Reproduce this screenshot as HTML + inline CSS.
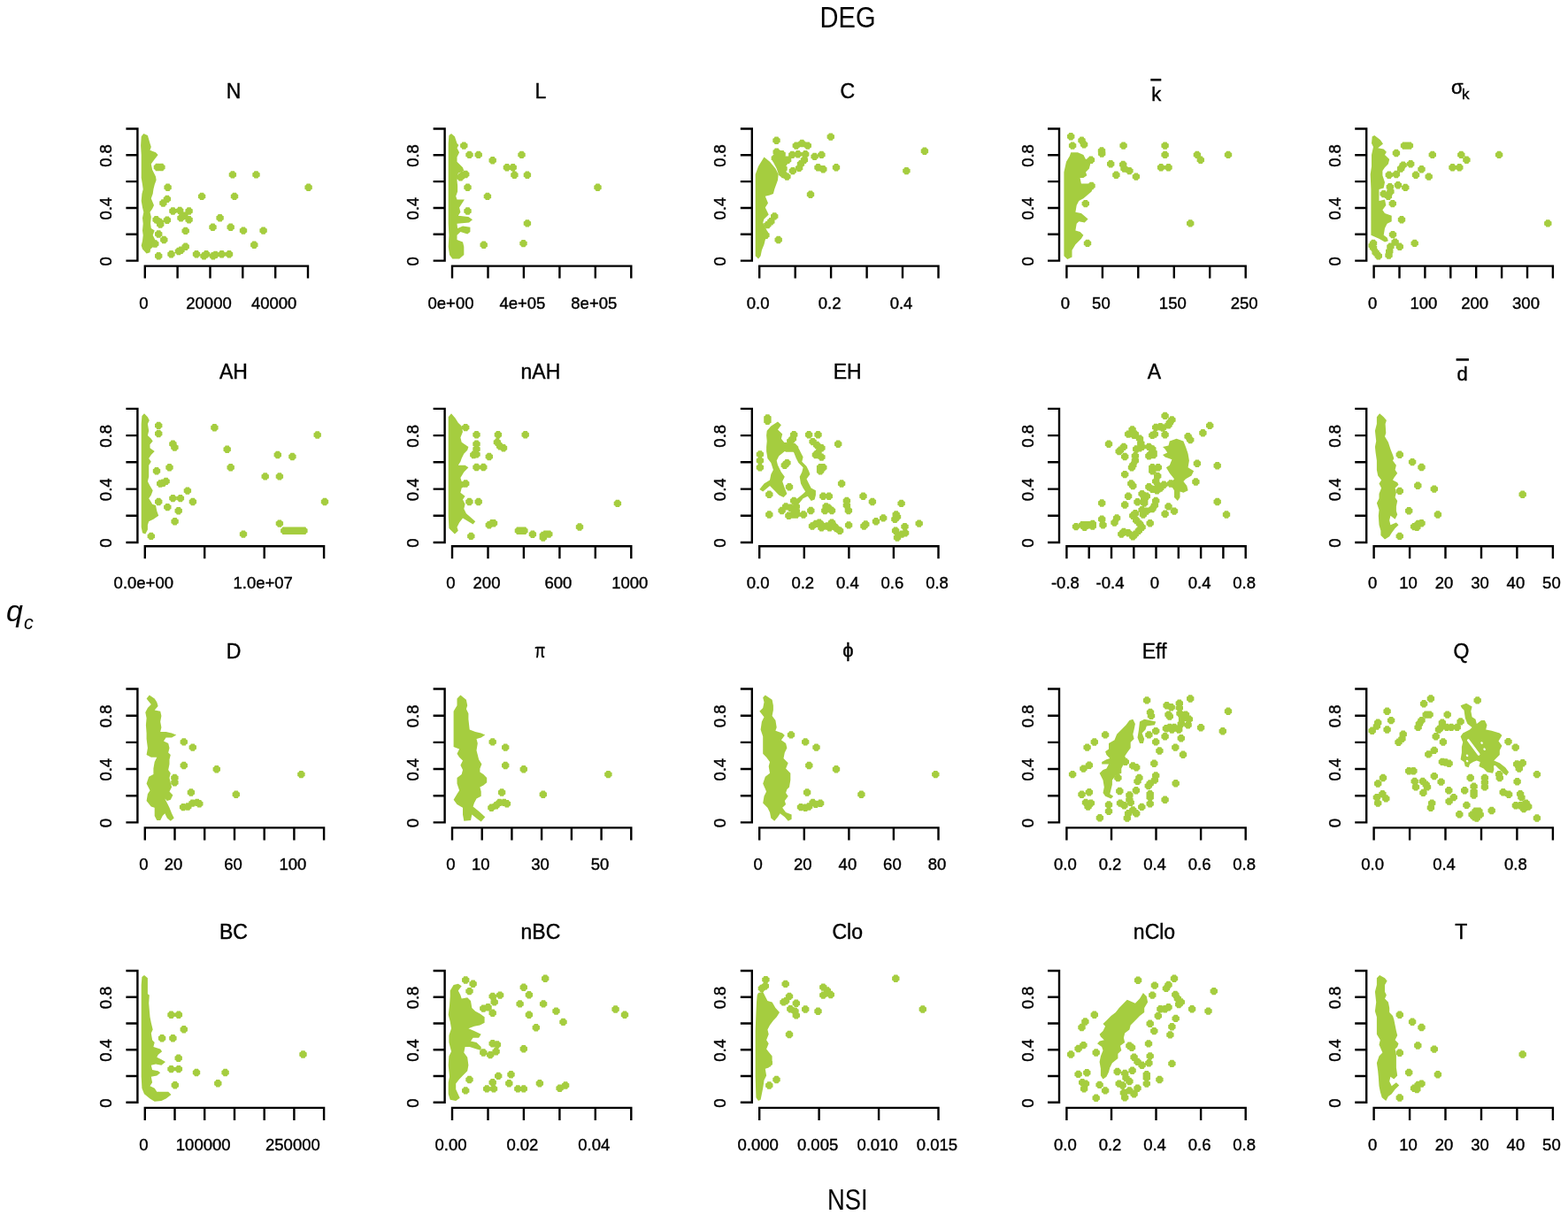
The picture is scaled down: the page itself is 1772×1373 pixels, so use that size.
<!DOCTYPE html><html><head><meta charset="utf-8"><style>html,body{margin:0;padding:0;background:#fff;}svg{display:block}text{font-family:"Liberation Sans",Arial,sans-serif;fill:#000}.t{stroke:#000;stroke-width:0.4px}</style></head><body>
<svg width="1772" height="1373" viewBox="0 0 1772 1373">
<rect width="1772" height="1373" fill="#fff"/>
<text x="958" y="30.7" font-size="33" text-anchor="middle" textLength="63" lengthAdjust="spacingAndGlyphs">DEG</text>
<text x="957.8" y="1367" font-size="33" text-anchor="middle" textLength="45.7" lengthAdjust="spacingAndGlyphs">NSI</text>
<text x="7" y="701.5" font-size="34" font-style="italic">q</text>
<text x="27" y="710.5" font-size="21.5" font-style="italic">c</text>
<g><path d="M142.4 145.5 H155.4 V294.6 H142.4 M142.4 264.8 H155.4 M142.4 235 H155.4 M142.4 205.1 H155.4 M142.4 175.3 H155.4 M163.8 314.6 V300.6 H348 V314.6 M200.6 300.6 V314.6 M237.5 300.6 V314.6 M274.3 300.6 V314.6 M311.2 300.6 V314.6" fill="none" stroke="#000" stroke-width="2.4"/><text class="t" transform="translate(125.9 295.3) rotate(-90)" font-size="18.5" text-anchor="middle">0</text><text class="t" transform="translate(125.9 235.7) rotate(-90)" font-size="18.5" text-anchor="middle">0.4</text><text class="t" transform="translate(125.9 176) rotate(-90)" font-size="18.5" text-anchor="middle">0.8</text><text class="t" x="162.3" y="348.6" font-size="18.5" text-anchor="middle">0</text><text class="t" x="236" y="348.6" font-size="18.5" text-anchor="middle">20000</text><text class="t" x="309.7" y="348.6" font-size="18.5" text-anchor="middle">40000</text><text class="t" x="264" y="111.2" font-size="23" text-anchor="middle">N</text><path d="M162.3 150.9 L166.9 152.9 L169.5 162 L170.8 165.9 L169.5 169.7 L176 172.3 L178.6 174.9 L174.7 180.1 L170.8 185.3 L172.1 191.8 L176 199.6 L176.6 203.5 L174.7 208.7 L173.4 213.9 L172.7 219.1 L170.8 224.3 L174 232 L172.1 235.9 L169.5 239.8 L170.8 245 L170.1 252.8 L170.8 258 L174.7 260.6 L172.7 265.8 L176 272.3 L177.9 275.5 L173.4 278.8 L170.1 281.4 L169.5 285.3 L165.6 286.6 L161 281.4 L159.7 277.5 L161 272.3 L161.7 265.8 L161 260.6 L161.7 252.8 L161 246.3 L162.3 239.8 L161 234.6 L159.7 226.9 L160.4 219.1 L161.7 213.9 L161 208.7 L159.7 200.9 L159.7 174.9 L159.1 164.6 L159.7 154.2Z" fill="#a5cd3f"/><path d="M175.9 184.8 L179.9 184.8 L180.6 186.3 L182.1 187 L182.1 191 L180.6 191.7 L179.9 193.2 L175.9 193.2 L175.2 191.7 L173.7 191 L173.7 187 L175.2 186.3ZM180.4 184.8 L184.4 184.8 L185.1 186.3 L186.6 187 L186.6 191 L185.1 191.7 L184.4 193.2 L180.4 193.2 L179.7 191.7 L178.2 191 L178.2 187 L179.7 186.3ZM260.9 193.2 L264.9 193.2 L265.6 194.7 L267.1 195.4 L267.1 199.4 L265.6 200.1 L264.9 201.6 L260.9 201.6 L260.2 200.1 L258.7 199.4 L258.7 195.4 L260.2 194.7ZM287.5 193.2 L291.5 193.2 L292.2 194.7 L293.7 195.4 L293.7 199.4 L292.2 200.1 L291.5 201.6 L287.5 201.6 L286.8 200.1 L285.3 199.4 L285.3 195.4 L286.8 194.7ZM346.6 207.5 L350.6 207.5 L351.3 209 L352.8 209.7 L352.8 213.7 L351.3 214.4 L350.6 215.9 L346.6 215.9 L345.9 214.4 L344.4 213.7 L344.4 209.7 L345.9 209ZM187.6 207.5 L191.6 207.5 L192.3 209 L193.8 209.7 L193.8 213.7 L192.3 214.4 L191.6 215.9 L187.6 215.9 L186.9 214.4 L185.4 213.7 L185.4 209.7 L186.9 209ZM226.1 217.7 L230.1 217.7 L230.8 219.2 L232.3 219.9 L232.3 223.9 L230.8 224.6 L230.1 226.1 L226.1 226.1 L225.4 224.6 L223.9 223.9 L223.9 219.9 L225.4 219.2ZM263 217.7 L267 217.7 L267.7 219.2 L269.2 219.9 L269.2 223.9 L267.7 224.6 L267 226.1 L263 226.1 L262.3 224.6 L260.8 223.9 L260.8 219.9 L262.3 219.2ZM186.9 220.7 L190.9 220.7 L191.6 222.2 L193.1 222.9 L193.1 226.9 L191.6 227.6 L190.9 229.1 L186.9 229.1 L186.2 227.6 L184.7 226.9 L184.7 222.9 L186.2 222.2ZM182.4 225.3 L186.4 225.3 L187.1 226.8 L188.6 227.5 L188.6 231.5 L187.1 232.2 L186.4 233.7 L182.4 233.7 L181.7 232.2 L180.2 231.5 L180.2 227.5 L181.7 226.8ZM193.4 234.3 L197.4 234.3 L198.1 235.8 L199.6 236.5 L199.6 240.5 L198.1 241.2 L197.4 242.7 L193.4 242.7 L192.7 241.2 L191.2 240.5 L191.2 236.5 L192.7 235.8ZM201.2 233.7 L205.2 233.7 L205.9 235.2 L207.4 235.9 L207.4 239.9 L205.9 240.6 L205.2 242.1 L201.2 242.1 L200.5 240.6 L199 239.9 L199 235.9 L200.5 235.2ZM211.6 234.3 L215.6 234.3 L216.3 235.8 L217.8 236.5 L217.8 240.5 L216.3 241.2 L215.6 242.7 L211.6 242.7 L210.9 241.2 L209.4 240.5 L209.4 236.5 L210.9 235.8ZM206.4 239.5 L210.4 239.5 L211.1 241 L212.6 241.7 L212.6 245.7 L211.1 246.4 L210.4 247.9 L206.4 247.9 L205.7 246.4 L204.2 245.7 L204.2 241.7 L205.7 241ZM202.5 242.1 L206.5 242.1 L207.2 243.6 L208.7 244.3 L208.7 248.3 L207.2 249 L206.5 250.5 L202.5 250.5 L201.8 249 L200.3 248.3 L200.3 244.3 L201.8 243.6ZM211.6 244.1 L215.6 244.1 L216.3 245.6 L217.8 246.3 L217.8 250.3 L216.3 251 L215.6 252.5 L211.6 252.5 L210.9 251 L209.4 250.3 L209.4 246.3 L210.9 245.6ZM174.6 244.1 L178.6 244.1 L179.3 245.6 L180.8 246.3 L180.8 250.3 L179.3 251 L178.6 252.5 L174.6 252.5 L173.9 251 L172.4 250.3 L172.4 246.3 L173.9 245.6ZM178.5 246.7 L182.5 246.7 L183.2 248.2 L184.7 248.9 L184.7 252.9 L183.2 253.6 L182.5 255.1 L178.5 255.1 L177.8 253.6 L176.3 252.9 L176.3 248.9 L177.8 248.2ZM179.2 249.3 L183.2 249.3 L183.9 250.8 L185.4 251.5 L185.4 255.5 L183.9 256.2 L183.2 257.7 L179.2 257.7 L178.5 256.2 L177 255.5 L177 251.5 L178.5 250.8ZM186.9 244.5 L190.9 244.5 L191.6 246 L193.1 246.7 L193.1 250.7 L191.6 251.4 L190.9 252.9 L186.9 252.9 L186.2 251.4 L184.7 250.7 L184.7 246.7 L186.2 246ZM246.6 242.1 L250.6 242.1 L251.3 243.6 L252.8 244.3 L252.8 248.3 L251.3 249 L250.6 250.5 L246.6 250.5 L245.9 249 L244.4 248.3 L244.4 244.3 L245.9 243.6ZM238.5 252.5 L242.5 252.5 L243.2 254 L244.7 254.7 L244.7 258.7 L243.2 259.4 L242.5 260.9 L238.5 260.9 L237.8 259.4 L236.3 258.7 L236.3 254.7 L237.8 254ZM258.7 252.5 L262.7 252.5 L263.4 254 L264.9 254.7 L264.9 258.7 L263.4 259.4 L262.7 260.9 L258.7 260.9 L258 259.4 L256.5 258.7 L256.5 254.7 L258 254ZM273 256.4 L277 256.4 L277.7 257.9 L279.2 258.6 L279.2 262.6 L277.7 263.3 L277 264.8 L273 264.8 L272.3 263.3 L270.8 262.6 L270.8 258.6 L272.3 257.9ZM295.6 256.4 L299.6 256.4 L300.3 257.9 L301.8 258.6 L301.8 262.6 L300.3 263.3 L299.6 264.8 L295.6 264.8 L294.9 263.3 L293.4 262.6 L293.4 258.6 L294.9 257.9ZM207.7 256.7 L211.7 256.7 L212.4 258.2 L213.9 258.9 L213.9 262.9 L212.4 263.6 L211.7 265.1 L207.7 265.1 L207 263.6 L205.5 262.9 L205.5 258.9 L207 258.2ZM177.2 260.3 L181.2 260.3 L181.9 261.8 L183.4 262.5 L183.4 266.5 L181.9 267.2 L181.2 268.7 L177.2 268.7 L176.5 267.2 L175 266.5 L175 262.5 L176.5 261.8ZM183.3 266.8 L187.3 266.8 L188 268.3 L189.5 269 L189.5 273 L188 273.7 L187.3 275.2 L183.3 275.2 L182.6 273.7 L181.1 273 L181.1 269 L182.6 268.3ZM173.3 271.3 L177.3 271.3 L178 272.8 L179.5 273.5 L179.5 277.5 L178 278.2 L177.3 279.7 L173.3 279.7 L172.6 278.2 L171.1 277.5 L171.1 273.5 L172.6 272.8ZM285.3 272.6 L289.3 272.6 L290 274.1 L291.5 274.8 L291.5 278.8 L290 279.5 L289.3 281 L285.3 281 L284.6 279.5 L283.1 278.8 L283.1 274.8 L284.6 274.1ZM207.7 274.6 L211.7 274.6 L212.4 276.1 L213.9 276.8 L213.9 280.8 L212.4 281.5 L211.7 283 L207.7 283 L207 281.5 L205.5 280.8 L205.5 276.8 L207 276.1ZM202.5 278.5 L206.5 278.5 L207.2 280 L208.7 280.7 L208.7 284.7 L207.2 285.4 L206.5 286.9 L202.5 286.9 L201.8 285.4 L200.3 284.7 L200.3 280.7 L201.8 280ZM199.9 279.8 L203.9 279.8 L204.6 281.3 L206.1 282 L206.1 286 L204.6 286.7 L203.9 288.2 L199.9 288.2 L199.2 286.7 L197.7 286 L197.7 282 L199.2 281.3ZM177.2 285 L181.2 285 L181.9 286.5 L183.4 287.2 L183.4 291.2 L181.9 291.9 L181.2 293.4 L177.2 293.4 L176.5 291.9 L175 291.2 L175 287.2 L176.5 286.5ZM191.5 283 L195.5 283 L196.2 284.5 L197.7 285.2 L197.7 289.2 L196.2 289.9 L195.5 291.4 L191.5 291.4 L190.8 289.9 L189.3 289.2 L189.3 285.2 L190.8 284.5ZM220 283 L224 283 L224.7 284.5 L226.2 285.2 L226.2 289.2 L224.7 289.9 L224 291.4 L220 291.4 L219.3 289.9 L217.8 289.2 L217.8 285.2 L219.3 284.5ZM228.5 285 L232.5 285 L233.2 286.5 L234.7 287.2 L234.7 291.2 L233.2 291.9 L232.5 293.4 L228.5 293.4 L227.8 291.9 L226.3 291.2 L226.3 287.2 L227.8 286.5ZM231.1 283 L235.1 283 L235.8 284.5 L237.3 285.2 L237.3 289.2 L235.8 289.9 L235.1 291.4 L231.1 291.4 L230.4 289.9 L228.9 289.2 L228.9 285.2 L230.4 284.5ZM238.9 285 L242.9 285 L243.6 286.5 L245.1 287.2 L245.1 291.2 L243.6 291.9 L242.9 293.4 L238.9 293.4 L238.2 291.9 L236.7 291.2 L236.7 287.2 L238.2 286.5ZM241.5 283.7 L245.5 283.7 L246.2 285.2 L247.7 285.9 L247.7 289.9 L246.2 290.6 L245.5 292.1 L241.5 292.1 L240.8 290.6 L239.3 289.9 L239.3 285.9 L240.8 285.2ZM248.6 283 L252.6 283 L253.3 284.5 L254.8 285.2 L254.8 289.2 L253.3 289.9 L252.6 291.4 L248.6 291.4 L247.9 289.9 L246.4 289.2 L246.4 285.2 L247.9 284.5ZM257 283 L261 283 L261.7 284.5 L263.2 285.2 L263.2 289.2 L261.7 289.9 L261 291.4 L257 291.4 L256.3 289.9 L254.8 289.2 L254.8 285.2 L256.3 284.5Z" fill="#a5cd3f"/></g>
<g><path d="M489.6 145.5 H502.6 V294.6 H489.6 M489.6 264.8 H502.6 M489.6 235 H502.6 M489.6 205.1 H502.6 M489.6 175.3 H502.6 M511 314.6 V300.6 H713.3 V314.6 M551.5 300.6 V314.6 M591.9 300.6 V314.6 M632.4 300.6 V314.6 M672.8 300.6 V314.6" fill="none" stroke="#000" stroke-width="2.4"/><text class="t" transform="translate(473.1 295.3) rotate(-90)" font-size="18.5" text-anchor="middle">0</text><text class="t" transform="translate(473.1 235.7) rotate(-90)" font-size="18.5" text-anchor="middle">0.4</text><text class="t" transform="translate(473.1 176) rotate(-90)" font-size="18.5" text-anchor="middle">0.8</text><text class="t" x="509.5" y="348.6" font-size="18.5" text-anchor="middle">0e+00</text><text class="t" x="590.4" y="348.6" font-size="18.5" text-anchor="middle">4e+05</text><text class="t" x="671.3" y="348.6" font-size="18.5" text-anchor="middle">8e+05</text><text class="t" x="610.9" y="111.2" font-size="23" text-anchor="middle">L</text><path d="M510 150.9 L513.9 154.2 L516.5 162 L518.4 163.9 L516.5 167.2 L519.1 172.3 L516.5 177.5 L516.5 182.7 L523 189.2 L524.3 193.1 L517.8 195.7 L516.5 203.5 L517.1 210 L517.1 216.5 L515.2 221.7 L516.5 225.6 L524.9 225.6 L519.1 234.6 L520.4 239.8 L517.8 243.7 L529.4 245 L534 248.3 L530.1 251.5 L516.5 252.8 L517.1 258 L523 255.4 L531.4 256.7 L531.4 261.9 L528.2 264.5 L520.4 261.9 L516.5 265.8 L516.5 271 L523 273.6 L524.3 278.8 L524.3 287.9 L519.1 292.4 L511.3 292.4 L508 287.9 L506.7 278.8 L507.4 265.8 L506.7 252.8 L506.7 226.9 L506.7 187.9 L506.7 162 L507.4 152.9Z" fill="#a5cd3f"/><path d="M522.3 160.4 L526.3 160.4 L527 161.9 L528.5 162.6 L528.5 166.6 L527 167.3 L526.3 168.8 L522.3 168.8 L521.6 167.3 L520.1 166.6 L520.1 162.6 L521.6 161.9ZM528.5 170.7 L532.5 170.7 L533.2 172.2 L534.7 172.9 L534.7 176.9 L533.2 177.6 L532.5 179.1 L528.5 179.1 L527.8 177.6 L526.3 176.9 L526.3 172.9 L527.8 172.2ZM538.7 170.7 L542.7 170.7 L543.4 172.2 L544.9 172.9 L544.9 176.9 L543.4 177.6 L542.7 179.1 L538.7 179.1 L538 177.6 L536.5 176.9 L536.5 172.9 L538 172.2ZM554.7 177 L558.7 177 L559.4 178.5 L560.9 179.2 L560.9 183.2 L559.4 183.9 L558.7 185.4 L554.7 185.4 L554 183.9 L552.5 183.2 L552.5 179.2 L554 178.5ZM587.5 170.7 L591.5 170.7 L592.2 172.2 L593.7 172.9 L593.7 176.9 L592.2 177.6 L591.5 179.1 L587.5 179.1 L586.8 177.6 L585.3 176.9 L585.3 172.9 L586.8 172.2ZM570.9 185 L574.9 185 L575.6 186.5 L577.1 187.2 L577.1 191.2 L575.6 191.9 L574.9 193.4 L570.9 193.4 L570.2 191.9 L568.7 191.2 L568.7 187.2 L570.2 186.5ZM577.7 185 L581.7 185 L582.4 186.5 L583.9 187.2 L583.9 191.2 L582.4 191.9 L581.7 193.4 L577.7 193.4 L577 191.9 L575.5 191.2 L575.5 187.2 L577 186.5ZM579.4 193.5 L583.4 193.5 L584.1 195 L585.6 195.7 L585.6 199.7 L584.1 200.4 L583.4 201.9 L579.4 201.9 L578.7 200.4 L577.2 199.7 L577.2 195.7 L578.7 195ZM593.9 193.5 L597.9 193.5 L598.6 195 L600.1 195.7 L600.1 199.7 L598.6 200.4 L597.9 201.9 L593.9 201.9 L593.2 200.4 L591.7 199.7 L591.7 195.7 L593.2 195ZM521 193.5 L525 193.5 L525.7 195 L527.2 195.7 L527.2 199.7 L525.7 200.4 L525 201.9 L521 201.9 L520.3 200.4 L518.8 199.7 L518.8 195.7 L520.3 195ZM524.2 192.8 L528.2 192.8 L528.9 194.3 L530.4 195 L530.4 199 L528.9 199.7 L528.2 201.2 L524.2 201.2 L523.5 199.7 L522 199 L522 195 L523.5 194.3ZM518.4 196 L522.4 196 L523.1 197.5 L524.6 198.2 L524.6 202.2 L523.1 202.9 L522.4 204.4 L518.4 204.4 L517.7 202.9 L516.2 202.2 L516.2 198.2 L517.7 197.5ZM526.5 207.5 L530.5 207.5 L531.2 209 L532.7 209.7 L532.7 213.7 L531.2 214.4 L530.5 215.9 L526.5 215.9 L525.8 214.4 L524.3 213.7 L524.3 209.7 L525.8 209ZM548.9 217.7 L552.9 217.7 L553.6 219.2 L555.1 219.9 L555.1 223.9 L553.6 224.6 L552.9 226.1 L548.9 226.1 L548.2 224.6 L546.7 223.9 L546.7 219.9 L548.2 219.2ZM673.5 207.5 L677.5 207.5 L678.2 209 L679.7 209.7 L679.7 213.7 L678.2 214.4 L677.5 215.9 L673.5 215.9 L672.8 214.4 L671.3 213.7 L671.3 209.7 L672.8 209ZM526.5 234.3 L530.5 234.3 L531.2 235.8 L532.7 236.5 L532.7 240.5 L531.2 241.2 L530.5 242.7 L526.5 242.7 L525.8 241.2 L524.3 240.5 L524.3 236.5 L525.8 235.8ZM593.9 248.2 L597.9 248.2 L598.6 249.7 L600.1 250.4 L600.1 254.4 L598.6 255.1 L597.9 256.6 L593.9 256.6 L593.2 255.1 L591.7 254.4 L591.7 250.4 L593.2 249.7ZM544.7 272.6 L548.7 272.6 L549.4 274.1 L550.9 274.8 L550.9 278.8 L549.4 279.5 L548.7 281 L544.7 281 L544 279.5 L542.5 278.8 L542.5 274.8 L544 274.1ZM589.5 270.9 L593.5 270.9 L594.2 272.4 L595.7 273.1 L595.7 277.1 L594.2 277.8 L593.5 279.3 L589.5 279.3 L588.8 277.8 L587.3 277.1 L587.3 273.1 L588.8 272.4Z" fill="#a5cd3f"/></g>
<g><path d="M836.8 145.5 H849.8 V294.6 H836.8 M836.8 264.8 H849.8 M836.8 235 H849.8 M836.8 205.1 H849.8 M836.8 175.3 H849.8 M858.2 314.6 V300.6 H1060.5 V314.6 M898.7 300.6 V314.6 M939.1 300.6 V314.6 M979.6 300.6 V314.6 M1020 300.6 V314.6" fill="none" stroke="#000" stroke-width="2.4"/><text class="t" transform="translate(820.3 295.3) rotate(-90)" font-size="18.5" text-anchor="middle">0</text><text class="t" transform="translate(820.3 235.7) rotate(-90)" font-size="18.5" text-anchor="middle">0.4</text><text class="t" transform="translate(820.3 176) rotate(-90)" font-size="18.5" text-anchor="middle">0.8</text><text class="t" x="856.7" y="348.6" font-size="18.5" text-anchor="middle">0.0</text><text class="t" x="937.6" y="348.6" font-size="18.5" text-anchor="middle">0.2</text><text class="t" x="1018.5" y="348.6" font-size="18.5" text-anchor="middle">0.4</text><text class="t" x="957.7" y="111.2" font-size="23" text-anchor="middle">C</text><path d="M857 292.4 L853.7 289.2 L853.7 265.8 L853.7 239.8 L853.7 213.9 L853.7 197 L857 187.9 L863.5 177.5 L870 182.7 L876.4 190.5 L879.7 197 L879 203.5 L875.2 213.9 L873.9 219.1 L870 220.4 L864.8 221.7 L868 229.5 L864.8 234.6 L868.7 242.4 L863.5 247.6 L862.2 251.5 L868.7 264.5 L864.8 271 L863.5 276.2 L860.9 282.7 L859.6 289.2ZM872.6 180.8 L877.7 173.6 L886.8 177.5 L892.7 181.4 L888.1 187.9 L888.8 195.7 L892 199.6 L888.1 202.2 L880.3 198.3 L877.7 190.5Z" fill="#a5cd3f"/><path d="M875.5 154.5 L879.5 154.5 L880.2 156 L881.7 156.7 L881.7 160.7 L880.2 161.4 L879.5 162.9 L875.5 162.9 L874.8 161.4 L873.3 160.7 L873.3 156.7 L874.8 156ZM936.8 150.4 L940.8 150.4 L941.5 151.9 L943 152.6 L943 156.6 L941.5 157.3 L940.8 158.8 L936.8 158.8 L936.1 157.3 L934.6 156.6 L934.6 152.6 L936.1 151.9ZM1042.9 166.6 L1046.9 166.6 L1047.6 168.1 L1049.1 168.8 L1049.1 172.8 L1047.6 173.5 L1046.9 175 L1042.9 175 L1042.2 173.5 L1040.7 172.8 L1040.7 168.8 L1042.2 168.1ZM897.8 160.4 L901.8 160.4 L902.5 161.9 L904 162.6 L904 166.6 L902.5 167.3 L901.8 168.8 L897.8 168.8 L897.1 167.3 L895.6 166.6 L895.6 162.6 L897.1 161.9ZM904.3 157.8 L908.3 157.8 L909 159.3 L910.5 160 L910.5 164 L909 164.7 L908.3 166.2 L904.3 166.2 L903.6 164.7 L902.1 164 L902.1 160 L903.6 159.3ZM910.8 160.4 L914.8 160.4 L915.5 161.9 L917 162.6 L917 166.6 L915.5 167.3 L914.8 168.8 L910.8 168.8 L910.1 167.3 L908.6 166.6 L908.6 162.6 L910.1 161.9ZM875.7 167.5 L879.7 167.5 L880.4 169 L881.9 169.7 L881.9 173.7 L880.4 174.4 L879.7 175.9 L875.7 175.9 L875 174.4 L873.5 173.7 L873.5 169.7 L875 169ZM881.6 170.1 L885.6 170.1 L886.3 171.6 L887.8 172.3 L887.8 176.3 L886.3 177 L885.6 178.5 L881.6 178.5 L880.9 177 L879.4 176.3 L879.4 172.3 L880.9 171.6ZM873.8 174.6 L877.8 174.6 L878.5 176.1 L880 176.8 L880 180.8 L878.5 181.5 L877.8 183 L873.8 183 L873.1 181.5 L871.6 180.8 L871.6 176.8 L873.1 176.1ZM882.2 174.6 L886.2 174.6 L886.9 176.1 L888.4 176.8 L888.4 180.8 L886.9 181.5 L886.2 183 L882.2 183 L881.5 181.5 L880 180.8 L880 176.8 L881.5 176.1ZM888.1 176.6 L892.1 176.6 L892.8 178.1 L894.3 178.8 L894.3 182.8 L892.8 183.5 L892.1 185 L888.1 185 L887.4 183.5 L885.9 182.8 L885.9 178.8 L887.4 178.1ZM893.3 170.7 L897.3 170.7 L898 172.2 L899.5 172.9 L899.5 176.9 L898 177.6 L897.3 179.1 L893.3 179.1 L892.6 177.6 L891.1 176.9 L891.1 172.9 L892.6 172.2ZM899.8 170.1 L903.8 170.1 L904.5 171.6 L906 172.3 L906 176.3 L904.5 177 L903.8 178.5 L899.8 178.5 L899.1 177 L897.6 176.3 L897.6 172.3 L899.1 171.6ZM908.2 170.1 L912.2 170.1 L912.9 171.6 L914.4 172.3 L914.4 176.3 L912.9 177 L912.2 178.5 L908.2 178.5 L907.5 177 L906 176.3 L906 172.3 L907.5 171.6ZM906.9 176.6 L910.9 176.6 L911.6 178.1 L913.1 178.8 L913.1 182.8 L911.6 183.5 L910.9 185 L906.9 185 L906.2 183.5 L904.7 182.8 L904.7 178.8 L906.2 178.1ZM903 181.1 L907 181.1 L907.7 182.6 L909.2 183.3 L909.2 187.3 L907.7 188 L907 189.5 L903 189.5 L902.3 188 L900.8 187.3 L900.8 183.3 L902.3 182.6ZM901.1 185.7 L905.1 185.7 L905.8 187.2 L907.3 187.9 L907.3 191.9 L905.8 192.6 L905.1 194.1 L901.1 194.1 L900.4 192.6 L898.9 191.9 L898.9 187.9 L900.4 187.2ZM893.9 188.9 L897.9 188.9 L898.6 190.4 L900.1 191.1 L900.1 195.1 L898.6 195.8 L897.9 197.3 L893.9 197.3 L893.2 195.8 L891.7 195.1 L891.7 191.1 L893.2 190.4ZM883.5 186.3 L887.5 186.3 L888.2 187.8 L889.7 188.5 L889.7 192.5 L888.2 193.2 L887.5 194.7 L883.5 194.7 L882.8 193.2 L881.3 192.5 L881.3 188.5 L882.8 187.8ZM883.5 192.8 L887.5 192.8 L888.2 194.3 L889.7 195 L889.7 199 L888.2 199.7 L887.5 201.2 L883.5 201.2 L882.8 199.7 L881.3 199 L881.3 195 L882.8 194.3ZM887.4 195.4 L891.4 195.4 L892.1 196.9 L893.6 197.6 L893.6 201.6 L892.1 202.3 L891.4 203.8 L887.4 203.8 L886.7 202.3 L885.2 201.6 L885.2 197.6 L886.7 196.9ZM918.6 172.7 L922.6 172.7 L923.3 174.2 L924.8 174.9 L924.8 178.9 L923.3 179.6 L922.6 181.1 L918.6 181.1 L917.9 179.6 L916.4 178.9 L916.4 174.9 L917.9 174.2ZM926.4 170.7 L930.4 170.7 L931.1 172.2 L932.6 172.9 L932.6 176.9 L931.1 177.6 L930.4 179.1 L926.4 179.1 L925.7 177.6 L924.2 176.9 L924.2 172.9 L925.7 172.2ZM922.5 185 L926.5 185 L927.2 186.5 L928.7 187.2 L928.7 191.2 L927.2 191.9 L926.5 193.4 L922.5 193.4 L921.8 191.9 L920.3 191.2 L920.3 187.2 L921.8 186.5ZM928.3 187 L932.3 187 L933 188.5 L934.5 189.2 L934.5 193.2 L933 193.9 L932.3 195.4 L928.3 195.4 L927.6 193.9 L926.1 193.2 L926.1 189.2 L927.6 188.5ZM943 185 L947 185 L947.7 186.5 L949.2 187.2 L949.2 191.2 L947.7 191.9 L947 193.4 L943 193.4 L942.3 191.9 L940.8 191.2 L940.8 187.2 L942.3 186.5ZM1022.4 188.9 L1026.4 188.9 L1027.1 190.4 L1028.6 191.1 L1028.6 195.1 L1027.1 195.8 L1026.4 197.3 L1022.4 197.3 L1021.7 195.8 L1020.2 195.1 L1020.2 191.1 L1021.7 190.4ZM914 215.5 L918 215.5 L918.7 217 L920.2 217.7 L920.2 221.7 L918.7 222.4 L918 223.9 L914 223.9 L913.3 222.4 L911.8 221.7 L911.8 217.7 L913.3 217ZM873.2 240.2 L877.2 240.2 L877.9 241.7 L879.4 242.4 L879.4 246.4 L877.9 247.1 L877.2 248.6 L873.2 248.6 L872.5 247.1 L871 246.4 L871 242.4 L872.5 241.7ZM869.3 246 L873.3 246 L874 247.5 L875.5 248.2 L875.5 252.2 L874 252.9 L873.3 254.4 L869.3 254.4 L868.6 252.9 L867.1 252.2 L867.1 248.2 L868.6 247.5ZM865.4 249.9 L869.4 249.9 L870.1 251.4 L871.6 252.1 L871.6 256.1 L870.1 256.8 L869.4 258.3 L865.4 258.3 L864.7 256.8 L863.2 256.1 L863.2 252.1 L864.7 251.4ZM877.7 266.8 L881.7 266.8 L882.4 268.3 L883.9 269 L883.9 273 L882.4 273.7 L881.7 275.2 L877.7 275.2 L877 273.7 L875.5 273 L875.5 269 L877 268.3ZM863.4 261.6 L867.4 261.6 L868.1 263.1 L869.6 263.8 L869.6 267.8 L868.1 268.5 L867.4 270 L863.4 270 L862.7 268.5 L861.2 267.8 L861.2 263.8 L862.7 263.1Z" fill="#a5cd3f"/></g>
<g><path d="M1184 145.5 H1197 V294.6 H1184 M1184 264.8 H1197 M1184 235 H1197 M1184 205.1 H1197 M1184 175.3 H1197 M1205.4 314.6 V300.6 H1407.7 V314.6 M1245.9 300.6 V314.6 M1286.3 300.6 V314.6 M1326.8 300.6 V314.6 M1367.2 300.6 V314.6" fill="none" stroke="#000" stroke-width="2.4"/><text class="t" transform="translate(1167.5 295.3) rotate(-90)" font-size="18.5" text-anchor="middle">0</text><text class="t" transform="translate(1167.5 235.7) rotate(-90)" font-size="18.5" text-anchor="middle">0.4</text><text class="t" transform="translate(1167.5 176) rotate(-90)" font-size="18.5" text-anchor="middle">0.8</text><text class="t" x="1203.9" y="348.6" font-size="18.5" text-anchor="middle">0</text><text class="t" x="1244.4" y="348.6" font-size="18.5" text-anchor="middle">50</text><text class="t" x="1325.3" y="348.6" font-size="18.5" text-anchor="middle">150</text><text class="t" x="1406.2" y="348.6" font-size="18.5" text-anchor="middle">250</text><text class="t" x="1306.7" y="114.2" font-size="22" text-anchor="middle">k</text><path d="M1300.3 90.2 H1312.3" stroke="#000" stroke-width="2.6"/><path d="M1210.2 172.3 L1218 172.3 L1224.4 174.9 L1227 180.1 L1230.9 178.8 L1236.1 180.8 L1232.2 185.3 L1230.9 190.5 L1227 194.4 L1228.3 198.3 L1224.4 200.9 L1220.6 200.9 L1221.9 207.4 L1232.2 207.4 L1236.1 210 L1233.5 216.5 L1224.4 224.3 L1219.3 226.9 L1216.7 232 L1215.4 239.8 L1221.9 241.1 L1229.6 247.6 L1225.7 251.5 L1219.3 250.2 L1216.7 252.8 L1215.4 260.6 L1220.6 261.9 L1224.4 265.8 L1221.9 269.7 L1215.4 276.2 L1211.5 282.7 L1211.5 290.5 L1206.3 293.1 L1202.4 289.2 L1202.4 265.8 L1202.4 239.8 L1202.4 213.9 L1202.4 194.4 L1205 182.7 L1208.9 176.2Z" fill="#a5cd3f"/><path d="M1208.2 150 L1212.2 150 L1212.9 151.5 L1214.4 152.2 L1214.4 156.2 L1212.9 156.9 L1212.2 158.4 L1208.2 158.4 L1207.5 156.9 L1206 156.2 L1206 152.2 L1207.5 151.5ZM1220.5 154.5 L1224.5 154.5 L1225.2 156 L1226.7 156.7 L1226.7 160.7 L1225.2 161.4 L1224.5 162.9 L1220.5 162.9 L1219.8 161.4 L1218.3 160.7 L1218.3 156.7 L1219.8 156ZM1223.1 159.1 L1227.1 159.1 L1227.8 160.6 L1229.3 161.3 L1229.3 165.3 L1227.8 166 L1227.1 167.5 L1223.1 167.5 L1222.4 166 L1220.9 165.3 L1220.9 161.3 L1222.4 160.6ZM1210.1 160.4 L1214.1 160.4 L1214.8 161.9 L1216.3 162.6 L1216.3 166.6 L1214.8 167.3 L1214.1 168.8 L1210.1 168.8 L1209.4 167.3 L1207.9 166.6 L1207.9 162.6 L1209.4 161.9ZM1243 166.2 L1247 166.2 L1247.7 167.7 L1249.2 168.4 L1249.2 172.4 L1247.7 173.1 L1247 174.6 L1243 174.6 L1242.3 173.1 L1240.8 172.4 L1240.8 168.4 L1242.3 167.7ZM1243.2 169.4 L1247.2 169.4 L1247.9 170.9 L1249.4 171.6 L1249.4 175.6 L1247.9 176.3 L1247.2 177.8 L1243.2 177.8 L1242.5 176.3 L1241 175.6 L1241 171.6 L1242.5 170.9ZM1267.6 160.4 L1271.6 160.4 L1272.3 161.9 L1273.8 162.6 L1273.8 166.6 L1272.3 167.3 L1271.6 168.8 L1267.6 168.8 L1266.9 167.3 L1265.4 166.6 L1265.4 162.6 L1266.9 161.9ZM1314.6 160.4 L1318.6 160.4 L1319.3 161.9 L1320.8 162.6 L1320.8 166.6 L1319.3 167.3 L1318.6 168.8 L1314.6 168.8 L1313.9 167.3 L1312.4 166.6 L1312.4 162.6 L1313.9 161.9ZM1314.6 170.7 L1318.6 170.7 L1319.3 172.2 L1320.8 172.9 L1320.8 176.9 L1319.3 177.6 L1318.6 179.1 L1314.6 179.1 L1313.9 177.6 L1312.4 176.9 L1312.4 172.9 L1313.9 172.2ZM1350.9 170.7 L1354.9 170.7 L1355.6 172.2 L1357.1 172.9 L1357.1 176.9 L1355.6 177.6 L1354.9 179.1 L1350.9 179.1 L1350.2 177.6 L1348.7 176.9 L1348.7 172.9 L1350.2 172.2ZM1354.8 176.6 L1358.8 176.6 L1359.5 178.1 L1361 178.8 L1361 182.8 L1359.5 183.5 L1358.8 185 L1354.8 185 L1354.1 183.5 L1352.6 182.8 L1352.6 178.8 L1354.1 178.1ZM1386 170.7 L1390 170.7 L1390.7 172.2 L1392.2 172.9 L1392.2 176.9 L1390.7 177.6 L1390 179.1 L1386 179.1 L1385.3 177.6 L1383.8 176.9 L1383.8 172.9 L1385.3 172.2ZM1230.9 176.6 L1234.9 176.6 L1235.6 178.1 L1237.1 178.8 L1237.1 182.8 L1235.6 183.5 L1234.9 185 L1230.9 185 L1230.2 183.5 L1228.7 182.8 L1228.7 178.8 L1230.2 178.1ZM1253.2 181.1 L1257.2 181.1 L1257.9 182.6 L1259.4 183.3 L1259.4 187.3 L1257.9 188 L1257.2 189.5 L1253.2 189.5 L1252.5 188 L1251 187.3 L1251 183.3 L1252.5 182.6ZM1267.2 181.8 L1271.2 181.8 L1271.9 183.3 L1273.4 184 L1273.4 188 L1271.9 188.7 L1271.2 190.2 L1267.2 190.2 L1266.5 188.7 L1265 188 L1265 184 L1266.5 183.3ZM1268.5 186.3 L1272.5 186.3 L1273.2 187.8 L1274.7 188.5 L1274.7 192.5 L1273.2 193.2 L1272.5 194.7 L1268.5 194.7 L1267.8 193.2 L1266.3 192.5 L1266.3 188.5 L1267.8 187.8ZM1274.4 188.9 L1278.4 188.9 L1279.1 190.4 L1280.6 191.1 L1280.6 195.1 L1279.1 195.8 L1278.4 197.3 L1274.4 197.3 L1273.7 195.8 L1272.2 195.1 L1272.2 191.1 L1273.7 190.4ZM1259.4 193.5 L1263.4 193.5 L1264.1 195 L1265.6 195.7 L1265.6 199.7 L1264.1 200.4 L1263.4 201.9 L1259.4 201.9 L1258.7 200.4 L1257.2 199.7 L1257.2 195.7 L1258.7 195ZM1281.9 195.4 L1285.9 195.4 L1286.6 196.9 L1288.1 197.6 L1288.1 201.6 L1286.6 202.3 L1285.9 203.8 L1281.9 203.8 L1281.2 202.3 L1279.7 201.6 L1279.7 197.6 L1281.2 196.9ZM1310.1 185 L1314.1 185 L1314.8 186.5 L1316.3 187.2 L1316.3 191.2 L1314.8 191.9 L1314.1 193.4 L1310.1 193.4 L1309.4 191.9 L1307.9 191.2 L1307.9 187.2 L1309.4 186.5ZM1318.5 185 L1322.5 185 L1323.2 186.5 L1324.7 187.2 L1324.7 191.2 L1323.2 191.9 L1322.5 193.4 L1318.5 193.4 L1317.8 191.9 L1316.3 191.2 L1316.3 187.2 L1317.8 186.5ZM1224.8 225.9 L1228.8 225.9 L1229.5 227.4 L1231 228.1 L1231 232.1 L1229.5 232.8 L1228.8 234.3 L1224.8 234.3 L1224.1 232.8 L1222.6 232.1 L1222.6 228.1 L1224.1 227.4ZM1343.2 248.2 L1347.2 248.2 L1347.9 249.7 L1349.4 250.4 L1349.4 254.4 L1347.9 255.1 L1347.2 256.6 L1343.2 256.6 L1342.5 255.1 L1341 254.4 L1341 250.4 L1342.5 249.7ZM1227 270.7 L1231 270.7 L1231.7 272.2 L1233.2 272.9 L1233.2 276.9 L1231.7 277.6 L1231 279.1 L1227 279.1 L1226.3 277.6 L1224.8 276.9 L1224.8 272.9 L1226.3 272.2ZM1231.5 205.8 L1235.5 205.8 L1236.2 207.3 L1237.7 208 L1237.7 212 L1236.2 212.7 L1235.5 214.2 L1231.5 214.2 L1230.8 212.7 L1229.3 212 L1229.3 208 L1230.8 207.3Z" fill="#a5cd3f"/></g>
<g><path d="M1531.2 145.5 H1544.2 V294.6 H1531.2 M1531.2 264.8 H1544.2 M1531.2 235 H1544.2 M1531.2 205.1 H1544.2 M1531.2 175.3 H1544.2 M1552.6 314.6 V300.6 H1754.9 V314.6 M1581.5 300.6 V314.6 M1610.4 300.6 V314.6 M1639.3 300.6 V314.6 M1668.2 300.6 V314.6 M1697.1 300.6 V314.6 M1726 300.6 V314.6" fill="none" stroke="#000" stroke-width="2.4"/><text class="t" transform="translate(1514.7 295.3) rotate(-90)" font-size="18.5" text-anchor="middle">0</text><text class="t" transform="translate(1514.7 235.7) rotate(-90)" font-size="18.5" text-anchor="middle">0.4</text><text class="t" transform="translate(1514.7 176) rotate(-90)" font-size="18.5" text-anchor="middle">0.8</text><text class="t" x="1551.1" y="348.6" font-size="18.5" text-anchor="middle">0</text><text class="t" x="1608.9" y="348.6" font-size="18.5" text-anchor="middle">100</text><text class="t" x="1666.7" y="348.6" font-size="18.5" text-anchor="middle">200</text><text class="t" x="1724.5" y="348.6" font-size="18.5" text-anchor="middle">300</text><text class="t" x="1653.5" y="105.7" font-size="22" text-anchor="end">σ</text><text class="t" x="1652.1" y="111.7" font-size="17">k</text><path d="M1553.3 152.9 L1559.8 158.1 L1563 162.6 L1557.2 167.2 L1563.7 168.4 L1566.9 171.7 L1565 174.9 L1570.2 180.1 L1568.9 185.3 L1565 189.2 L1562.4 193.1 L1562.4 198.3 L1565 206.1 L1563.7 212.6 L1558.5 213.9 L1558.5 226.9 L1565 225.6 L1566.3 232 L1562.4 237.2 L1565 241.1 L1572.7 243.7 L1572.7 250.2 L1567.6 252.8 L1565 258 L1563.7 265.8 L1567.6 268.4 L1568.9 272.3 L1565 273.6 L1558.5 269.7 L1549.4 265.8 L1549.4 252.8 L1549.4 239.8 L1549.4 226.9 L1549.4 213.9 L1548.7 197 L1550 187.9 L1550 174.9 L1552 165.9 L1550 162 L1550.7 154.2Z" fill="#a5cd3f"/><path d="M1550 270.7 L1554 270.7 L1554.7 272.2 L1556.2 272.9 L1556.2 276.9 L1554.7 277.6 L1554 279.1 L1550 279.1 L1549.3 277.6 L1547.8 276.9 L1547.8 272.9 L1549.3 272.2ZM1550 275.9 L1554 275.9 L1554.7 277.4 L1556.2 278.1 L1556.2 282.1 L1554.7 282.8 L1554 284.3 L1550 284.3 L1549.3 282.8 L1547.8 282.1 L1547.8 278.1 L1549.3 277.4ZM1552.6 281.1 L1556.6 281.1 L1557.3 282.6 L1558.8 283.3 L1558.8 287.3 L1557.3 288 L1556.6 289.5 L1552.6 289.5 L1551.9 288 L1550.4 287.3 L1550.4 283.3 L1551.9 282.6ZM1555.8 285 L1559.8 285 L1560.5 286.5 L1562 287.2 L1562 291.2 L1560.5 291.9 L1559.8 293.4 L1555.8 293.4 L1555.1 291.9 L1553.6 291.2 L1553.6 287.2 L1555.1 286.5ZM1548.7 273.3 L1552.7 273.3 L1553.4 274.8 L1554.9 275.5 L1554.9 279.5 L1553.4 280.2 L1552.7 281.7 L1548.7 281.7 L1548 280.2 L1546.5 279.5 L1546.5 275.5 L1548 274.8ZM1568.2 279.8 L1572.2 279.8 L1572.9 281.3 L1574.4 282 L1574.4 286 L1572.9 286.7 L1572.2 288.2 L1568.2 288.2 L1567.5 286.7 L1566 286 L1566 282 L1567.5 281.3ZM1567.5 284.3 L1571.5 284.3 L1572.2 285.8 L1573.7 286.5 L1573.7 290.5 L1572.2 291.2 L1571.5 292.7 L1567.5 292.7 L1566.8 291.2 L1565.3 290.5 L1565.3 286.5 L1566.8 285.8ZM1569.4 274.6 L1573.4 274.6 L1574.1 276.1 L1575.6 276.8 L1575.6 280.8 L1574.1 281.5 L1573.4 283 L1569.4 283 L1568.7 281.5 L1567.2 280.8 L1567.2 276.8 L1568.7 276.1ZM1574.6 269.4 L1578.6 269.4 L1579.3 270.9 L1580.8 271.6 L1580.8 275.6 L1579.3 276.3 L1578.6 277.8 L1574.6 277.8 L1573.9 276.3 L1572.4 275.6 L1572.4 271.6 L1573.9 270.9ZM1579.8 274.6 L1583.8 274.6 L1584.5 276.1 L1586 276.8 L1586 280.8 L1584.5 281.5 L1583.8 283 L1579.8 283 L1579.1 281.5 L1577.6 280.8 L1577.6 276.8 L1579.1 276.1ZM1572 260.9 L1576 260.9 L1576.7 262.4 L1578.2 263.1 L1578.2 267.1 L1576.7 267.8 L1576 269.3 L1572 269.3 L1571.3 267.8 L1569.8 267.1 L1569.8 263.1 L1571.3 262.4ZM1596.7 270.7 L1600.7 270.7 L1601.4 272.2 L1602.9 272.9 L1602.9 276.9 L1601.4 277.6 L1600.7 279.1 L1596.7 279.1 L1596 277.6 L1594.5 276.9 L1594.5 272.9 L1596 272.2ZM1568.8 207.1 L1572.8 207.1 L1573.5 208.6 L1575 209.3 L1575 213.3 L1573.5 214 L1572.8 215.5 L1568.8 215.5 L1568.1 214 L1566.6 213.3 L1566.6 209.3 L1568.1 208.6ZM1569.4 212.3 L1573.4 212.3 L1574.1 213.8 L1575.6 214.5 L1575.6 218.5 L1574.1 219.2 L1573.4 220.7 L1569.4 220.7 L1568.7 219.2 L1567.2 218.5 L1567.2 214.5 L1568.7 213.8ZM1566.9 217.5 L1570.9 217.5 L1571.6 219 L1573.1 219.7 L1573.1 223.7 L1571.6 224.4 L1570.9 225.9 L1566.9 225.9 L1566.2 224.4 L1564.7 223.7 L1564.7 219.7 L1566.2 219ZM1561.7 214.9 L1565.7 214.9 L1566.4 216.4 L1567.9 217.1 L1567.9 221.1 L1566.4 221.8 L1565.7 223.3 L1561.7 223.3 L1561 221.8 L1559.5 221.1 L1559.5 217.1 L1561 216.4ZM1577.9 205.1 L1581.9 205.1 L1582.6 206.6 L1584.1 207.3 L1584.1 211.3 L1582.6 212 L1581.9 213.5 L1577.9 213.5 L1577.2 212 L1575.7 211.3 L1575.7 207.3 L1577.2 206.6ZM1586.3 207.7 L1590.3 207.7 L1591 209.2 L1592.5 209.9 L1592.5 213.9 L1591 214.6 L1590.3 216.1 L1586.3 216.1 L1585.6 214.6 L1584.1 213.9 L1584.1 209.9 L1585.6 209.2ZM1571.8 225.9 L1575.8 225.9 L1576.5 227.4 L1578 228.1 L1578 232.1 L1576.5 232.8 L1575.8 234.3 L1571.8 234.3 L1571.1 232.8 L1569.6 232.1 L1569.6 228.1 L1571.1 227.4ZM1582 244.1 L1586 244.1 L1586.7 245.6 L1588.2 246.3 L1588.2 250.3 L1586.7 251 L1586 252.5 L1582 252.5 L1581.3 251 L1579.8 250.3 L1579.8 246.3 L1581.3 245.6ZM1575.9 168.8 L1579.9 168.8 L1580.6 170.3 L1582.1 171 L1582.1 175 L1580.6 175.7 L1579.9 177.2 L1575.9 177.2 L1575.2 175.7 L1573.7 175 L1573.7 171 L1575.2 170.3ZM1588.3 160.4 L1592.3 160.4 L1593 161.9 L1594.5 162.6 L1594.5 166.6 L1593 167.3 L1592.3 168.8 L1588.3 168.8 L1587.6 167.3 L1586.1 166.6 L1586.1 162.6 L1587.6 161.9ZM1590.9 160.4 L1594.9 160.4 L1595.6 161.9 L1597.1 162.6 L1597.1 166.6 L1595.6 167.3 L1594.9 168.8 L1590.9 168.8 L1590.2 167.3 L1588.7 166.6 L1588.7 162.6 L1590.2 161.9ZM1585 160.4 L1589 160.4 L1589.7 161.9 L1591.2 162.6 L1591.2 166.6 L1589.7 167.3 L1589 168.8 L1585 168.8 L1584.3 167.3 L1582.8 166.6 L1582.8 162.6 L1584.3 161.9ZM1616.8 170.7 L1620.8 170.7 L1621.5 172.2 L1623 172.9 L1623 176.9 L1621.5 177.6 L1620.8 179.1 L1616.8 179.1 L1616.1 177.6 L1614.6 176.9 L1614.6 172.9 L1616.1 172.2ZM1649.3 170.7 L1653.3 170.7 L1654 172.2 L1655.5 172.9 L1655.5 176.9 L1654 177.6 L1653.3 179.1 L1649.3 179.1 L1648.6 177.6 L1647.1 176.9 L1647.1 172.9 L1648.6 172.2ZM1655.4 176.6 L1659.4 176.6 L1660.1 178.1 L1661.6 178.8 L1661.6 182.8 L1660.1 183.5 L1659.4 185 L1655.4 185 L1654.7 183.5 L1653.2 182.8 L1653.2 178.8 L1654.7 178.1ZM1639.5 185 L1643.5 185 L1644.2 186.5 L1645.7 187.2 L1645.7 191.2 L1644.2 191.9 L1643.5 193.4 L1639.5 193.4 L1638.8 191.9 L1637.3 191.2 L1637.3 187.2 L1638.8 186.5ZM1647.3 185 L1651.3 185 L1652 186.5 L1653.5 187.2 L1653.5 191.2 L1652 191.9 L1651.3 193.4 L1647.3 193.4 L1646.6 191.9 L1645.1 191.2 L1645.1 187.2 L1646.6 186.5ZM1692.1 170.7 L1696.1 170.7 L1696.8 172.2 L1698.3 172.9 L1698.3 176.9 L1696.8 177.6 L1696.1 179.1 L1692.1 179.1 L1691.4 177.6 L1689.9 176.9 L1689.9 172.9 L1691.4 172.2ZM1567.8 193.5 L1571.8 193.5 L1572.5 195 L1574 195.7 L1574 199.7 L1572.5 200.4 L1571.8 201.9 L1567.8 201.9 L1567.1 200.4 L1565.6 199.7 L1565.6 195.7 L1567.1 195ZM1575.9 192.8 L1579.9 192.8 L1580.6 194.3 L1582.1 195 L1582.1 199 L1580.6 199.7 L1579.9 201.2 L1575.9 201.2 L1575.2 199.7 L1573.7 199 L1573.7 195 L1575.2 194.3ZM1581.1 186.3 L1585.1 186.3 L1585.8 187.8 L1587.3 188.5 L1587.3 192.5 L1585.8 193.2 L1585.1 194.7 L1581.1 194.7 L1580.4 193.2 L1578.9 192.5 L1578.9 188.5 L1580.4 187.8ZM1583.7 182.4 L1587.7 182.4 L1588.4 183.9 L1589.9 184.6 L1589.9 188.6 L1588.4 189.3 L1587.7 190.8 L1583.7 190.8 L1583 189.3 L1581.5 188.6 L1581.5 184.6 L1583 183.9ZM1592.2 181.1 L1596.2 181.1 L1596.9 182.6 L1598.4 183.3 L1598.4 187.3 L1596.9 188 L1596.2 189.5 L1592.2 189.5 L1591.5 188 L1590 187.3 L1590 183.3 L1591.5 182.6ZM1598 193.5 L1602 193.5 L1602.7 195 L1604.2 195.7 L1604.2 199.7 L1602.7 200.4 L1602 201.9 L1598 201.9 L1597.3 200.4 L1595.8 199.7 L1595.8 195.7 L1597.3 195ZM1604.5 187 L1608.5 187 L1609.2 188.5 L1610.7 189.2 L1610.7 193.2 L1609.2 193.9 L1608.5 195.4 L1604.5 195.4 L1603.8 193.9 L1602.3 193.2 L1602.3 189.2 L1603.8 188.5ZM1612.7 195.4 L1616.7 195.4 L1617.4 196.9 L1618.9 197.6 L1618.9 201.6 L1617.4 202.3 L1616.7 203.8 L1612.7 203.8 L1612 202.3 L1610.5 201.6 L1610.5 197.6 L1612 196.9ZM1747.3 248.2 L1751.3 248.2 L1752 249.7 L1753.5 250.4 L1753.5 254.4 L1752 255.1 L1751.3 256.6 L1747.3 256.6 L1746.6 255.1 L1745.1 254.4 L1745.1 250.4 L1746.6 249.7Z" fill="#a5cd3f"/></g>
<g><path d="M142.4 461.9 H155.4 V613 H142.4 M142.4 582.8 H155.4 M142.4 552.6 H155.4 M142.4 522.3 H155.4 M142.4 492.1 H155.4 M163.8 631.2 V617.2 H366.1 V631.2 M231.2 617.2 V631.2 M298.7 617.2 V631.2" fill="none" stroke="#000" stroke-width="2.4"/><text class="t" transform="translate(125.9 613.7) rotate(-90)" font-size="18.5" text-anchor="middle">0</text><text class="t" transform="translate(125.9 553.3) rotate(-90)" font-size="18.5" text-anchor="middle">0.4</text><text class="t" transform="translate(125.9 492.8) rotate(-90)" font-size="18.5" text-anchor="middle">0.8</text><text class="t" x="162.3" y="665.2" font-size="18.5" text-anchor="middle">0.0e+00</text><text class="t" x="297.2" y="665.2" font-size="18.5" text-anchor="middle">1.0e+07</text><text class="t" x="264" y="427.8" font-size="23" text-anchor="middle">AH</text><path d="M163 467.3 L166.9 471.2 L168.8 475.1 L166.9 479 L168.2 486.7 L166.9 491.9 L170.8 495.8 L172.7 498.4 L169.5 502.3 L169.5 506.2 L174.7 510.1 L170.8 514 L168.2 517.9 L170.8 521.8 L168.2 525.7 L168.2 530.9 L168.2 538.7 L166.9 543.9 L169.5 549 L172.7 554.2 L170.8 559.4 L168.2 563.3 L170.8 567.2 L172.1 569.8 L176 571.1 L177.3 577.6 L179.2 582.8 L173.4 586.7 L168.2 589.3 L166.9 593.2 L166.9 598.4 L164.3 603.6 L161 602.3 L159.7 595.8 L159.7 569.8 L159.7 517.9 L159.7 479 L160.4 469.9Z" fill="#a5cd3f"/><path d="M177.2 476.7 L181.2 476.7 L181.9 478.2 L183.4 478.9 L183.4 482.9 L181.9 483.6 L181.2 485.1 L177.2 485.1 L176.5 483.6 L175 482.9 L175 478.9 L176.5 478.2ZM177.2 485.8 L181.2 485.8 L181.9 487.3 L183.4 488 L183.4 492 L181.9 492.7 L181.2 494.2 L177.2 494.2 L176.5 492.7 L175 492 L175 488 L176.5 487.3ZM240.4 479 L244.4 479 L245.1 480.5 L246.6 481.2 L246.6 485.2 L245.1 485.9 L244.4 487.4 L240.4 487.4 L239.7 485.9 L238.2 485.2 L238.2 481.2 L239.7 480.5ZM356.7 487.3 L360.7 487.3 L361.4 488.8 L362.9 489.5 L362.9 493.5 L361.4 494.2 L360.7 495.7 L356.7 495.7 L356 494.2 L354.5 493.5 L354.5 489.5 L356 488.8ZM193.4 497.5 L197.4 497.5 L198.1 499 L199.6 499.7 L199.6 503.7 L198.1 504.4 L197.4 505.9 L193.4 505.9 L192.7 504.4 L191.2 503.7 L191.2 499.7 L192.7 499ZM195.4 501.4 L199.4 501.4 L200.1 502.9 L201.6 503.6 L201.6 507.6 L200.1 508.3 L199.4 509.8 L195.4 509.8 L194.7 508.3 L193.2 507.6 L193.2 503.6 L194.7 502.9ZM254.7 503.6 L258.7 503.6 L259.4 505.1 L260.9 505.8 L260.9 509.8 L259.4 510.5 L258.7 512 L254.7 512 L254 510.5 L252.5 509.8 L252.5 505.8 L254 505.1ZM311.8 509.8 L315.8 509.8 L316.5 511.3 L318 512 L318 516 L316.5 516.7 L315.8 518.2 L311.8 518.2 L311.1 516.7 L309.6 516 L309.6 512 L311.1 511.3ZM328.4 511.8 L332.4 511.8 L333.1 513.3 L334.6 514 L334.6 518 L333.1 518.7 L332.4 520.2 L328.4 520.2 L327.7 518.7 L326.2 518 L326.2 514 L327.7 513.3ZM189.5 524.1 L193.5 524.1 L194.2 525.6 L195.7 526.3 L195.7 530.3 L194.2 531 L193.5 532.5 L189.5 532.5 L188.8 531 L187.3 530.3 L187.3 526.3 L188.8 525.6ZM175 528 L179 528 L179.7 529.5 L181.2 530.2 L181.2 534.2 L179.7 534.9 L179 536.4 L175 536.4 L174.3 534.9 L172.8 534.2 L172.8 530.2 L174.3 529.5ZM258.7 524.1 L262.7 524.1 L263.4 525.6 L264.9 526.3 L264.9 530.3 L263.4 531 L262.7 532.5 L258.7 532.5 L258 531 L256.5 530.3 L256.5 526.3 L258 525.6ZM297.7 534.2 L301.7 534.2 L302.4 535.7 L303.9 536.4 L303.9 540.4 L302.4 541.1 L301.7 542.6 L297.7 542.6 L297 541.1 L295.5 540.4 L295.5 536.4 L297 535.7ZM313.9 534.2 L317.9 534.2 L318.6 535.7 L320.1 536.4 L320.1 540.4 L318.6 541.1 L317.9 542.6 L313.9 542.6 L313.2 541.1 L311.7 540.4 L311.7 536.4 L313.2 535.7ZM179.2 542.3 L183.2 542.3 L183.9 543.8 L185.4 544.5 L185.4 548.5 L183.9 549.2 L183.2 550.7 L179.2 550.7 L178.5 549.2 L177 548.5 L177 544.5 L178.5 543.8ZM182.4 541.6 L186.4 541.6 L187.1 543.1 L188.6 543.8 L188.6 547.8 L187.1 548.5 L186.4 550 L182.4 550 L181.7 548.5 L180.2 547.8 L180.2 543.8 L181.7 543.1ZM185.6 539.7 L189.6 539.7 L190.3 541.2 L191.8 541.9 L191.8 545.9 L190.3 546.6 L189.6 548.1 L185.6 548.1 L184.9 546.6 L183.4 545.9 L183.4 541.9 L184.9 541.2ZM209.9 550.4 L213.9 550.4 L214.6 551.9 L216.1 552.6 L216.1 556.6 L214.6 557.3 L213.9 558.8 L209.9 558.8 L209.2 557.3 L207.7 556.6 L207.7 552.6 L209.2 551.9ZM193.4 558.9 L197.4 558.9 L198.1 560.4 L199.6 561.1 L199.6 565.1 L198.1 565.8 L197.4 567.3 L193.4 567.3 L192.7 565.8 L191.2 565.1 L191.2 561.1 L192.7 560.4ZM201.9 558.9 L205.9 558.9 L206.6 560.4 L208.1 561.1 L208.1 565.1 L206.6 565.8 L205.9 567.3 L201.9 567.3 L201.2 565.8 L199.7 565.1 L199.7 561.1 L201.2 560.4ZM215.9 562.8 L219.9 562.8 L220.6 564.3 L222.1 565 L222.1 569 L220.6 569.7 L219.9 571.2 L215.9 571.2 L215.2 569.7 L213.7 569 L213.7 565 L215.2 564.3ZM177.2 562.8 L181.2 562.8 L181.9 564.3 L183.4 565 L183.4 569 L181.9 569.7 L181.2 571.2 L177.2 571.2 L176.5 569.7 L175 569 L175 565 L176.5 564.3ZM365 562.8 L369 562.8 L369.7 564.3 L371.2 565 L371.2 569 L369.7 569.7 L369 571.2 L365 571.2 L364.3 569.7 L362.8 569 L362.8 565 L364.3 564.3ZM187.3 568.9 L191.3 568.9 L192 570.4 L193.5 571.1 L193.5 575.1 L192 575.8 L191.3 577.3 L187.3 577.3 L186.6 575.8 L185.1 575.1 L185.1 571.1 L186.6 570.4ZM199.7 573 L203.7 573 L204.4 574.5 L205.9 575.2 L205.9 579.2 L204.4 579.9 L203.7 581.4 L199.7 581.4 L199 579.9 L197.5 579.2 L197.5 575.2 L199 574.5ZM195.6 585.1 L199.6 585.1 L200.3 586.6 L201.8 587.3 L201.8 591.3 L200.3 592 L199.6 593.5 L195.6 593.5 L194.9 592 L193.4 591.3 L193.4 587.3 L194.9 586.6ZM313.9 587.4 L317.9 587.4 L318.6 588.9 L320.1 589.6 L320.1 593.6 L318.6 594.3 L317.9 595.8 L313.9 595.8 L313.2 594.3 L311.7 593.6 L311.7 589.6 L313.2 588.9ZM168.8 601.7 L172.8 601.7 L173.5 603.2 L175 603.9 L175 607.9 L173.5 608.6 L172.8 610.1 L168.8 610.1 L168.1 608.6 L166.6 607.9 L166.6 603.9 L168.1 603.2ZM273 599.4 L277 599.4 L277.7 600.9 L279.2 601.6 L279.2 605.6 L277.7 606.3 L277 607.8 L273 607.8 L272.3 606.3 L270.8 605.6 L270.8 601.6 L272.3 600.9ZM319.3 595.5 L323.3 595.5 L324 597 L325.5 597.7 L325.5 601.7 L324 602.4 L323.3 603.9 L319.3 603.9 L318.6 602.4 L317.1 601.7 L317.1 597.7 L318.6 597ZM322.6 595.5 L326.6 595.5 L327.3 597 L328.8 597.7 L328.8 601.7 L327.3 602.4 L326.6 603.9 L322.6 603.9 L321.9 602.4 L320.4 601.7 L320.4 597.7 L321.9 597ZM325.8 595.5 L329.8 595.5 L330.5 597 L332 597.7 L332 601.7 L330.5 602.4 L329.8 603.9 L325.8 603.9 L325.1 602.4 L323.6 601.7 L323.6 597.7 L325.1 597ZM329.1 595.5 L333.1 595.5 L333.8 597 L335.3 597.7 L335.3 601.7 L333.8 602.4 L333.1 603.9 L329.1 603.9 L328.4 602.4 L326.9 601.7 L326.9 597.7 L328.4 597ZM332.3 595.5 L336.3 595.5 L337 597 L338.5 597.7 L338.5 601.7 L337 602.4 L336.3 603.9 L332.3 603.9 L331.6 602.4 L330.1 601.7 L330.1 597.7 L331.6 597ZM335.6 595.5 L339.6 595.5 L340.3 597 L341.8 597.7 L341.8 601.7 L340.3 602.4 L339.6 603.9 L335.6 603.9 L334.9 602.4 L333.4 601.7 L333.4 597.7 L334.9 597ZM338.8 595.5 L342.8 595.5 L343.5 597 L345 597.7 L345 601.7 L343.5 602.4 L342.8 603.9 L338.8 603.9 L338.1 602.4 L336.6 601.7 L336.6 597.7 L338.1 597ZM341.4 595.5 L345.4 595.5 L346.1 597 L347.6 597.7 L347.6 601.7 L346.1 602.4 L345.4 603.9 L341.4 603.9 L340.7 602.4 L339.2 601.7 L339.2 597.7 L340.7 597Z" fill="#a5cd3f"/></g>
<g><path d="M489.6 461.9 H502.6 V613 H489.6 M489.6 582.8 H502.6 M489.6 552.6 H502.6 M489.6 522.3 H502.6 M489.6 492.1 H502.6 M511 631.2 V617.2 H713.3 V631.2 M551.5 617.2 V631.2 M591.9 617.2 V631.2 M632.4 617.2 V631.2 M672.8 617.2 V631.2" fill="none" stroke="#000" stroke-width="2.4"/><text class="t" transform="translate(473.1 613.7) rotate(-90)" font-size="18.5" text-anchor="middle">0</text><text class="t" transform="translate(473.1 553.3) rotate(-90)" font-size="18.5" text-anchor="middle">0.4</text><text class="t" transform="translate(473.1 492.8) rotate(-90)" font-size="18.5" text-anchor="middle">0.8</text><text class="t" x="509.5" y="665.2" font-size="18.5" text-anchor="middle">0</text><text class="t" x="550" y="665.2" font-size="18.5" text-anchor="middle">200</text><text class="t" x="630.9" y="665.2" font-size="18.5" text-anchor="middle">600</text><text class="t" x="711.8" y="665.2" font-size="18.5" text-anchor="middle">1000</text><text class="t" x="610.9" y="427.8" font-size="23" text-anchor="middle">nAH</text><path d="M510 467.3 L514.5 472.5 L517.8 477.7 L521.7 481.6 L523 488 L520.4 494.5 L521.7 499.7 L529.4 504.9 L528.2 508.8 L524.3 512.7 L521.7 517.9 L520.4 521.8 L517.8 525.7 L525.6 525.7 L529.4 528.3 L524.3 533.5 L520.4 540 L521.7 543.9 L529.4 546.5 L525.6 549.7 L521.7 551.6 L520.4 556.8 L525.6 560.7 L523 564.6 L525.6 569.8 L524.3 575 L526.9 580.2 L537.2 589.3 L534.6 592.5 L523 585.4 L519.1 590.6 L516.5 595.8 L517.8 599.7 L513.9 603.6 L507.4 597.1 L506.7 582.8 L506.7 569.8 L506.7 543.9 L506.7 517.9 L506.7 491.9 L506.7 471.2Z" fill="#a5cd3f"/><path d="M524.2 478.9 L528.2 478.9 L528.9 480.4 L530.4 481.1 L530.4 485.1 L528.9 485.8 L528.2 487.3 L524.2 487.3 L523.5 485.8 L522 485.1 L522 481.1 L523.5 480.4ZM536.5 487.1 L540.5 487.1 L541.2 488.6 L542.7 489.3 L542.7 493.3 L541.2 494 L540.5 495.5 L536.5 495.5 L535.8 494 L534.3 493.3 L534.3 489.3 L535.8 488.6ZM560.9 487.1 L564.9 487.1 L565.6 488.6 L567.1 489.3 L567.1 493.3 L565.6 494 L564.9 495.5 L560.9 495.5 L560.2 494 L558.7 493.3 L558.7 489.3 L560.2 488.6ZM591.7 487.1 L595.7 487.1 L596.4 488.6 L597.9 489.3 L597.9 493.3 L596.4 494 L595.7 495.5 L591.7 495.5 L591 494 L589.5 493.3 L589.5 489.3 L591 488.6ZM536.5 497.5 L540.5 497.5 L541.2 499 L542.7 499.7 L542.7 503.7 L541.2 504.4 L540.5 505.9 L536.5 505.9 L535.8 504.4 L534.3 503.7 L534.3 499.7 L535.8 499ZM536.5 503.3 L540.5 503.3 L541.2 504.8 L542.7 505.5 L542.7 509.5 L541.2 510.2 L540.5 511.7 L536.5 511.7 L535.8 510.2 L534.3 509.5 L534.3 505.5 L535.8 504.8ZM536.5 509.2 L540.5 509.2 L541.2 510.7 L542.7 511.4 L542.7 515.4 L541.2 516.1 L540.5 517.6 L536.5 517.6 L535.8 516.1 L534.3 515.4 L534.3 511.4 L535.8 510.7ZM533.3 509.8 L537.3 509.8 L538 511.3 L539.5 512 L539.5 516 L538 516.7 L537.3 518.2 L533.3 518.2 L532.6 516.7 L531.1 516 L531.1 512 L532.6 511.3ZM559.9 495.5 L563.9 495.5 L564.6 497 L566.1 497.7 L566.1 501.7 L564.6 502.4 L563.9 503.9 L559.9 503.9 L559.2 502.4 L557.7 501.7 L557.7 497.7 L559.2 497ZM563.1 500.1 L567.1 500.1 L567.8 501.6 L569.3 502.3 L569.3 506.3 L567.8 507 L567.1 508.5 L563.1 508.5 L562.4 507 L560.9 506.3 L560.9 502.3 L562.4 501.6ZM567 502 L571 502 L571.7 503.5 L573.2 504.2 L573.2 508.2 L571.7 508.9 L571 510.4 L567 510.4 L566.3 508.9 L564.8 508.2 L564.8 504.2 L566.3 503.5ZM550.8 511.8 L554.8 511.8 L555.5 513.3 L557 514 L557 518 L555.5 518.7 L554.8 520.2 L550.8 520.2 L550.1 518.7 L548.6 518 L548.6 514 L550.1 513.3ZM536.5 523.8 L540.5 523.8 L541.2 525.3 L542.7 526 L542.7 530 L541.2 530.7 L540.5 532.2 L536.5 532.2 L535.8 530.7 L534.3 530 L534.3 526 L535.8 525.3ZM544.3 523.8 L548.3 523.8 L549 525.3 L550.5 526 L550.5 530 L549 530.7 L548.3 532.2 L544.3 532.2 L543.6 530.7 L542.1 530 L542.1 526 L543.6 525.3ZM524.2 542.3 L528.2 542.3 L528.9 543.8 L530.4 544.5 L530.4 548.5 L528.9 549.2 L528.2 550.7 L524.2 550.7 L523.5 549.2 L522 548.5 L522 544.5 L523.5 543.8ZM528.4 562.8 L532.4 562.8 L533.1 564.3 L534.6 565 L534.6 569 L533.1 569.7 L532.4 571.2 L528.4 571.2 L527.7 569.7 L526.2 569 L526.2 565 L527.7 564.3ZM538.7 562.8 L542.7 562.8 L543.4 564.3 L544.9 565 L544.9 569 L543.4 569.7 L542.7 571.2 L538.7 571.2 L538 569.7 L536.5 569 L536.5 565 L538 564.3ZM695.9 564.7 L699.9 564.7 L700.6 566.2 L702.1 566.9 L702.1 570.9 L700.6 571.6 L699.9 573.1 L695.9 573.1 L695.2 571.6 L693.7 570.9 L693.7 566.9 L695.2 566.2ZM550.8 589 L554.8 589 L555.5 590.5 L557 591.2 L557 595.2 L555.5 595.9 L554.8 597.4 L550.8 597.4 L550.1 595.9 L548.6 595.2 L548.6 591.2 L550.1 590.5ZM554.1 587 L558.1 587 L558.8 588.5 L560.3 589.2 L560.3 593.2 L558.8 593.9 L558.1 595.4 L554.1 595.4 L553.4 593.9 L551.9 593.2 L551.9 589.2 L553.4 588.5ZM556 587 L560 587 L560.7 588.5 L562.2 589.2 L562.2 593.2 L560.7 593.9 L560 595.4 L556 595.4 L555.3 593.9 L553.8 593.2 L553.8 589.2 L555.3 588.5ZM653 591.3 L657 591.3 L657.7 592.8 L659.2 593.5 L659.2 597.5 L657.7 598.2 L657 599.7 L653 599.7 L652.3 598.2 L650.8 597.5 L650.8 593.5 L652.3 592.8ZM583.9 595.5 L587.9 595.5 L588.6 597 L590.1 597.7 L590.1 601.7 L588.6 602.4 L587.9 603.9 L583.9 603.9 L583.2 602.4 L581.7 601.7 L581.7 597.7 L583.2 597ZM587.2 595.5 L591.2 595.5 L591.9 597 L593.4 597.7 L593.4 601.7 L591.9 602.4 L591.2 603.9 L587.2 603.9 L586.5 602.4 L585 601.7 L585 597.7 L586.5 597ZM590.4 595.5 L594.4 595.5 L595.1 597 L596.6 597.7 L596.6 601.7 L595.1 602.4 L594.4 603.9 L590.4 603.9 L589.7 602.4 L588.2 601.7 L588.2 597.7 L589.7 597ZM599.9 599.6 L603.9 599.6 L604.6 601.1 L606.1 601.8 L606.1 605.8 L604.6 606.5 L603.9 608 L599.9 608 L599.2 606.5 L597.7 605.8 L597.7 601.8 L599.2 601.1ZM611.8 600.7 L615.8 600.7 L616.5 602.2 L618 602.9 L618 606.9 L616.5 607.6 L615.8 609.1 L611.8 609.1 L611.1 607.6 L609.6 606.9 L609.6 602.9 L611.1 602.2ZM614.4 599.4 L618.4 599.4 L619.1 600.9 L620.6 601.6 L620.6 605.6 L619.1 606.3 L618.4 607.8 L614.4 607.8 L613.7 606.3 L612.2 605.6 L612.2 601.6 L613.7 600.9ZM618.3 599.4 L622.3 599.4 L623 600.9 L624.5 601.6 L624.5 605.6 L623 606.3 L622.3 607.8 L618.3 607.8 L617.6 606.3 L616.1 605.6 L616.1 601.6 L617.6 600.9ZM611.8 603.3 L615.8 603.3 L616.5 604.8 L618 605.5 L618 609.5 L616.5 610.2 L615.8 611.7 L611.8 611.7 L611.1 610.2 L609.6 609.5 L609.6 605.5 L611.1 604.8ZM530.3 601.7 L534.3 601.7 L535 603.2 L536.5 603.9 L536.5 607.9 L535 608.6 L534.3 610.1 L530.3 610.1 L529.6 608.6 L528.1 607.9 L528.1 603.9 L529.6 603.2Z" fill="#a5cd3f"/></g>
<g><path d="M836.8 461.9 H849.8 V613 H836.8 M836.8 582.8 H849.8 M836.8 552.6 H849.8 M836.8 522.3 H849.8 M836.8 492.1 H849.8 M858.2 631.2 V617.2 H1060.5 V631.2 M908.8 617.2 V631.2 M959.4 617.2 V631.2 M1009.9 617.2 V631.2" fill="none" stroke="#000" stroke-width="2.4"/><text class="t" transform="translate(820.3 613.7) rotate(-90)" font-size="18.5" text-anchor="middle">0</text><text class="t" transform="translate(820.3 553.3) rotate(-90)" font-size="18.5" text-anchor="middle">0.4</text><text class="t" transform="translate(820.3 492.8) rotate(-90)" font-size="18.5" text-anchor="middle">0.8</text><text class="t" x="856.7" y="665.2" font-size="18.5" text-anchor="middle">0.0</text><text class="t" x="907.3" y="665.2" font-size="18.5" text-anchor="middle">0.2</text><text class="t" x="957.9" y="665.2" font-size="18.5" text-anchor="middle">0.4</text><text class="t" x="1008.4" y="665.2" font-size="18.5" text-anchor="middle">0.6</text><text class="t" x="1059" y="665.2" font-size="18.5" text-anchor="middle">0.8</text><text class="t" x="957.7" y="427.8" font-size="23" text-anchor="middle">EH</text><path d="M866.7 486.7 L871.3 481.6 L879 476.4 L882.9 480.3 L879 485.4 L884.2 490.6 L882.9 495.8 L888.1 502.3 L886.8 510.1 L880.3 515.3 L877.7 520.5 L879 525.7 L882.9 533.5 L886.8 538.7 L884.2 543.9 L886.8 551.6 L889.4 558.1 L885.5 562 L880.3 559.4 L875.2 554.2 L870 549 L862.2 555.5 L858.3 552.9 L863.5 546.5 L870 542.6 L871.3 536.1 L873.9 530.9 L871.3 523.1 L867.4 517.9 L866.1 510.1 L866.1 504.9 L866.7 498.4 L866.1 491.9ZM882.9 498.4 L890.7 500.4 L898.5 501 L902.4 504.9 L901.1 510.8 L894.6 510.8 L888.1 510.8 L882.9 507.5ZM893.3 502.3 L898.5 502.3 L902.4 506.2 L905 511.4 L907.6 516.6 L906.3 521.8 L911.5 527 L914.1 532.2 L915.4 536.1 L911.5 541.3 L914.1 546.5 L916.7 551.6 L921.9 554.2 L921.9 559.4 L920.6 564.6 L916.7 565.9 L912.8 560.7 L907.6 563.3 L902.4 569.8 L898.5 571.1 L895.9 567.2 L901.1 563.3 L907.6 558.1 L910.2 555.5 L907.6 551.6 L905 546.5 L903.7 538.7 L906.3 533.5 L907.6 528.3 L902.4 523.1 L899.8 517.9 L897.2 511.4 L893.3 507.5Z" fill="#a5cd3f"/><path d="M856.9 509.2 L860.9 509.2 L861.6 510.7 L863.1 511.4 L863.1 515.4 L861.6 516.1 L860.9 517.6 L856.9 517.6 L856.2 516.1 L854.7 515.4 L854.7 511.4 L856.2 510.7ZM856.9 516.3 L860.9 516.3 L861.6 517.8 L863.1 518.5 L863.1 522.5 L861.6 523.2 L860.9 524.7 L856.9 524.7 L856.2 523.2 L854.7 522.5 L854.7 518.5 L856.2 517.8ZM856.9 524.1 L860.9 524.1 L861.6 525.6 L863.1 526.3 L863.1 530.3 L861.6 531 L860.9 532.5 L856.9 532.5 L856.2 531 L854.7 530.3 L854.7 526.3 L856.2 525.6ZM865.4 468.3 L869.4 468.3 L870.1 469.8 L871.6 470.5 L871.6 474.5 L870.1 475.2 L869.4 476.7 L865.4 476.7 L864.7 475.2 L863.2 474.5 L863.2 470.5 L864.7 469.8ZM865.4 471.5 L869.4 471.5 L870.1 473 L871.6 473.7 L871.6 477.7 L870.1 478.4 L869.4 479.9 L865.4 479.9 L864.7 478.4 L863.2 477.7 L863.2 473.7 L864.7 473ZM895.2 487.1 L899.2 487.1 L899.9 488.6 L901.4 489.3 L901.4 493.3 L899.9 494 L899.2 495.5 L895.2 495.5 L894.5 494 L893 493.3 L893 489.3 L894.5 488.6ZM893.9 491.6 L897.9 491.6 L898.6 493.1 L900.1 493.8 L900.1 497.8 L898.6 498.5 L897.9 500 L893.9 500 L893.2 498.5 L891.7 497.8 L891.7 493.8 L893.2 493.1ZM891.3 494.2 L895.3 494.2 L896 495.7 L897.5 496.4 L897.5 500.4 L896 501.1 L895.3 502.6 L891.3 502.6 L890.6 501.1 L889.1 500.4 L889.1 496.4 L890.6 495.7ZM912.1 487.1 L916.1 487.1 L916.8 488.6 L918.3 489.3 L918.3 493.3 L916.8 494 L916.1 495.5 L912.1 495.5 L911.4 494 L909.9 493.3 L909.9 489.3 L911.4 488.6ZM922.5 487.1 L926.5 487.1 L927.2 488.6 L928.7 489.3 L928.7 493.3 L927.2 494 L926.5 495.5 L922.5 495.5 L921.8 494 L920.3 493.3 L920.3 489.3 L921.8 488.6ZM916.6 494.9 L920.6 494.9 L921.3 496.4 L922.8 497.1 L922.8 501.1 L921.3 501.8 L920.6 503.3 L916.6 503.3 L915.9 501.8 L914.4 501.1 L914.4 497.1 L915.9 496.4ZM921.2 498.8 L925.2 498.8 L925.9 500.3 L927.4 501 L927.4 505 L925.9 505.7 L925.2 507.2 L921.2 507.2 L920.5 505.7 L919 505 L919 501 L920.5 500.3ZM926.4 502 L930.4 502 L931.1 503.5 L932.6 504.2 L932.6 508.2 L931.1 508.9 L930.4 510.4 L926.4 510.4 L925.7 508.9 L924.2 508.2 L924.2 504.2 L925.7 503.5ZM922.5 507.2 L926.5 507.2 L927.2 508.7 L928.7 509.4 L928.7 513.4 L927.2 514.1 L926.5 515.6 L922.5 515.6 L921.8 514.1 L920.3 513.4 L920.3 509.4 L921.8 508.7ZM919.9 509.8 L923.9 509.8 L924.6 511.3 L926.1 512 L926.1 516 L924.6 516.7 L923.9 518.2 L919.9 518.2 L919.2 516.7 L917.7 516 L917.7 512 L919.2 511.3ZM926.4 512.4 L930.4 512.4 L931.1 513.9 L932.6 514.6 L932.6 518.6 L931.1 519.3 L930.4 520.8 L926.4 520.8 L925.7 519.3 L924.2 518.6 L924.2 514.6 L925.7 513.9ZM945.2 497.5 L949.2 497.5 L949.9 499 L951.4 499.7 L951.4 503.7 L949.9 504.4 L949.2 505.9 L945.2 505.9 L944.5 504.4 L943 503.7 L943 499.7 L944.5 499ZM887.4 518.9 L891.4 518.9 L892.1 520.4 L893.6 521.1 L893.6 525.1 L892.1 525.8 L891.4 527.3 L887.4 527.3 L886.7 525.8 L885.2 525.1 L885.2 521.1 L886.7 520.4ZM884.8 521.5 L888.8 521.5 L889.5 523 L891 523.7 L891 527.7 L889.5 528.4 L888.8 529.9 L884.8 529.9 L884.1 528.4 L882.6 527.7 L882.6 523.7 L884.1 523ZM925.1 524.1 L929.1 524.1 L929.8 525.6 L931.3 526.3 L931.3 530.3 L929.8 531 L929.1 532.5 L925.1 532.5 L924.4 531 L922.9 530.3 L922.9 526.3 L924.4 525.6ZM928.3 524.1 L932.3 524.1 L933 525.6 L934.5 526.3 L934.5 530.3 L933 531 L932.3 532.5 L928.3 532.5 L927.6 531 L926.1 530.3 L926.1 526.3 L927.6 525.6ZM925.1 528 L929.1 528 L929.8 529.5 L931.3 530.2 L931.3 534.2 L929.8 534.9 L929.1 536.4 L925.1 536.4 L924.4 534.9 L922.9 534.2 L922.9 530.2 L924.4 529.5ZM949.1 542.3 L953.1 542.3 L953.8 543.8 L955.3 544.5 L955.3 548.5 L953.8 549.2 L953.1 550.7 L949.1 550.7 L948.4 549.2 L946.9 548.5 L946.9 544.5 L948.4 543.8ZM890 546.1 L894 546.1 L894.7 547.6 L896.2 548.3 L896.2 552.3 L894.7 553 L894 554.5 L890 554.5 L889.3 553 L887.8 552.3 L887.8 548.3 L889.3 547.6ZM867.3 554.6 L871.3 554.6 L872 556.1 L873.5 556.8 L873.5 560.8 L872 561.5 L871.3 563 L867.3 563 L866.6 561.5 L865.1 560.8 L865.1 556.8 L866.6 556.1ZM928.3 556.5 L932.3 556.5 L933 558 L934.5 558.7 L934.5 562.7 L933 563.4 L932.3 564.9 L928.3 564.9 L927.6 563.4 L926.1 562.7 L926.1 558.7 L927.6 558ZM934.8 556.5 L938.8 556.5 L939.5 558 L941 558.7 L941 562.7 L939.5 563.4 L938.8 564.9 L934.8 564.9 L934.1 563.4 L932.6 562.7 L932.6 558.7 L934.1 558ZM973.5 556.5 L977.5 556.5 L978.2 558 L979.7 558.7 L979.7 562.7 L978.2 563.4 L977.5 564.9 L973.5 564.9 L972.8 563.4 L971.3 562.7 L971.3 558.7 L972.8 558ZM983.9 562.8 L987.9 562.8 L988.6 564.3 L990.1 565 L990.1 569 L988.6 569.7 L987.9 571.2 L983.9 571.2 L983.2 569.7 L981.7 569 L981.7 565 L983.2 564.3ZM1016.6 564.7 L1020.6 564.7 L1021.3 566.2 L1022.8 566.9 L1022.8 570.9 L1021.3 571.6 L1020.6 573.1 L1016.6 573.1 L1015.9 571.6 L1014.4 570.9 L1014.4 566.9 L1015.9 566.2ZM954.9 561.7 L958.9 561.7 L959.6 563.2 L961.1 563.9 L961.1 567.9 L959.6 568.6 L958.9 570.1 L954.9 570.1 L954.2 568.6 L952.7 567.9 L952.7 563.9 L954.2 563.2ZM954.9 566.9 L958.9 566.9 L959.6 568.4 L961.1 569.1 L961.1 573.1 L959.6 573.8 L958.9 575.3 L954.9 575.3 L954.2 573.8 L952.7 573.1 L952.7 569.1 L954.2 568.4ZM956.9 572.8 L960.9 572.8 L961.6 574.3 L963.1 575 L963.1 579 L961.6 579.7 L960.9 581.2 L956.9 581.2 L956.2 579.7 L954.7 579 L954.7 575 L956.2 574.3ZM931.6 568.2 L935.6 568.2 L936.3 569.7 L937.8 570.4 L937.8 574.4 L936.3 575.1 L935.6 576.6 L931.6 576.6 L930.9 575.1 L929.4 574.4 L929.4 570.4 L930.9 569.7ZM934.2 569.5 L938.2 569.5 L938.9 571 L940.4 571.7 L940.4 575.7 L938.9 576.4 L938.2 577.9 L934.2 577.9 L933.5 576.4 L932 575.7 L932 571.7 L933.5 571ZM938 572.8 L942 572.8 L942.7 574.3 L944.2 575 L944.2 579 L942.7 579.7 L942 581.2 L938 581.2 L937.3 579.7 L935.8 579 L935.8 575 L937.3 574.3ZM930.3 572.8 L934.3 572.8 L935 574.3 L936.5 575 L936.5 579 L935 579.7 L934.3 581.2 L930.3 581.2 L929.6 579.7 L928.1 579 L928.1 575 L929.6 574.3ZM895.2 561.7 L899.2 561.7 L899.9 563.2 L901.4 563.9 L901.4 567.9 L899.9 568.6 L899.2 570.1 L895.2 570.1 L894.5 568.6 L893 567.9 L893 563.9 L894.5 563.2ZM886.1 568.2 L890.1 568.2 L890.8 569.7 L892.3 570.4 L892.3 574.4 L890.8 575.1 L890.1 576.6 L886.1 576.6 L885.4 575.1 L883.9 574.4 L883.9 570.4 L885.4 569.7ZM891.3 569.5 L895.3 569.5 L896 571 L897.5 571.7 L897.5 575.7 L896 576.4 L895.3 577.9 L891.3 577.9 L890.6 576.4 L889.1 575.7 L889.1 571.7 L890.6 571ZM897.8 568.2 L901.8 568.2 L902.5 569.7 L904 570.4 L904 574.4 L902.5 575.1 L901.8 576.6 L897.8 576.6 L897.1 575.1 L895.6 574.4 L895.6 570.4 L897.1 569.7ZM897.8 573.4 L901.8 573.4 L902.5 574.9 L904 575.6 L904 579.6 L902.5 580.3 L901.8 581.8 L897.8 581.8 L897.1 580.3 L895.6 579.6 L895.6 575.6 L897.1 574.9ZM881.6 572.8 L885.6 572.8 L886.3 574.3 L887.8 575 L887.8 579 L886.3 579.7 L885.6 581.2 L881.6 581.2 L880.9 579.7 L879.4 579 L879.4 575 L880.9 574.3ZM867.3 577.3 L871.3 577.3 L872 578.8 L873.5 579.5 L873.5 583.5 L872 584.2 L871.3 585.7 L867.3 585.7 L866.6 584.2 L865.1 583.5 L865.1 579.5 L866.6 578.8ZM889.4 578.6 L893.4 578.6 L894.1 580.1 L895.6 580.8 L895.6 584.8 L894.1 585.5 L893.4 587 L889.4 587 L888.7 585.5 L887.2 584.8 L887.2 580.8 L888.7 580.1ZM893.9 577.3 L897.9 577.3 L898.6 578.8 L900.1 579.5 L900.1 583.5 L898.6 584.2 L897.9 585.7 L893.9 585.7 L893.2 584.2 L891.7 583.5 L891.7 579.5 L893.2 578.8ZM897.8 577.3 L901.8 577.3 L902.5 578.8 L904 579.5 L904 583.5 L902.5 584.2 L901.8 585.7 L897.8 585.7 L897.1 584.2 L895.6 583.5 L895.6 579.5 L897.1 578.8ZM906 577.3 L910 577.3 L910.7 578.8 L912.2 579.5 L912.2 583.5 L910.7 584.2 L910 585.7 L906 585.7 L905.3 584.2 L903.8 583.5 L903.8 579.5 L905.3 578.8ZM914.3 572.8 L918.3 572.8 L919 574.3 L920.5 575 L920.5 579 L919 579.7 L918.3 581.2 L914.3 581.2 L913.6 579.7 L912.1 579 L912.1 575 L913.6 574.3ZM916 590.3 L920 590.3 L920.7 591.8 L922.2 592.5 L922.2 596.5 L920.7 597.2 L920 598.7 L916 598.7 L915.3 597.2 L913.8 596.5 L913.8 592.5 L915.3 591.8ZM919.9 587.7 L923.9 587.7 L924.6 589.2 L926.1 589.9 L926.1 593.9 L924.6 594.6 L923.9 596.1 L919.9 596.1 L919.2 594.6 L917.7 593.9 L917.7 589.9 L919.2 589.2ZM923.8 586.4 L927.8 586.4 L928.5 587.9 L930 588.6 L930 592.6 L928.5 593.3 L927.8 594.8 L923.8 594.8 L923.1 593.3 L921.6 592.6 L921.6 588.6 L923.1 587.9ZM926.4 589 L930.4 589 L931.1 590.5 L932.6 591.2 L932.6 595.2 L931.1 595.9 L930.4 597.4 L926.4 597.4 L925.7 595.9 L924.2 595.2 L924.2 591.2 L925.7 590.5ZM926.4 592.2 L930.4 592.2 L931.1 593.7 L932.6 594.4 L932.6 598.4 L931.1 599.1 L930.4 600.6 L926.4 600.6 L925.7 599.1 L924.2 598.4 L924.2 594.4 L925.7 593.7ZM932.9 590.3 L936.9 590.3 L937.6 591.8 L939.1 592.5 L939.1 596.5 L937.6 597.2 L936.9 598.7 L932.9 598.7 L932.2 597.2 L930.7 596.5 L930.7 592.5 L932.2 591.8ZM938 586.4 L942 586.4 L942.7 587.9 L944.2 588.6 L944.2 592.6 L942.7 593.3 L942 594.8 L938 594.8 L937.3 593.3 L935.8 592.6 L935.8 588.6 L937.3 587.9ZM940.6 590.3 L944.6 590.3 L945.3 591.8 L946.8 592.5 L946.8 596.5 L945.3 597.2 L944.6 598.7 L940.6 598.7 L939.9 597.2 L938.4 596.5 L938.4 592.5 L939.9 591.8ZM943.2 592.9 L947.2 592.9 L947.9 594.4 L949.4 595.1 L949.4 599.1 L947.9 599.8 L947.2 601.3 L943.2 601.3 L942.5 599.8 L941 599.1 L941 595.1 L942.5 594.4ZM947.1 595.5 L951.1 595.5 L951.8 597 L953.3 597.7 L953.3 601.7 L951.8 602.4 L951.1 603.9 L947.1 603.9 L946.4 602.4 L944.9 601.7 L944.9 597.7 L946.4 597ZM935.5 592.2 L939.5 592.2 L940.2 593.7 L941.7 594.4 L941.7 598.4 L940.2 599.1 L939.5 600.6 L935.5 600.6 L934.8 599.1 L933.3 598.4 L933.3 594.4 L934.8 593.7ZM957.1 589.2 L961.1 589.2 L961.8 590.7 L963.3 591.4 L963.3 595.4 L961.8 596.1 L961.1 597.6 L957.1 597.6 L956.4 596.1 L954.9 595.4 L954.9 591.4 L956.4 590.7ZM976.3 588.3 L980.3 588.3 L981 589.8 L982.5 590.5 L982.5 594.5 L981 595.2 L980.3 596.7 L976.3 596.7 L975.6 595.2 L974.1 594.5 L974.1 590.5 L975.6 589.8ZM974.4 590.3 L978.4 590.3 L979.1 591.8 L980.6 592.5 L980.6 596.5 L979.1 597.2 L978.4 598.7 L974.4 598.7 L973.7 597.2 L972.2 596.5 L972.2 592.5 L973.7 591.8ZM988 585.1 L992 585.1 L992.7 586.6 L994.2 587.3 L994.2 591.3 L992.7 592 L992 593.5 L988 593.5 L987.3 592 L985.8 591.3 L985.8 587.3 L987.3 586.6ZM996.2 581.2 L1000.2 581.2 L1000.9 582.7 L1002.4 583.4 L1002.4 587.4 L1000.9 588.1 L1000.2 589.6 L996.2 589.6 L995.5 588.1 L994 587.4 L994 583.4 L995.5 582.7ZM1010.7 577.3 L1014.7 577.3 L1015.4 578.8 L1016.9 579.5 L1016.9 583.5 L1015.4 584.2 L1014.7 585.7 L1010.7 585.7 L1010 584.2 L1008.5 583.5 L1008.5 579.5 L1010 578.8ZM1009.4 582.5 L1013.4 582.5 L1014.1 584 L1015.6 584.7 L1015.6 588.7 L1014.1 589.4 L1013.4 590.9 L1009.4 590.9 L1008.7 589.4 L1007.2 588.7 L1007.2 584.7 L1008.7 584ZM1012 579.9 L1016 579.9 L1016.7 581.4 L1018.2 582.1 L1018.2 586.1 L1016.7 586.8 L1016 588.3 L1012 588.3 L1011.3 586.8 L1009.8 586.1 L1009.8 582.1 L1011.3 581.4ZM1036.7 587.4 L1040.7 587.4 L1041.4 588.9 L1042.9 589.6 L1042.9 593.6 L1041.4 594.3 L1040.7 595.8 L1036.7 595.8 L1036 594.3 L1034.5 593.6 L1034.5 589.6 L1036 588.9ZM1010.1 595.5 L1014.1 595.5 L1014.8 597 L1016.3 597.7 L1016.3 601.7 L1014.8 602.4 L1014.1 603.9 L1010.1 603.9 L1009.4 602.4 L1007.9 601.7 L1007.9 597.7 L1009.4 597ZM1013.3 600.7 L1017.3 600.7 L1018 602.2 L1019.5 602.9 L1019.5 606.9 L1018 607.6 L1017.3 609.1 L1013.3 609.1 L1012.6 607.6 L1011.1 606.9 L1011.1 602.9 L1012.6 602.2ZM1017.2 599.4 L1021.2 599.4 L1021.9 600.9 L1023.4 601.6 L1023.4 605.6 L1021.9 606.3 L1021.2 607.8 L1017.2 607.8 L1016.5 606.3 L1015 605.6 L1015 601.6 L1016.5 600.9ZM1021.1 598.1 L1025.1 598.1 L1025.8 599.6 L1027.3 600.3 L1027.3 604.3 L1025.8 605 L1025.1 606.5 L1021.1 606.5 L1020.4 605 L1018.9 604.3 L1018.9 600.3 L1020.4 599.6ZM1020.5 590.9 L1024.5 590.9 L1025.2 592.4 L1026.7 593.1 L1026.7 597.1 L1025.2 597.8 L1024.5 599.3 L1020.5 599.3 L1019.8 597.8 L1018.3 597.1 L1018.3 593.1 L1019.8 592.4ZM1012 603.3 L1016 603.3 L1016.7 604.8 L1018.2 605.5 L1018.2 609.5 L1016.7 610.2 L1016 611.7 L1012 611.7 L1011.3 610.2 L1009.8 609.5 L1009.8 605.5 L1011.3 604.8Z" fill="#a5cd3f"/></g>
<g><path d="M1184 461.9 H1197 V613 H1184 M1184 582.8 H1197 M1184 552.6 H1197 M1184 522.3 H1197 M1184 492.1 H1197 M1205.4 631.2 V617.2 H1407.7 V631.2 M1230.7 617.2 V631.2 M1256 617.2 V631.2 M1281.3 617.2 V631.2 M1306.5 617.2 V631.2 M1331.8 617.2 V631.2 M1357.1 617.2 V631.2 M1382.4 617.2 V631.2" fill="none" stroke="#000" stroke-width="2.4"/><text class="t" transform="translate(1167.5 613.7) rotate(-90)" font-size="18.5" text-anchor="middle">0</text><text class="t" transform="translate(1167.5 553.3) rotate(-90)" font-size="18.5" text-anchor="middle">0.4</text><text class="t" transform="translate(1167.5 492.8) rotate(-90)" font-size="18.5" text-anchor="middle">0.8</text><text class="t" x="1203.9" y="665.2" font-size="18.5" text-anchor="middle">-0.8</text><text class="t" x="1254.5" y="665.2" font-size="18.5" text-anchor="middle">-0.4</text><text class="t" x="1305" y="665.2" font-size="18.5" text-anchor="middle">0</text><text class="t" x="1355.6" y="665.2" font-size="18.5" text-anchor="middle">0.4</text><text class="t" x="1406.2" y="665.2" font-size="18.5" text-anchor="middle">0.8</text><text class="t" x="1304.5" y="427.8" font-size="23" text-anchor="middle">A</text><path d="M1321.8 498.4 L1329.6 495.8 L1337.4 498.4 L1340 504.9 L1342.6 512.7 L1343.9 520.5 L1342.6 528.3 L1349.1 532.2 L1346.5 537.4 L1340 541.3 L1337.4 543.9 L1341.3 549 L1342.6 554.2 L1337.4 556.8 L1333.5 555.5 L1333.5 562 L1330.9 565.9 L1327 562 L1327 554.2 L1324.4 550.3 L1320.5 549 L1319.2 546.5 L1324.4 543.9 L1327 541.3 L1321.8 534.8 L1317.9 528.3 L1321.8 525.7 L1324.4 519.2 L1316.6 516.6 L1314 514 L1319.2 511.4 L1316.6 507.5 L1314 504.9 L1320.5 503.6Z" fill="#a5cd3f"/><path d="M1314.6 465.7 L1318.6 465.7 L1319.3 467.2 L1320.8 467.9 L1320.8 471.9 L1319.3 472.6 L1318.6 474.1 L1314.6 474.1 L1313.9 472.6 L1312.4 471.9 L1312.4 467.9 L1313.9 467.2ZM1319.8 473.5 L1323.8 473.5 L1324.5 475 L1326 475.7 L1326 479.7 L1324.5 480.4 L1323.8 481.9 L1319.8 481.9 L1319.1 480.4 L1317.6 479.7 L1317.6 475.7 L1319.1 475ZM1322.4 470.2 L1326.4 470.2 L1327.1 471.7 L1328.6 472.4 L1328.6 476.4 L1327.1 477.1 L1326.4 478.6 L1322.4 478.6 L1321.7 477.1 L1320.2 476.4 L1320.2 472.4 L1321.7 471.7ZM1318.5 476.1 L1322.5 476.1 L1323.2 477.6 L1324.7 478.3 L1324.7 482.3 L1323.2 483 L1322.5 484.5 L1318.5 484.5 L1317.8 483 L1316.3 482.3 L1316.3 478.3 L1317.8 477.6ZM1304.2 478.7 L1308.2 478.7 L1308.9 480.2 L1310.4 480.9 L1310.4 484.9 L1308.9 485.6 L1308.2 487.1 L1304.2 487.1 L1303.5 485.6 L1302 484.9 L1302 480.9 L1303.5 480.2ZM1309.4 478 L1313.4 478 L1314.1 479.5 L1315.6 480.2 L1315.6 484.2 L1314.1 484.9 L1313.4 486.4 L1309.4 486.4 L1308.7 484.9 L1307.2 484.2 L1307.2 480.2 L1308.7 479.5ZM1312 479.3 L1316 479.3 L1316.7 480.8 L1318.2 481.5 L1318.2 485.5 L1316.7 486.2 L1316 487.7 L1312 487.7 L1311.3 486.2 L1309.8 485.5 L1309.8 481.5 L1311.3 480.8ZM1302.9 486.4 L1306.9 486.4 L1307.6 487.9 L1309.1 488.6 L1309.1 492.6 L1307.6 493.3 L1306.9 494.8 L1302.9 494.8 L1302.2 493.3 L1300.7 492.6 L1300.7 488.6 L1302.2 487.9ZM1300.3 487.7 L1304.3 487.7 L1305 489.2 L1306.5 489.9 L1306.5 493.9 L1305 494.6 L1304.3 496.1 L1300.3 496.1 L1299.6 494.6 L1298.1 493.9 L1298.1 489.9 L1299.6 489.2ZM1314.6 487.1 L1318.6 487.1 L1319.3 488.6 L1320.8 489.3 L1320.8 493.3 L1319.3 494 L1318.6 495.5 L1314.6 495.5 L1313.9 494 L1312.4 493.3 L1312.4 489.3 L1313.9 488.6ZM1273.1 486.4 L1277.1 486.4 L1277.8 487.9 L1279.3 488.6 L1279.3 492.6 L1277.8 493.3 L1277.1 494.8 L1273.1 494.8 L1272.4 493.3 L1270.9 492.6 L1270.9 488.6 L1272.4 487.9ZM1277.6 481.2 L1281.6 481.2 L1282.3 482.7 L1283.8 483.4 L1283.8 487.4 L1282.3 488.1 L1281.6 489.6 L1277.6 489.6 L1276.9 488.1 L1275.4 487.4 L1275.4 483.4 L1276.9 482.7ZM1280.9 486.4 L1284.9 486.4 L1285.6 487.9 L1287.1 488.6 L1287.1 492.6 L1285.6 493.3 L1284.9 494.8 L1280.9 494.8 L1280.2 493.3 L1278.7 492.6 L1278.7 488.6 L1280.2 487.9ZM1279.6 487.7 L1283.6 487.7 L1284.3 489.2 L1285.8 489.9 L1285.8 493.9 L1284.3 494.6 L1283.6 496.1 L1279.6 496.1 L1278.9 494.6 L1277.4 493.9 L1277.4 489.9 L1278.9 489.2ZM1251 497.5 L1255 497.5 L1255.7 499 L1257.2 499.7 L1257.2 503.7 L1255.7 504.4 L1255 505.9 L1251 505.9 L1250.3 504.4 L1248.8 503.7 L1248.8 499.7 L1250.3 499ZM1286 491.6 L1290 491.6 L1290.7 493.1 L1292.2 493.8 L1292.2 497.8 L1290.7 498.5 L1290 500 L1286 500 L1285.3 498.5 L1283.8 497.8 L1283.8 493.8 L1285.3 493.1ZM1287.3 496.8 L1291.3 496.8 L1292 498.3 L1293.5 499 L1293.5 503 L1292 503.7 L1291.3 505.2 L1287.3 505.2 L1286.6 503.7 L1285.1 503 L1285.1 499 L1286.6 498.3ZM1286 502 L1290 502 L1290.7 503.5 L1292.2 504.2 L1292.2 508.2 L1290.7 508.9 L1290 510.4 L1286 510.4 L1285.3 508.9 L1283.8 508.2 L1283.8 504.2 L1285.3 503.5ZM1282.2 503.3 L1286.2 503.3 L1286.9 504.8 L1288.4 505.5 L1288.4 509.5 L1286.9 510.2 L1286.2 511.7 L1282.2 511.7 L1281.5 510.2 L1280 509.5 L1280 505.5 L1281.5 504.8ZM1288.6 500.7 L1292.6 500.7 L1293.3 502.2 L1294.8 502.9 L1294.8 506.9 L1293.3 507.6 L1292.6 509.1 L1288.6 509.1 L1287.9 507.6 L1286.4 506.9 L1286.4 502.9 L1287.9 502.2ZM1264 504.6 L1268 504.6 L1268.7 506.1 L1270.2 506.8 L1270.2 510.8 L1268.7 511.5 L1268 513 L1264 513 L1263.3 511.5 L1261.8 510.8 L1261.8 506.8 L1263.3 506.1ZM1267.9 500.7 L1271.9 500.7 L1272.6 502.2 L1274.1 502.9 L1274.1 506.9 L1272.6 507.6 L1271.9 509.1 L1267.9 509.1 L1267.2 507.6 L1265.7 506.9 L1265.7 502.9 L1267.2 502.2ZM1262.7 505.9 L1266.7 505.9 L1267.4 507.4 L1268.9 508.1 L1268.9 512.1 L1267.4 512.8 L1266.7 514.3 L1262.7 514.3 L1262 512.8 L1260.5 512.1 L1260.5 508.1 L1262 507.4ZM1269.2 511.8 L1273.2 511.8 L1273.9 513.3 L1275.4 514 L1275.4 518 L1273.9 518.7 L1273.2 520.2 L1269.2 520.2 L1268.5 518.7 L1267 518 L1267 514 L1268.5 513.3ZM1296.4 500.7 L1300.4 500.7 L1301.1 502.2 L1302.6 502.9 L1302.6 506.9 L1301.1 507.6 L1300.4 509.1 L1296.4 509.1 L1295.7 507.6 L1294.2 506.9 L1294.2 502.9 L1295.7 502.2ZM1300.3 503.3 L1304.3 503.3 L1305 504.8 L1306.5 505.5 L1306.5 509.5 L1305 510.2 L1304.3 511.7 L1300.3 511.7 L1299.6 510.2 L1298.1 509.5 L1298.1 505.5 L1299.6 504.8ZM1301.6 507.2 L1305.6 507.2 L1306.3 508.7 L1307.8 509.4 L1307.8 513.4 L1306.3 514.1 L1305.6 515.6 L1301.6 515.6 L1300.9 514.1 L1299.4 513.4 L1299.4 509.4 L1300.9 508.7ZM1297.7 509.8 L1301.7 509.8 L1302.4 511.3 L1303.9 512 L1303.9 516 L1302.4 516.7 L1301.7 518.2 L1297.7 518.2 L1297 516.7 L1295.5 516 L1295.5 512 L1297 511.3ZM1296.4 511.1 L1300.4 511.1 L1301.1 512.6 L1302.6 513.3 L1302.6 517.3 L1301.1 518 L1300.4 519.5 L1296.4 519.5 L1295.7 518 L1294.2 517.3 L1294.2 513.3 L1295.7 512.6ZM1301.6 509.8 L1305.6 509.8 L1306.3 511.3 L1307.8 512 L1307.8 516 L1306.3 516.7 L1305.6 518.2 L1301.6 518.2 L1300.9 516.7 L1299.4 516 L1299.4 512 L1300.9 511.3ZM1280.9 511.1 L1284.9 511.1 L1285.6 512.6 L1287.1 513.3 L1287.1 517.3 L1285.6 518 L1284.9 519.5 L1280.9 519.5 L1280.2 518 L1278.7 517.3 L1278.7 513.3 L1280.2 512.6ZM1280.9 516.3 L1284.9 516.3 L1285.6 517.8 L1287.1 518.5 L1287.1 522.5 L1285.6 523.2 L1284.9 524.7 L1280.9 524.7 L1280.2 523.2 L1278.7 522.5 L1278.7 518.5 L1280.2 517.8ZM1278.3 521.5 L1282.3 521.5 L1283 523 L1284.5 523.7 L1284.5 527.7 L1283 528.4 L1282.3 529.9 L1278.3 529.9 L1277.6 528.4 L1276.1 527.7 L1276.1 523.7 L1277.6 523ZM1277 524.1 L1281 524.1 L1281.7 525.6 L1283.2 526.3 L1283.2 530.3 L1281.7 531 L1281 532.5 L1277 532.5 L1276.3 531 L1274.8 530.3 L1274.8 526.3 L1276.3 525.6ZM1350.9 519.5 L1354.9 519.5 L1355.6 521 L1357.1 521.7 L1357.1 525.7 L1355.6 526.4 L1354.9 527.9 L1350.9 527.9 L1350.2 526.4 L1348.7 525.7 L1348.7 521.7 L1350.2 521ZM1373.7 522.1 L1377.7 522.1 L1378.4 523.6 L1379.9 524.3 L1379.9 528.3 L1378.4 529 L1377.7 530.5 L1373.7 530.5 L1373 529 L1371.5 528.3 L1371.5 524.3 L1373 523.6ZM1340.6 489 L1344.6 489 L1345.3 490.5 L1346.8 491.2 L1346.8 495.2 L1345.3 495.9 L1344.6 497.4 L1340.6 497.4 L1339.9 495.9 L1338.4 495.2 L1338.4 491.2 L1339.9 490.5ZM1343.2 492.9 L1347.2 492.9 L1347.9 494.4 L1349.4 495.1 L1349.4 499.1 L1347.9 499.8 L1347.2 501.3 L1343.2 501.3 L1342.5 499.8 L1341 499.1 L1341 495.1 L1342.5 494.4ZM1357.4 485.1 L1361.4 485.1 L1362.1 486.6 L1363.6 487.3 L1363.6 491.3 L1362.1 492 L1361.4 493.5 L1357.4 493.5 L1356.7 492 L1355.2 491.3 L1355.2 487.3 L1356.7 486.6ZM1365.2 476.7 L1369.2 476.7 L1369.9 478.2 L1371.4 478.9 L1371.4 482.9 L1369.9 483.6 L1369.2 485.1 L1365.2 485.1 L1364.5 483.6 L1363 482.9 L1363 478.9 L1364.5 478.2ZM1300.3 524.1 L1304.3 524.1 L1305 525.6 L1306.5 526.3 L1306.5 530.3 L1305 531 L1304.3 532.5 L1300.3 532.5 L1299.6 531 L1298.1 530.3 L1298.1 526.3 L1299.6 525.6ZM1306.8 524.1 L1310.8 524.1 L1311.5 525.6 L1313 526.3 L1313 530.3 L1311.5 531 L1310.8 532.5 L1306.8 532.5 L1306.1 531 L1304.6 530.3 L1304.6 526.3 L1306.1 525.6ZM1300.3 528 L1304.3 528 L1305 529.5 L1306.5 530.2 L1306.5 534.2 L1305 534.9 L1304.3 536.4 L1300.3 536.4 L1299.6 534.9 L1298.1 534.2 L1298.1 530.2 L1299.6 529.5ZM1306.2 533.8 L1310.2 533.8 L1310.9 535.3 L1312.4 536 L1312.4 540 L1310.9 540.7 L1310.2 542.2 L1306.2 542.2 L1305.5 540.7 L1304 540 L1304 536 L1305.5 535.3ZM1269.2 531.9 L1273.2 531.9 L1273.9 533.4 L1275.4 534.1 L1275.4 538.1 L1273.9 538.8 L1273.2 540.3 L1269.2 540.3 L1268.5 538.8 L1267 538.1 L1267 534.1 L1268.5 533.4ZM1276.3 542.3 L1280.3 542.3 L1281 543.8 L1282.5 544.5 L1282.5 548.5 L1281 549.2 L1280.3 550.7 L1276.3 550.7 L1275.6 549.2 L1274.1 548.5 L1274.1 544.5 L1275.6 543.8ZM1278.3 544.8 L1282.3 544.8 L1283 546.3 L1284.5 547 L1284.5 551 L1283 551.7 L1282.3 553.2 L1278.3 553.2 L1277.6 551.7 L1276.1 551 L1276.1 547 L1277.6 546.3ZM1296.4 546.1 L1300.4 546.1 L1301.1 547.6 L1302.6 548.3 L1302.6 552.3 L1301.1 553 L1300.4 554.5 L1296.4 554.5 L1295.7 553 L1294.2 552.3 L1294.2 548.3 L1295.7 547.6ZM1300.3 548.7 L1304.3 548.7 L1305 550.2 L1306.5 550.9 L1306.5 554.9 L1305 555.6 L1304.3 557.1 L1300.3 557.1 L1299.6 555.6 L1298.1 554.9 L1298.1 550.9 L1299.6 550.2ZM1305.5 550 L1309.5 550 L1310.2 551.5 L1311.7 552.2 L1311.7 556.2 L1310.2 556.9 L1309.5 558.4 L1305.5 558.4 L1304.8 556.9 L1303.3 556.2 L1303.3 552.2 L1304.8 551.5ZM1309.4 547.4 L1313.4 547.4 L1314.1 548.9 L1315.6 549.6 L1315.6 553.6 L1314.1 554.3 L1313.4 555.8 L1309.4 555.8 L1308.7 554.3 L1307.2 553.6 L1307.2 549.6 L1308.7 548.9ZM1313.3 543.6 L1317.3 543.6 L1318 545.1 L1319.5 545.8 L1319.5 549.8 L1318 550.5 L1317.3 552 L1313.3 552 L1312.6 550.5 L1311.1 549.8 L1311.1 545.8 L1312.6 545.1ZM1304.2 539.7 L1308.2 539.7 L1308.9 541.2 L1310.4 541.9 L1310.4 545.9 L1308.9 546.6 L1308.2 548.1 L1304.2 548.1 L1303.5 546.6 L1302 545.9 L1302 541.9 L1303.5 541.2ZM1306.8 544.8 L1310.8 544.8 L1311.5 546.3 L1313 547 L1313 551 L1311.5 551.7 L1310.8 553.2 L1306.8 553.2 L1306.1 551.7 L1304.6 551 L1304.6 547 L1306.1 546.3ZM1321.1 542.3 L1325.1 542.3 L1325.8 543.8 L1327.3 544.5 L1327.3 548.5 L1325.8 549.2 L1325.1 550.7 L1321.1 550.7 L1320.4 549.2 L1318.9 548.5 L1318.9 544.5 L1320.4 543.8ZM1349.4 540.3 L1353.4 540.3 L1354.1 541.8 L1355.6 542.5 L1355.6 546.5 L1354.1 547.2 L1353.4 548.7 L1349.4 548.7 L1348.7 547.2 L1347.2 546.5 L1347.2 542.5 L1348.7 541.8ZM1273.1 556.5 L1277.1 556.5 L1277.8 558 L1279.3 558.7 L1279.3 562.7 L1277.8 563.4 L1277.1 564.9 L1273.1 564.9 L1272.4 563.4 L1270.9 562.7 L1270.9 558.7 L1272.4 558ZM1288.6 553.9 L1292.6 553.9 L1293.3 555.4 L1294.8 556.1 L1294.8 560.1 L1293.3 560.8 L1292.6 562.3 L1288.6 562.3 L1287.9 560.8 L1286.4 560.1 L1286.4 556.1 L1287.9 555.4ZM1293.8 556.5 L1297.8 556.5 L1298.5 558 L1300 558.7 L1300 562.7 L1298.5 563.4 L1297.8 564.9 L1293.8 564.9 L1293.1 563.4 L1291.6 562.7 L1291.6 558.7 L1293.1 558ZM1291.2 560.4 L1295.2 560.4 L1295.9 561.9 L1297.4 562.6 L1297.4 566.6 L1295.9 567.3 L1295.2 568.8 L1291.2 568.8 L1290.5 567.3 L1289 566.6 L1289 562.6 L1290.5 561.9ZM1283.5 563 L1287.5 563 L1288.2 564.5 L1289.7 565.2 L1289.7 569.2 L1288.2 569.9 L1287.5 571.4 L1283.5 571.4 L1282.8 569.9 L1281.3 569.2 L1281.3 565.2 L1282.8 564.5ZM1291.2 564.3 L1295.2 564.3 L1295.9 565.8 L1297.4 566.5 L1297.4 570.5 L1295.9 571.2 L1295.2 572.7 L1291.2 572.7 L1290.5 571.2 L1289 570.5 L1289 566.5 L1290.5 565.8ZM1269.2 566.3 L1273.2 566.3 L1273.9 567.8 L1275.4 568.5 L1275.4 572.5 L1273.9 573.2 L1273.2 574.7 L1269.2 574.7 L1268.5 573.2 L1267 572.5 L1267 568.5 L1268.5 567.8ZM1304.2 561.7 L1308.2 561.7 L1308.9 563.2 L1310.4 563.9 L1310.4 567.9 L1308.9 568.6 L1308.2 570.1 L1304.2 570.1 L1303.5 568.6 L1302 567.9 L1302 563.9 L1303.5 563.2ZM1302.9 566.9 L1306.9 566.9 L1307.6 568.4 L1309.1 569.1 L1309.1 573.1 L1307.6 573.8 L1306.9 575.3 L1302.9 575.3 L1302.2 573.8 L1300.7 573.1 L1300.7 569.1 L1302.2 568.4ZM1300.3 570.8 L1304.3 570.8 L1305 572.3 L1306.5 573 L1306.5 577 L1305 577.7 L1304.3 579.2 L1300.3 579.2 L1299.6 577.7 L1298.1 577 L1298.1 573 L1299.6 572.3ZM1293.8 573.4 L1297.8 573.4 L1298.5 574.9 L1300 575.6 L1300 579.6 L1298.5 580.3 L1297.8 581.8 L1293.8 581.8 L1293.1 580.3 L1291.6 579.6 L1291.6 575.6 L1293.1 574.9ZM1289.9 577.3 L1293.9 577.3 L1294.6 578.8 L1296.1 579.5 L1296.1 583.5 L1294.6 584.2 L1293.9 585.7 L1289.9 585.7 L1289.2 584.2 L1287.7 583.5 L1287.7 579.5 L1289.2 578.8ZM1288.6 572.1 L1292.6 572.1 L1293.3 573.6 L1294.8 574.3 L1294.8 578.3 L1293.3 579 L1292.6 580.5 L1288.6 580.5 L1287.9 579 L1286.4 578.3 L1286.4 574.3 L1287.9 573.6ZM1280.9 576 L1284.9 576 L1285.6 577.5 L1287.1 578.2 L1287.1 582.2 L1285.6 582.9 L1284.9 584.4 L1280.9 584.4 L1280.2 582.9 L1278.7 582.2 L1278.7 578.2 L1280.2 577.5ZM1278.3 578.6 L1282.3 578.6 L1283 580.1 L1284.5 580.8 L1284.5 584.8 L1283 585.5 L1282.3 587 L1278.3 587 L1277.6 585.5 L1276.1 584.8 L1276.1 580.8 L1277.6 580.1ZM1282.2 583.8 L1286.2 583.8 L1286.9 585.3 L1288.4 586 L1288.4 590 L1286.9 590.7 L1286.2 592.2 L1282.2 592.2 L1281.5 590.7 L1280 590 L1280 586 L1281.5 585.3ZM1286 587.7 L1290 587.7 L1290.7 589.2 L1292.2 589.9 L1292.2 593.9 L1290.7 594.6 L1290 596.1 L1286 596.1 L1285.3 594.6 L1283.8 593.9 L1283.8 589.9 L1285.3 589.2ZM1288.6 591.6 L1292.6 591.6 L1293.3 593.1 L1294.8 593.8 L1294.8 597.8 L1293.3 598.5 L1292.6 600 L1288.6 600 L1287.9 598.5 L1286.4 597.8 L1286.4 593.8 L1287.9 593.1ZM1284.8 595.5 L1288.8 595.5 L1289.5 597 L1291 597.7 L1291 601.7 L1289.5 602.4 L1288.8 603.9 L1284.8 603.9 L1284.1 602.4 L1282.6 601.7 L1282.6 597.7 L1284.1 597ZM1280.9 599.4 L1284.9 599.4 L1285.6 600.9 L1287.1 601.6 L1287.1 605.6 L1285.6 606.3 L1284.9 607.8 L1280.9 607.8 L1280.2 606.3 L1278.7 605.6 L1278.7 601.6 L1280.2 600.9ZM1278.3 602 L1282.3 602 L1283 603.5 L1284.5 604.2 L1284.5 608.2 L1283 608.9 L1282.3 610.4 L1278.3 610.4 L1277.6 608.9 L1276.1 608.2 L1276.1 604.2 L1277.6 603.5ZM1273.1 598.1 L1277.1 598.1 L1277.8 599.6 L1279.3 600.3 L1279.3 604.3 L1277.8 605 L1277.1 606.5 L1273.1 606.5 L1272.4 605 L1270.9 604.3 L1270.9 600.3 L1272.4 599.6ZM1267.9 596.8 L1271.9 596.8 L1272.6 598.3 L1274.1 599 L1274.1 603 L1272.6 603.7 L1271.9 605.2 L1267.9 605.2 L1267.2 603.7 L1265.7 603 L1265.7 599 L1267.2 598.3ZM1265.3 599.4 L1269.3 599.4 L1270 600.9 L1271.5 601.6 L1271.5 605.6 L1270 606.3 L1269.3 607.8 L1265.3 607.8 L1264.6 606.3 L1263.1 605.6 L1263.1 601.6 L1264.6 600.9ZM1243.2 564.3 L1247.2 564.3 L1247.9 565.8 L1249.4 566.5 L1249.4 570.5 L1247.9 571.2 L1247.2 572.7 L1243.2 572.7 L1242.5 571.2 L1241 570.5 L1241 566.5 L1242.5 565.8ZM1373.7 562.8 L1377.7 562.8 L1378.4 564.3 L1379.9 565 L1379.9 569 L1378.4 569.7 L1377.7 571.2 L1373.7 571.2 L1373 569.7 L1371.5 569 L1371.5 565 L1373 564.3ZM1318.5 568.2 L1322.5 568.2 L1323.2 569.7 L1324.7 570.4 L1324.7 574.4 L1323.2 575.1 L1322.5 576.6 L1318.5 576.6 L1317.8 575.1 L1316.3 574.4 L1316.3 570.4 L1317.8 569.7ZM1325 573.4 L1329 573.4 L1329.7 574.9 L1331.2 575.6 L1331.2 579.6 L1329.7 580.3 L1329 581.8 L1325 581.8 L1324.3 580.3 L1322.8 579.6 L1322.8 575.6 L1324.3 574.9ZM1314.6 576.6 L1318.6 576.6 L1319.3 578.1 L1320.8 578.8 L1320.8 582.8 L1319.3 583.5 L1318.6 585 L1314.6 585 L1313.9 583.5 L1312.4 582.8 L1312.4 578.8 L1313.9 578.1ZM1384 577.3 L1388 577.3 L1388.7 578.8 L1390.2 579.5 L1390.2 583.5 L1388.7 584.2 L1388 585.7 L1384 585.7 L1383.3 584.2 L1381.8 583.5 L1381.8 579.5 L1383.3 578.8ZM1297.7 587 L1301.7 587 L1302.4 588.5 L1303.9 589.2 L1303.9 593.2 L1302.4 593.9 L1301.7 595.4 L1297.7 595.4 L1297 593.9 L1295.5 593.2 L1295.5 589.2 L1297 588.5ZM1260.1 581.2 L1264.1 581.2 L1264.8 582.7 L1266.3 583.4 L1266.3 587.4 L1264.8 588.1 L1264.1 589.6 L1260.1 589.6 L1259.4 588.1 L1257.9 587.4 L1257.9 583.4 L1259.4 582.7ZM1257.5 586.4 L1261.5 586.4 L1262.2 587.9 L1263.7 588.6 L1263.7 592.6 L1262.2 593.3 L1261.5 594.8 L1257.5 594.8 L1256.8 593.3 L1255.3 592.6 L1255.3 588.6 L1256.8 587.9ZM1243.2 582.5 L1247.2 582.5 L1247.9 584 L1249.4 584.7 L1249.4 588.7 L1247.9 589.4 L1247.2 590.9 L1243.2 590.9 L1242.5 589.4 L1241 588.7 L1241 584.7 L1242.5 584ZM1244.5 589 L1248.5 589 L1249.2 590.5 L1250.7 591.2 L1250.7 595.2 L1249.2 595.9 L1248.5 597.4 L1244.5 597.4 L1243.8 595.9 L1242.3 595.2 L1242.3 591.2 L1243.8 590.5ZM1214 590.9 L1218 590.9 L1218.7 592.4 L1220.2 593.1 L1220.2 597.1 L1218.7 597.8 L1218 599.3 L1214 599.3 L1213.3 597.8 L1211.8 597.1 L1211.8 593.1 L1213.3 592.4ZM1221.2 589 L1225.2 589 L1225.9 590.5 L1227.4 591.2 L1227.4 595.2 L1225.9 595.9 L1225.2 597.4 L1221.2 597.4 L1220.5 595.9 L1219 595.2 L1219 591.2 L1220.5 590.5ZM1225 589 L1229 589 L1229.7 590.5 L1231.2 591.2 L1231.2 595.2 L1229.7 595.9 L1229 597.4 L1225 597.4 L1224.3 595.9 L1222.8 595.2 L1222.8 591.2 L1224.3 590.5ZM1228.9 589 L1232.9 589 L1233.6 590.5 L1235.1 591.2 L1235.1 595.2 L1233.6 595.9 L1232.9 597.4 L1228.9 597.4 L1228.2 595.9 L1226.7 595.2 L1226.7 591.2 L1228.2 590.5ZM1232.8 590.3 L1236.8 590.3 L1237.5 591.8 L1239 592.5 L1239 596.5 L1237.5 597.2 L1236.8 598.7 L1232.8 598.7 L1232.1 597.2 L1230.6 596.5 L1230.6 592.5 L1232.1 591.8ZM1223.7 591.6 L1227.7 591.6 L1228.4 593.1 L1229.9 593.8 L1229.9 597.8 L1228.4 598.5 L1227.7 600 L1223.7 600 L1223 598.5 L1221.5 597.8 L1221.5 593.8 L1223 593.1ZM1232.8 587.7 L1236.8 587.7 L1237.5 589.2 L1239 589.9 L1239 593.9 L1237.5 594.6 L1236.8 596.1 L1232.8 596.1 L1232.1 594.6 L1230.6 593.9 L1230.6 589.9 L1232.1 589.2Z" fill="#a5cd3f"/></g>
<g><path d="M1531.2 461.9 H1544.2 V613 H1531.2 M1531.2 582.8 H1544.2 M1531.2 552.6 H1544.2 M1531.2 522.3 H1544.2 M1531.2 492.1 H1544.2 M1552.6 631.2 V617.2 H1754.9 V631.2 M1593.1 617.2 V631.2 M1633.5 617.2 V631.2 M1674 617.2 V631.2 M1714.4 617.2 V631.2" fill="none" stroke="#000" stroke-width="2.4"/><text class="t" transform="translate(1514.7 613.7) rotate(-90)" font-size="18.5" text-anchor="middle">0</text><text class="t" transform="translate(1514.7 553.3) rotate(-90)" font-size="18.5" text-anchor="middle">0.4</text><text class="t" transform="translate(1514.7 492.8) rotate(-90)" font-size="18.5" text-anchor="middle">0.8</text><text class="t" x="1551.1" y="665.2" font-size="18.5" text-anchor="middle">0</text><text class="t" x="1591.6" y="665.2" font-size="18.5" text-anchor="middle">10</text><text class="t" x="1632" y="665.2" font-size="18.5" text-anchor="middle">20</text><text class="t" x="1672.5" y="665.2" font-size="18.5" text-anchor="middle">30</text><text class="t" x="1712.9" y="665.2" font-size="18.5" text-anchor="middle">40</text><text class="t" x="1753.4" y="665.2" font-size="18.5" text-anchor="middle">50</text><text class="t" x="1652.7" y="429.8" font-size="22" text-anchor="middle">d</text><path d="M1645.6 406.4 H1659.9" stroke="#000" stroke-width="2.6"/><path d="M1559.1 467.3 L1563.7 471.2 L1566.9 475.1 L1565.6 479 L1566.3 489.3 L1565 493.2 L1568.9 499.7 L1571.4 507.5 L1574 514 L1575.3 517.9 L1574 520.5 L1577.9 525.7 L1576.6 530.9 L1579.2 534.8 L1575.3 540 L1574 542.6 L1579.2 545.2 L1580.5 547.8 L1576.6 551.6 L1577.9 556.8 L1576.6 562 L1579.2 565.9 L1577.9 572.4 L1577.9 577.6 L1579.2 581.5 L1576.6 586.7 L1571.4 582.8 L1570.2 588 L1571.4 593.2 L1577.9 590.6 L1580.5 593.2 L1576.6 597.1 L1572.7 602.3 L1570.2 606.2 L1565 609.4 L1560.4 604.9 L1560.4 599.7 L1558.5 593.2 L1557.8 582.8 L1558.5 576.3 L1555.9 568.5 L1558.5 563.3 L1558.5 558.1 L1561.1 551.6 L1558.5 546.5 L1561.1 542.6 L1557.2 537.4 L1555.9 530.9 L1555.9 520.5 L1554.6 511.4 L1553.9 504.9 L1555.2 498.4 L1553.9 486.7 L1555.9 479 L1555.9 471.2Z" fill="#a5cd3f"/><path d="M1579.8 509.5 L1583.8 509.5 L1584.5 511 L1586 511.7 L1586 515.7 L1584.5 516.4 L1583.8 517.9 L1579.8 517.9 L1579.1 516.4 L1577.6 515.7 L1577.6 511.7 L1579.1 511ZM1594.1 517.9 L1598.1 517.9 L1598.8 519.4 L1600.3 520.1 L1600.3 524.1 L1598.8 524.8 L1598.1 526.3 L1594.1 526.3 L1593.4 524.8 L1591.9 524.1 L1591.9 520.1 L1593.4 519.4ZM1604.5 523.8 L1608.5 523.8 L1609.2 525.3 L1610.7 526 L1610.7 530 L1609.2 530.7 L1608.5 532.2 L1604.5 532.2 L1603.8 530.7 L1602.3 530 L1602.3 526 L1603.8 525.3ZM1600.3 544.5 L1604.3 544.5 L1605 546 L1606.5 546.7 L1606.5 550.7 L1605 551.4 L1604.3 552.9 L1600.3 552.9 L1599.6 551.4 L1598.1 550.7 L1598.1 546.7 L1599.6 546ZM1618.8 548.4 L1622.8 548.4 L1623.5 549.9 L1625 550.6 L1625 554.6 L1623.5 555.3 L1622.8 556.8 L1618.8 556.8 L1618.1 555.3 L1616.6 554.6 L1616.6 550.6 L1618.1 549.9ZM1579.8 550.7 L1583.8 550.7 L1584.5 552.2 L1586 552.9 L1586 556.9 L1584.5 557.6 L1583.8 559.1 L1579.8 559.1 L1579.1 557.6 L1577.6 556.9 L1577.6 552.9 L1579.1 552.2ZM1718.7 554.6 L1722.7 554.6 L1723.4 556.1 L1724.9 556.8 L1724.9 560.8 L1723.4 561.5 L1722.7 563 L1718.7 563 L1718 561.5 L1716.5 560.8 L1716.5 556.8 L1718 556.1ZM1590.2 573 L1594.2 573 L1594.9 574.5 L1596.4 575.2 L1596.4 579.2 L1594.9 579.9 L1594.2 581.4 L1590.2 581.4 L1589.5 579.9 L1588 579.2 L1588 575.2 L1589.5 574.5ZM1622.9 577.3 L1626.9 577.3 L1627.6 578.8 L1629.1 579.5 L1629.1 583.5 L1627.6 584.2 L1626.9 585.7 L1622.9 585.7 L1622.2 584.2 L1620.7 583.5 L1620.7 579.5 L1622.2 578.8ZM1596.1 590.9 L1600.1 590.9 L1600.8 592.4 L1602.3 593.1 L1602.3 597.1 L1600.8 597.8 L1600.1 599.3 L1596.1 599.3 L1595.4 597.8 L1593.9 597.1 L1593.9 593.1 L1595.4 592.4ZM1600.6 587.7 L1604.6 587.7 L1605.3 589.2 L1606.8 589.9 L1606.8 593.9 L1605.3 594.6 L1604.6 596.1 L1600.6 596.1 L1599.9 594.6 L1598.4 593.9 L1598.4 589.9 L1599.9 589.2ZM1604.5 587 L1608.5 587 L1609.2 588.5 L1610.7 589.2 L1610.7 593.2 L1609.2 593.9 L1608.5 595.4 L1604.5 595.4 L1603.8 593.9 L1602.3 593.2 L1602.3 589.2 L1603.8 588.5ZM1599.3 591.6 L1603.3 591.6 L1604 593.1 L1605.5 593.8 L1605.5 597.8 L1604 598.5 L1603.3 600 L1599.3 600 L1598.6 598.5 L1597.1 597.8 L1597.1 593.8 L1598.6 593.1ZM1579.8 601.7 L1583.8 601.7 L1584.5 603.2 L1586 603.9 L1586 607.9 L1584.5 608.6 L1583.8 610.1 L1579.8 610.1 L1579.1 608.6 L1577.6 607.9 L1577.6 603.9 L1579.1 603.2Z" fill="#a5cd3f"/></g>
<g><path d="M142.4 778.5 H155.4 V929.4 H142.4 M142.4 899.2 H155.4 M142.4 869 H155.4 M142.4 838.9 H155.4 M142.4 808.7 H155.4 M163.8 949.4 V935.4 H366.1 V949.4 M197.5 935.4 V949.4 M231.2 935.4 V949.4 M265 935.4 V949.4 M298.7 935.4 V949.4 M332.4 935.4 V949.4" fill="none" stroke="#000" stroke-width="2.4"/><text class="t" transform="translate(125.9 930.1) rotate(-90)" font-size="18.5" text-anchor="middle">0</text><text class="t" transform="translate(125.9 869.7) rotate(-90)" font-size="18.5" text-anchor="middle">0.4</text><text class="t" transform="translate(125.9 809.4) rotate(-90)" font-size="18.5" text-anchor="middle">0.8</text><text class="t" x="162.3" y="983.4" font-size="18.5" text-anchor="middle">0</text><text class="t" x="196" y="983.4" font-size="18.5" text-anchor="middle">20</text><text class="t" x="263.5" y="983.4" font-size="18.5" text-anchor="middle">60</text><text class="t" x="330.9" y="983.4" font-size="18.5" text-anchor="middle">100</text><text class="t" x="264" y="744.3" font-size="23" text-anchor="middle">D</text><path d="M168.8 785.6 L174.7 789.5 L177.3 793.4 L178.6 797.9 L174.7 802.4 L181.2 803.7 L182.4 808.9 L181.2 815.4 L182.4 821.9 L181.2 827.1 L187.6 827.1 L194.1 828.4 L199.3 830.4 L194.1 833.6 L187.6 833.6 L185 837.5 L190.2 840.1 L191.5 845.3 L190.2 850.5 L192.8 853.1 L191.5 858.3 L191.5 863.5 L190.2 869.9 L192.8 873.8 L191.5 879 L192.8 884.2 L194.1 889.4 L191.5 894.6 L195.4 898.5 L192.8 903.7 L188.9 905 L186.3 902.4 L188.9 907.6 L191.5 912.8 L194.1 919.3 L196.7 924.5 L192.8 927.7 L188.9 924.5 L186.3 919.3 L183.7 921.9 L181.2 927.1 L177.3 927.1 L174.7 921.9 L174.7 912.8 L170.8 911.5 L165.6 905 L166.9 897.2 L169.5 893.3 L165.6 885.5 L168.2 877.7 L173.4 875.1 L173.4 868.6 L174.7 860.9 L177.3 855.7 L170.8 855.7 L165.6 853.1 L166.9 845.3 L165.6 834.9 L165.6 828.4 L164.9 819.3 L165.6 811.5 L164.3 805 L166.9 799.9 L170.8 796 L165.6 789.5Z" fill="#a5cd3f"/><path d="M205.8 834.2 L209.8 834.2 L210.5 835.7 L212 836.4 L212 840.4 L210.5 841.1 L209.8 842.6 L205.8 842.6 L205.1 841.1 L203.6 840.4 L203.6 836.4 L205.1 835.7ZM215.8 840.4 L219.8 840.4 L220.5 841.9 L222 842.6 L222 846.6 L220.5 847.3 L219.8 848.8 L215.8 848.8 L215.1 847.3 L213.6 846.6 L213.6 842.6 L215.1 841.9ZM205.8 860.8 L209.8 860.8 L210.5 862.3 L212 863 L212 867 L210.5 867.7 L209.8 869.2 L205.8 869.2 L205.1 867.7 L203.6 867 L203.6 863 L205.1 862.3ZM242.8 865.1 L246.8 865.1 L247.5 866.6 L249 867.3 L249 871.3 L247.5 872 L246.8 873.5 L242.8 873.5 L242.1 872 L240.6 871.3 L240.6 867.3 L242.1 866.6ZM338.4 870.9 L342.4 870.9 L343.1 872.4 L344.6 873.1 L344.6 877.1 L343.1 877.8 L342.4 879.3 L338.4 879.3 L337.7 877.8 L336.2 877.1 L336.2 873.1 L337.7 872.4ZM195.4 874.8 L199.4 874.8 L200.1 876.3 L201.6 877 L201.6 881 L200.1 881.7 L199.4 883.2 L195.4 883.2 L194.7 881.7 L193.2 881 L193.2 877 L194.7 876.3ZM195.4 880 L199.4 880 L200.1 881.5 L201.6 882.2 L201.6 886.2 L200.1 886.9 L199.4 888.4 L195.4 888.4 L194.7 886.9 L193.2 886.2 L193.2 882.2 L194.7 881.5ZM213.9 891.3 L217.9 891.3 L218.6 892.8 L220.1 893.5 L220.1 897.5 L218.6 898.2 L217.9 899.7 L213.9 899.7 L213.2 898.2 L211.7 897.5 L211.7 893.5 L213.2 892.8ZM264.8 893.6 L268.8 893.6 L269.5 895.1 L271 895.8 L271 899.8 L269.5 900.5 L268.8 902 L264.8 902 L264.1 900.5 L262.6 899.8 L262.6 895.8 L264.1 895.1ZM205.1 907.9 L209.1 907.9 L209.8 909.4 L211.3 910.1 L211.3 914.1 L209.8 914.8 L209.1 916.3 L205.1 916.3 L204.4 914.8 L202.9 914.1 L202.9 910.1 L204.4 909.4ZM210.3 907.3 L214.3 907.3 L215 908.8 L216.5 909.5 L216.5 913.5 L215 914.2 L214.3 915.7 L210.3 915.7 L209.6 914.2 L208.1 913.5 L208.1 909.5 L209.6 908.8ZM215.5 903.4 L219.5 903.4 L220.2 904.9 L221.7 905.6 L221.7 909.6 L220.2 910.3 L219.5 911.8 L215.5 911.8 L214.8 910.3 L213.3 909.6 L213.3 905.6 L214.8 904.9ZM220.7 902.7 L224.7 902.7 L225.4 904.2 L226.9 904.9 L226.9 908.9 L225.4 909.6 L224.7 911.1 L220.7 911.1 L220 909.6 L218.5 908.9 L218.5 904.9 L220 904.2ZM223.3 904 L227.3 904 L228 905.5 L229.5 906.2 L229.5 910.2 L228 910.9 L227.3 912.4 L223.3 912.4 L222.6 910.9 L221.1 910.2 L221.1 906.2 L222.6 905.5Z" fill="#a5cd3f"/></g>
<g><path d="M489.6 778.5 H502.6 V929.4 H489.6 M489.6 899.2 H502.6 M489.6 869 H502.6 M489.6 838.9 H502.6 M489.6 808.7 H502.6 M511 949.4 V935.4 H713.3 V949.4 M544.7 935.4 V949.4 M578.4 935.4 V949.4 M612.1 935.4 V949.4 M645.9 935.4 V949.4 M679.6 935.4 V949.4" fill="none" stroke="#000" stroke-width="2.4"/><text class="t" transform="translate(473.1 930.1) rotate(-90)" font-size="18.5" text-anchor="middle">0</text><text class="t" transform="translate(473.1 869.7) rotate(-90)" font-size="18.5" text-anchor="middle">0.4</text><text class="t" transform="translate(473.1 809.4) rotate(-90)" font-size="18.5" text-anchor="middle">0.8</text><text class="t" x="509.5" y="983.4" font-size="18.5" text-anchor="middle">0</text><text class="t" x="543.2" y="983.4" font-size="18.5" text-anchor="middle">10</text><text class="t" x="610.6" y="983.4" font-size="18.5" text-anchor="middle">30</text><text class="t" x="678.1" y="983.4" font-size="18.5" text-anchor="middle">50</text><text class="t" x="610.2" y="742.6" font-size="22" text-anchor="middle" textLength="12" lengthAdjust="spacingAndGlyphs">π</text><path d="M520.4 785.6 L526.9 790.8 L528.2 797.3 L526.9 801.2 L529.4 806.3 L529.4 812.8 L530.7 824.5 L537.2 827.1 L543.7 828.4 L548.3 830.4 L543.7 833.6 L538.5 834.9 L539.8 840.1 L538.5 847.9 L539.8 853.1 L541.1 858.3 L544.4 863.5 L542.4 868.6 L542.4 872.5 L546.3 875.1 L550.2 879 L550.2 884.2 L546.3 887.5 L542.4 889.4 L543.7 894.6 L543.7 899.8 L538.5 902.4 L535.9 907.6 L534.6 911.5 L541.1 916.7 L548.3 923.2 L543.7 928.4 L539.8 925.8 L533.3 920.6 L532 927.1 L524.3 927.7 L523 920.6 L523 912.8 L516.5 908.9 L512.6 903.7 L516.5 897.2 L519.1 893.3 L516.5 885.5 L516.5 879 L521.7 875.1 L523 869.9 L520.4 864.8 L523 859.6 L519.1 855.7 L516.5 851.8 L519.1 846.6 L512.6 844 L512.6 834.9 L512.6 821.9 L512.6 812.8 L512.6 803.7 L516.5 797.3 L516.5 789.5Z" fill="#a5cd3f"/><path d="M554.7 834.2 L558.7 834.2 L559.4 835.7 L560.9 836.4 L560.9 840.4 L559.4 841.1 L558.7 842.6 L554.7 842.6 L554 841.1 L552.5 840.4 L552.5 836.4 L554 835.7ZM569.2 840.4 L573.2 840.4 L573.9 841.9 L575.4 842.6 L575.4 846.6 L573.9 847.3 L573.2 848.8 L569.2 848.8 L568.5 847.3 L567 846.6 L567 842.6 L568.5 841.9ZM569.2 860.8 L573.2 860.8 L573.9 862.3 L575.4 863 L575.4 867 L573.9 867.7 L573.2 869.2 L569.2 869.2 L568.5 867.7 L567 867 L567 863 L568.5 862.3ZM589.8 865.1 L593.8 865.1 L594.5 866.6 L596 867.3 L596 871.3 L594.5 872 L593.8 873.5 L589.8 873.5 L589.1 872 L587.6 871.3 L587.6 867.3 L589.1 866.6ZM685.4 870.9 L689.4 870.9 L690.1 872.4 L691.6 873.1 L691.6 877.1 L690.1 877.8 L689.4 879.3 L685.4 879.3 L684.7 877.8 L683.2 877.1 L683.2 873.1 L684.7 872.4ZM565.1 891.3 L569.1 891.3 L569.8 892.8 L571.3 893.5 L571.3 897.5 L569.8 898.2 L569.1 899.7 L565.1 899.7 L564.4 898.2 L562.9 897.5 L562.9 893.5 L564.4 892.8ZM611.8 893.6 L615.8 893.6 L616.5 895.1 L618 895.8 L618 899.8 L616.5 900.5 L615.8 902 L611.8 902 L611.1 900.5 L609.6 899.8 L609.6 895.8 L611.1 895.1ZM553.4 908.6 L557.4 908.6 L558.1 910.1 L559.6 910.8 L559.6 914.8 L558.1 915.5 L557.4 917 L553.4 917 L552.7 915.5 L551.2 914.8 L551.2 910.8 L552.7 910.1ZM558.6 906 L562.6 906 L563.3 907.5 L564.8 908.2 L564.8 912.2 L563.3 912.9 L562.6 914.4 L558.6 914.4 L557.9 912.9 L556.4 912.2 L556.4 908.2 L557.9 907.5ZM562.5 902.7 L566.5 902.7 L567.2 904.2 L568.7 904.9 L568.7 908.9 L567.2 909.6 L566.5 911.1 L562.5 911.1 L561.8 909.6 L560.3 908.9 L560.3 904.9 L561.8 904.2ZM567.7 902.7 L571.7 902.7 L572.4 904.2 L573.9 904.9 L573.9 908.9 L572.4 909.6 L571.7 911.1 L567.7 911.1 L567 909.6 L565.5 908.9 L565.5 904.9 L567 904.2ZM570.9 904 L574.9 904 L575.6 905.5 L577.1 906.2 L577.1 910.2 L575.6 910.9 L574.9 912.4 L570.9 912.4 L570.2 910.9 L568.7 910.2 L568.7 906.2 L570.2 905.5Z" fill="#a5cd3f"/></g>
<g><path d="M836.8 778.5 H849.8 V929.4 H836.8 M836.8 899.2 H849.8 M836.8 869 H849.8 M836.8 838.9 H849.8 M836.8 808.7 H849.8 M858.2 949.4 V935.4 H1060.5 V949.4 M908.8 935.4 V949.4 M959.4 935.4 V949.4 M1009.9 935.4 V949.4" fill="none" stroke="#000" stroke-width="2.4"/><text class="t" transform="translate(820.3 930.1) rotate(-90)" font-size="18.5" text-anchor="middle">0</text><text class="t" transform="translate(820.3 869.7) rotate(-90)" font-size="18.5" text-anchor="middle">0.4</text><text class="t" transform="translate(820.3 809.4) rotate(-90)" font-size="18.5" text-anchor="middle">0.8</text><text class="t" x="856.7" y="983.4" font-size="18.5" text-anchor="middle">0</text><text class="t" x="907.3" y="983.4" font-size="18.5" text-anchor="middle">20</text><text class="t" x="957.9" y="983.4" font-size="18.5" text-anchor="middle">40</text><text class="t" x="1008.4" y="983.4" font-size="18.5" text-anchor="middle">60</text><text class="t" x="1059" y="983.4" font-size="18.5" text-anchor="middle">80</text><text class="t" x="958.3" y="742.1" font-size="22" text-anchor="middle">ϕ</text><path d="M864.8 785.6 L872.6 790.8 L873.9 797.3 L873.9 802.4 L872.6 808.9 L876.4 814.1 L877.7 821.9 L876.4 825.8 L884.2 828.4 L886.8 831 L882.9 836.2 L888.1 840.1 L889.4 845.3 L886.8 850.5 L885.5 857 L890.7 862.2 L888.1 868.6 L893.3 873.8 L893.3 881.6 L892 889.4 L889.4 892 L888.1 895.9 L890.7 899.8 L886.8 905 L888.1 908.9 L884.2 912.8 L888.1 918 L894.6 920.6 L894.6 925.8 L890.7 927.7 L886.8 923.2 L881.6 919.3 L879 923.2 L875.2 927.7 L871.3 924.5 L870 918 L867.4 912.8 L862.2 907.6 L863.5 899.8 L866.1 894.6 L862.2 885.5 L864.8 877.7 L870 873.8 L868.7 866 L870 860.9 L866.1 855.7 L862.2 851.8 L862.2 845.3 L862.2 832.3 L859.6 824.5 L860.9 815.4 L863.5 810.2 L858.3 803.7 L862.2 799.9 L863.5 793.4 L862.2 788.2Z" fill="#a5cd3f"/><path d="M892 826.2 L896 826.2 L896.7 827.7 L898.2 828.4 L898.2 832.4 L896.7 833.1 L896 834.6 L892 834.6 L891.3 833.1 L889.8 832.4 L889.8 828.4 L891.3 827.7ZM908.2 834.2 L912.2 834.2 L912.9 835.7 L914.4 836.4 L914.4 840.4 L912.9 841.1 L912.2 842.6 L908.2 842.6 L907.5 841.1 L906 840.4 L906 836.4 L907.5 835.7ZM920.5 840.4 L924.5 840.4 L925.2 841.9 L926.7 842.6 L926.7 846.6 L925.2 847.3 L924.5 848.8 L920.5 848.8 L919.8 847.3 L918.3 846.6 L918.3 842.6 L919.8 841.9ZM912.3 860.8 L916.3 860.8 L917 862.3 L918.5 863 L918.5 867 L917 867.7 L916.3 869.2 L912.3 869.2 L911.6 867.7 L910.1 867 L910.1 863 L911.6 862.3ZM943 865.1 L947 865.1 L947.7 866.6 L949.2 867.3 L949.2 871.3 L947.7 872 L947 873.5 L943 873.5 L942.3 872 L940.8 871.3 L940.8 867.3 L942.3 866.6ZM1055.3 870.9 L1059.3 870.9 L1060 872.4 L1061.5 873.1 L1061.5 877.1 L1060 877.8 L1059.3 879.3 L1055.3 879.3 L1054.6 877.8 L1053.1 877.1 L1053.1 873.1 L1054.6 872.4ZM910.1 891.3 L914.1 891.3 L914.8 892.8 L916.3 893.5 L916.3 897.5 L914.8 898.2 L914.1 899.7 L910.1 899.7 L909.4 898.2 L907.9 897.5 L907.9 893.5 L909.4 892.8ZM971.4 893.6 L975.4 893.6 L976.1 895.1 L977.6 895.8 L977.6 899.8 L976.1 900.5 L975.4 902 L971.4 902 L970.7 900.5 L969.2 899.8 L969.2 895.8 L970.7 895.1ZM903 907.9 L907 907.9 L907.7 909.4 L909.2 910.1 L909.2 914.1 L907.7 914.8 L907 916.3 L903 916.3 L902.3 914.8 L900.8 914.1 L900.8 910.1 L902.3 909.4ZM908.2 908.6 L912.2 908.6 L912.9 910.1 L914.4 910.8 L914.4 914.8 L912.9 915.5 L912.2 917 L908.2 917 L907.5 915.5 L906 914.8 L906 910.8 L907.5 910.1ZM912.1 907.3 L916.1 907.3 L916.8 908.8 L918.3 909.5 L918.3 913.5 L916.8 914.2 L916.1 915.7 L912.1 915.7 L911.4 914.2 L909.9 913.5 L909.9 909.5 L911.4 908.8ZM916.6 902.7 L920.6 902.7 L921.3 904.2 L922.8 904.9 L922.8 908.9 L921.3 909.6 L920.6 911.1 L916.6 911.1 L915.9 909.6 L914.4 908.9 L914.4 904.9 L915.9 904.2ZM925.1 903.6 L929.1 903.6 L929.8 905.1 L931.3 905.8 L931.3 909.8 L929.8 910.5 L929.1 912 L925.1 912 L924.4 910.5 L922.9 909.8 L922.9 905.8 L924.4 905.1ZM919.9 904.7 L923.9 904.7 L924.6 906.2 L926.1 906.9 L926.1 910.9 L924.6 911.6 L923.9 913.1 L919.9 913.1 L919.2 911.6 L917.7 910.9 L917.7 906.9 L919.2 906.2Z" fill="#a5cd3f"/></g>
<g><path d="M1184 778.5 H1197 V929.4 H1184 M1184 899.2 H1197 M1184 869 H1197 M1184 838.9 H1197 M1184 808.7 H1197 M1205.4 949.4 V935.4 H1407.7 V949.4 M1256 935.4 V949.4 M1306.5 935.4 V949.4 M1357.1 935.4 V949.4" fill="none" stroke="#000" stroke-width="2.4"/><text class="t" transform="translate(1167.5 930.1) rotate(-90)" font-size="18.5" text-anchor="middle">0</text><text class="t" transform="translate(1167.5 869.7) rotate(-90)" font-size="18.5" text-anchor="middle">0.4</text><text class="t" transform="translate(1167.5 809.4) rotate(-90)" font-size="18.5" text-anchor="middle">0.8</text><text class="t" x="1203.9" y="983.4" font-size="18.5" text-anchor="middle">0.0</text><text class="t" x="1254.5" y="983.4" font-size="18.5" text-anchor="middle">0.2</text><text class="t" x="1305" y="983.4" font-size="18.5" text-anchor="middle">0.4</text><text class="t" x="1355.6" y="983.4" font-size="18.5" text-anchor="middle">0.6</text><text class="t" x="1406.2" y="983.4" font-size="18.5" text-anchor="middle">0.8</text><text class="t" x="1304.5" y="744.3" font-size="23" text-anchor="middle">Eff</text><path d="M1280.3 812.8 L1282.9 818 L1281.6 824.5 L1280.3 829.7 L1281.6 834.9 L1277.7 838.8 L1277.7 845.3 L1273.8 850.5 L1271.2 854.4 L1273.8 859.6 L1269.9 863.5 L1267.3 868.6 L1267.3 873.8 L1260.8 876.4 L1256.9 881.6 L1256.9 886.8 L1255.6 892 L1254.3 897.2 L1258.2 899.8 L1255.6 902.4 L1249.1 899.8 L1246.5 895.9 L1247.8 889.4 L1246.5 881.6 L1242.6 873.8 L1246.5 869.9 L1250.4 868.6 L1253 863.5 L1245.2 863.5 L1245.2 860.9 L1250.4 858.3 L1254.3 857 L1250.4 853.1 L1249.1 849.2 L1253 846.6 L1253 840.1 L1259.5 836.2 L1262.1 829.7 L1267.3 824.5 L1272.5 819.3 L1276.4 814.1ZM1288 815.4 L1293.2 812.8 L1299.7 814.1 L1306.2 815.4 L1304.9 819.3 L1295.8 820.6 L1294.5 824.5 L1290.6 828.4 L1293.2 834.9 L1291.9 840.1 L1288 840.1 L1285.5 833.6 L1286.8 825.8Z" fill="#a5cd3f"/><path d="M1294.1 787.2 L1298.1 787.2 L1298.8 788.7 L1300.3 789.4 L1300.3 793.4 L1298.8 794.1 L1298.1 795.6 L1294.1 795.6 L1293.4 794.1 L1291.9 793.4 L1291.9 789.4 L1293.4 788.7ZM1343.2 785.3 L1347.2 785.3 L1347.9 786.8 L1349.4 787.5 L1349.4 791.5 L1347.9 792.2 L1347.2 793.7 L1343.2 793.7 L1342.5 792.2 L1341 791.5 L1341 787.5 L1342.5 786.8ZM1316.6 793.1 L1320.6 793.1 L1321.3 794.6 L1322.8 795.3 L1322.8 799.3 L1321.3 800 L1320.6 801.5 L1316.6 801.5 L1315.9 800 L1314.4 799.3 L1314.4 795.3 L1315.9 794.6ZM1321.7 795 L1325.7 795 L1326.4 796.5 L1327.9 797.2 L1327.9 801.2 L1326.4 801.9 L1325.7 803.4 L1321.7 803.4 L1321 801.9 L1319.5 801.2 L1319.5 797.2 L1321 796.5ZM1330.8 790.5 L1334.8 790.5 L1335.5 792 L1337 792.7 L1337 796.7 L1335.5 797.4 L1334.8 798.9 L1330.8 798.9 L1330.1 797.4 L1328.6 796.7 L1328.6 792.7 L1330.1 792ZM1330.8 795.7 L1334.8 795.7 L1335.5 797.2 L1337 797.9 L1337 801.9 L1335.5 802.6 L1334.8 804.1 L1330.8 804.1 L1330.1 802.6 L1328.6 801.9 L1328.6 797.9 L1330.1 797.2ZM1386 799.5 L1390 799.5 L1390.7 801 L1392.2 801.7 L1392.2 805.7 L1390.7 806.4 L1390 807.9 L1386 807.9 L1385.3 806.4 L1383.8 805.7 L1383.8 801.7 L1385.3 801ZM1298 800.8 L1302 800.8 L1302.7 802.3 L1304.2 803 L1304.2 807 L1302.7 807.7 L1302 809.2 L1298 809.2 L1297.3 807.7 L1295.8 807 L1295.8 803 L1297.3 802.3ZM1299 804.7 L1303 804.7 L1303.7 806.2 L1305.2 806.9 L1305.2 810.9 L1303.7 811.6 L1303 813.1 L1299 813.1 L1298.3 811.6 L1296.8 810.9 L1296.8 806.9 L1298.3 806.2ZM1318.5 803.4 L1322.5 803.4 L1323.2 804.9 L1324.7 805.6 L1324.7 809.6 L1323.2 810.3 L1322.5 811.8 L1318.5 811.8 L1317.8 810.3 L1316.3 809.6 L1316.3 805.6 L1317.8 804.9ZM1319.8 805.4 L1323.8 805.4 L1324.5 806.9 L1326 807.6 L1326 811.6 L1324.5 812.3 L1323.8 813.8 L1319.8 813.8 L1319.1 812.3 L1317.6 811.6 L1317.6 807.6 L1319.1 806.9ZM1331.5 802.1 L1335.5 802.1 L1336.2 803.6 L1337.7 804.3 L1337.7 808.3 L1336.2 809 L1335.5 810.5 L1331.5 810.5 L1330.8 809 L1329.3 808.3 L1329.3 804.3 L1330.8 803.6ZM1338 803.4 L1342 803.4 L1342.7 804.9 L1344.2 805.6 L1344.2 809.6 L1342.7 810.3 L1342 811.8 L1338 811.8 L1337.3 810.3 L1335.8 809.6 L1335.8 805.6 L1337.3 804.9ZM1341.9 808.6 L1345.9 808.6 L1346.6 810.1 L1348.1 810.8 L1348.1 814.8 L1346.6 815.5 L1345.9 817 L1341.9 817 L1341.2 815.5 L1339.7 814.8 L1339.7 810.8 L1341.2 810.1ZM1340.6 815.1 L1344.6 815.1 L1345.3 816.6 L1346.8 817.3 L1346.8 821.3 L1345.3 822 L1344.6 823.5 L1340.6 823.5 L1339.9 822 L1338.4 821.3 L1338.4 817.3 L1339.9 816.6ZM1334.1 808.6 L1338.1 808.6 L1338.8 810.1 L1340.3 810.8 L1340.3 814.8 L1338.8 815.5 L1338.1 817 L1334.1 817 L1333.4 815.5 L1331.9 814.8 L1331.9 810.8 L1333.4 810.1ZM1332.8 813.8 L1336.8 813.8 L1337.5 815.3 L1339 816 L1339 820 L1337.5 820.7 L1336.8 822.2 L1332.8 822.2 L1332.1 820.7 L1330.6 820 L1330.6 816 L1332.1 815.3ZM1330.2 820.3 L1334.2 820.3 L1334.9 821.8 L1336.4 822.5 L1336.4 826.5 L1334.9 827.2 L1334.2 828.7 L1330.2 828.7 L1329.5 827.2 L1328 826.5 L1328 822.5 L1329.5 821.8ZM1325 817.7 L1329 817.7 L1329.7 819.2 L1331.2 819.9 L1331.2 823.9 L1329.7 824.6 L1329 826.1 L1325 826.1 L1324.3 824.6 L1322.8 823.9 L1322.8 819.9 L1324.3 819.2ZM1319.8 817.7 L1323.8 817.7 L1324.5 819.2 L1326 819.9 L1326 823.9 L1324.5 824.6 L1323.8 826.1 L1319.8 826.1 L1319.1 824.6 L1317.6 823.9 L1317.6 819.9 L1319.1 819.2ZM1315.9 819 L1319.9 819 L1320.6 820.5 L1322.1 821.2 L1322.1 825.2 L1320.6 825.9 L1319.9 827.4 L1315.9 827.4 L1315.2 825.9 L1313.7 825.2 L1313.7 821.2 L1315.2 820.5ZM1322.4 820.3 L1326.4 820.3 L1327.1 821.8 L1328.6 822.5 L1328.6 826.5 L1327.1 827.2 L1326.4 828.7 L1322.4 828.7 L1321.7 827.2 L1320.2 826.5 L1320.2 822.5 L1321.7 821.8ZM1304.2 821.9 L1308.2 821.9 L1308.9 823.4 L1310.4 824.1 L1310.4 828.1 L1308.9 828.8 L1308.2 830.3 L1304.2 830.3 L1303.5 828.8 L1302 828.1 L1302 824.1 L1303.5 823.4ZM1355.1 818.1 L1359.1 818.1 L1359.8 819.6 L1361.3 820.3 L1361.3 824.3 L1359.8 825 L1359.1 826.5 L1355.1 826.5 L1354.4 825 L1352.9 824.3 L1352.9 820.3 L1354.4 819.6ZM1379.8 822 L1383.8 822 L1384.5 823.5 L1386 824.2 L1386 828.2 L1384.5 828.9 L1383.8 830.4 L1379.8 830.4 L1379.1 828.9 L1377.6 828.2 L1377.6 824.2 L1379.1 823.5ZM1296.4 826.2 L1300.4 826.2 L1301.1 827.7 L1302.6 828.4 L1302.6 832.4 L1301.1 833.1 L1300.4 834.6 L1296.4 834.6 L1295.7 833.1 L1294.2 832.4 L1294.2 828.4 L1295.7 827.7ZM1314.6 828.1 L1318.6 828.1 L1319.3 829.6 L1320.8 830.3 L1320.8 834.3 L1319.3 835 L1318.6 836.5 L1314.6 836.5 L1313.9 835 L1312.4 834.3 L1312.4 830.3 L1313.9 829.6ZM1332.8 830 L1336.8 830 L1337.5 831.5 L1339 832.2 L1339 836.2 L1337.5 836.9 L1336.8 838.4 L1332.8 838.4 L1332.1 836.9 L1330.6 836.2 L1330.6 832.2 L1332.1 831.5ZM1247.1 826.2 L1251.1 826.2 L1251.8 827.7 L1253.3 828.4 L1253.3 832.4 L1251.8 833.1 L1251.1 834.6 L1247.1 834.6 L1246.4 833.1 L1244.9 832.4 L1244.9 828.4 L1246.4 827.7ZM1234.8 834.3 L1238.8 834.3 L1239.5 835.8 L1241 836.5 L1241 840.5 L1239.5 841.2 L1238.8 842.7 L1234.8 842.7 L1234.1 841.2 L1232.6 840.5 L1232.6 836.5 L1234.1 835.8ZM1226.6 840.4 L1230.6 840.4 L1231.3 841.9 L1232.8 842.6 L1232.8 846.6 L1231.3 847.3 L1230.6 848.8 L1226.6 848.8 L1225.9 847.3 L1224.4 846.6 L1224.4 842.6 L1225.9 841.9ZM1304.2 834.2 L1308.2 834.2 L1308.9 835.7 L1310.4 836.4 L1310.4 840.4 L1308.9 841.1 L1308.2 842.6 L1304.2 842.6 L1303.5 841.1 L1302 840.4 L1302 836.4 L1303.5 835.7ZM1326.3 840.4 L1330.3 840.4 L1331 841.9 L1332.5 842.6 L1332.5 846.6 L1331 847.3 L1330.3 848.8 L1326.3 848.8 L1325.6 847.3 L1324.1 846.6 L1324.1 842.6 L1325.6 841.9ZM1308.4 844.3 L1312.4 844.3 L1313.1 845.8 L1314.6 846.5 L1314.6 850.5 L1313.1 851.2 L1312.4 852.7 L1308.4 852.7 L1307.7 851.2 L1306.2 850.5 L1306.2 846.5 L1307.7 845.8ZM1335 848.6 L1339 848.6 L1339.7 850.1 L1341.2 850.8 L1341.2 854.8 L1339.7 855.5 L1339 857 L1335 857 L1334.3 855.5 L1332.8 854.8 L1332.8 850.8 L1334.3 850.1ZM1302.3 858.6 L1306.3 858.6 L1307 860.1 L1308.5 860.8 L1308.5 864.8 L1307 865.5 L1306.3 867 L1302.3 867 L1301.6 865.5 L1300.1 864.8 L1300.1 860.8 L1301.6 860.1ZM1278.3 861.2 L1282.3 861.2 L1283 862.7 L1284.5 863.4 L1284.5 867.4 L1283 868.1 L1282.3 869.6 L1278.3 869.6 L1277.6 868.1 L1276.1 867.4 L1276.1 863.4 L1277.6 862.7ZM1282.2 863.1 L1286.2 863.1 L1286.9 864.6 L1288.4 865.3 L1288.4 869.3 L1286.9 870 L1286.2 871.5 L1282.2 871.5 L1281.5 870 L1280 869.3 L1280 865.3 L1281.5 864.6ZM1269.8 856.7 L1273.8 856.7 L1274.5 858.2 L1276 858.9 L1276 862.9 L1274.5 863.6 L1273.8 865.1 L1269.8 865.1 L1269.1 863.6 L1267.6 862.9 L1267.6 858.9 L1269.1 858.2ZM1228.9 860.6 L1232.9 860.6 L1233.6 862.1 L1235.1 862.8 L1235.1 866.8 L1233.6 867.5 L1232.9 869 L1228.9 869 L1228.2 867.5 L1226.7 866.8 L1226.7 862.8 L1228.2 862.1ZM1222.4 864.4 L1226.4 864.4 L1227.1 865.9 L1228.6 866.6 L1228.6 870.6 L1227.1 871.3 L1226.4 872.8 L1222.4 872.8 L1221.7 871.3 L1220.2 870.6 L1220.2 866.6 L1221.7 865.9ZM1210.1 870.9 L1214.1 870.9 L1214.8 872.4 L1216.3 873.1 L1216.3 877.1 L1214.8 877.8 L1214.1 879.3 L1210.1 879.3 L1209.4 877.8 L1207.9 877.1 L1207.9 873.1 L1209.4 872.4ZM1261.4 874.8 L1265.4 874.8 L1266.1 876.3 L1267.6 877 L1267.6 881 L1266.1 881.7 L1265.4 883.2 L1261.4 883.2 L1260.7 881.7 L1259.2 881 L1259.2 877 L1260.7 876.3ZM1285.4 874.8 L1289.4 874.8 L1290.1 876.3 L1291.6 877 L1291.6 881 L1290.1 881.7 L1289.4 883.2 L1285.4 883.2 L1284.7 881.7 L1283.2 881 L1283.2 877 L1284.7 876.3ZM1283.5 878.7 L1287.5 878.7 L1288.2 880.2 L1289.7 880.9 L1289.7 884.9 L1288.2 885.6 L1287.5 887.1 L1283.5 887.1 L1282.8 885.6 L1281.3 884.9 L1281.3 880.9 L1282.8 880.2ZM1304.2 872.2 L1308.2 872.2 L1308.9 873.7 L1310.4 874.4 L1310.4 878.4 L1308.9 879.1 L1308.2 880.6 L1304.2 880.6 L1303.5 879.1 L1302 878.4 L1302 874.4 L1303.5 873.7ZM1302.9 877.4 L1306.9 877.4 L1307.6 878.9 L1309.1 879.6 L1309.1 883.6 L1307.6 884.3 L1306.9 885.8 L1302.9 885.8 L1302.2 884.3 L1300.7 883.6 L1300.7 879.6 L1302.2 878.9ZM1297.7 881.3 L1301.7 881.3 L1302.4 882.8 L1303.9 883.5 L1303.9 887.5 L1302.4 888.2 L1301.7 889.7 L1297.7 889.7 L1297 888.2 L1295.5 887.5 L1295.5 883.5 L1297 882.8ZM1295.8 883.9 L1299.8 883.9 L1300.5 885.4 L1302 886.1 L1302 890.1 L1300.5 890.8 L1299.8 892.3 L1295.8 892.3 L1295.1 890.8 L1293.6 890.1 L1293.6 886.1 L1295.1 885.4ZM1326.7 881.1 L1330.7 881.1 L1331.4 882.6 L1332.9 883.3 L1332.9 887.3 L1331.4 888 L1330.7 889.5 L1326.7 889.5 L1326 888 L1324.5 887.3 L1324.5 883.3 L1326 882.6ZM1263.3 889.8 L1267.3 889.8 L1268 891.3 L1269.5 892 L1269.5 896 L1268 896.7 L1267.3 898.2 L1263.3 898.2 L1262.6 896.7 L1261.1 896 L1261.1 892 L1262.6 891.3ZM1281.9 889.1 L1285.9 889.1 L1286.6 890.6 L1288.1 891.3 L1288.1 895.3 L1286.6 896 L1285.9 897.5 L1281.9 897.5 L1281.2 896 L1279.7 895.3 L1279.7 891.3 L1281.2 890.6ZM1274.4 894.3 L1278.4 894.3 L1279.1 895.8 L1280.6 896.5 L1280.6 900.5 L1279.1 901.2 L1278.4 902.7 L1274.4 902.7 L1273.7 901.2 L1272.2 900.5 L1272.2 896.5 L1273.7 895.8ZM1274.4 899.5 L1278.4 899.5 L1279.1 901 L1280.6 901.7 L1280.6 905.7 L1279.1 906.4 L1278.4 907.9 L1274.4 907.9 L1273.7 906.4 L1272.2 905.7 L1272.2 901.7 L1273.7 901ZM1275.7 902.7 L1279.7 902.7 L1280.4 904.2 L1281.9 904.9 L1281.9 908.9 L1280.4 909.6 L1279.7 911.1 L1275.7 911.1 L1275 909.6 L1273.5 908.9 L1273.5 904.9 L1275 904.2ZM1228.9 891.1 L1232.9 891.1 L1233.6 892.6 L1235.1 893.3 L1235.1 897.3 L1233.6 898 L1232.9 899.5 L1228.9 899.5 L1228.2 898 L1226.7 897.3 L1226.7 893.3 L1228.2 892.6ZM1220.5 893.6 L1224.5 893.6 L1225.2 895.1 L1226.7 895.8 L1226.7 899.8 L1225.2 900.5 L1224.5 902 L1220.5 902 L1219.8 900.5 L1218.3 899.8 L1218.3 895.8 L1219.8 895.1ZM1297.7 893 L1301.7 893 L1302.4 894.5 L1303.9 895.2 L1303.9 899.2 L1302.4 899.9 L1301.7 901.4 L1297.7 901.4 L1297 899.9 L1295.5 899.2 L1295.5 895.2 L1297 894.5ZM1297.7 896.9 L1301.7 896.9 L1302.4 898.4 L1303.9 899.1 L1303.9 903.1 L1302.4 903.8 L1301.7 905.3 L1297.7 905.3 L1297 903.8 L1295.5 903.1 L1295.5 899.1 L1297 898.4ZM1297.7 904 L1301.7 904 L1302.4 905.5 L1303.9 906.2 L1303.9 910.2 L1302.4 910.9 L1301.7 912.4 L1297.7 912.4 L1297 910.9 L1295.5 910.2 L1295.5 906.2 L1297 905.5ZM1314.6 899.5 L1318.6 899.5 L1319.3 901 L1320.8 901.7 L1320.8 905.7 L1319.3 906.4 L1318.6 907.9 L1314.6 907.9 L1313.9 906.4 L1312.4 905.7 L1312.4 901.7 L1313.9 901ZM1225 902.7 L1229 902.7 L1229.7 904.2 L1231.2 904.9 L1231.2 908.9 L1229.7 909.6 L1229 911.1 L1225 911.1 L1224.3 909.6 L1222.8 908.9 L1222.8 904.9 L1224.3 904.2ZM1230.9 903.4 L1234.9 903.4 L1235.6 904.9 L1237.1 905.6 L1237.1 909.6 L1235.6 910.3 L1234.9 911.8 L1230.9 911.8 L1230.2 910.3 L1228.7 909.6 L1228.7 905.6 L1230.2 904.9ZM1227.6 907.3 L1231.6 907.3 L1232.3 908.8 L1233.8 909.5 L1233.8 913.5 L1232.3 914.2 L1231.6 915.7 L1227.6 915.7 L1226.9 914.2 L1225.4 913.5 L1225.4 909.5 L1226.9 908.8ZM1251 905.3 L1255 905.3 L1255.7 906.8 L1257.2 907.5 L1257.2 911.5 L1255.7 912.2 L1255 913.7 L1251 913.7 L1250.3 912.2 L1248.8 911.5 L1248.8 907.5 L1250.3 906.8ZM1251 912.5 L1255 912.5 L1255.7 914 L1257.2 914.7 L1257.2 918.7 L1255.7 919.4 L1255 920.9 L1251 920.9 L1250.3 919.4 L1248.8 918.7 L1248.8 914.7 L1250.3 914ZM1264 903.4 L1268 903.4 L1268.7 904.9 L1270.2 905.6 L1270.2 909.6 L1268.7 910.3 L1268 911.8 L1264 911.8 L1263.3 910.3 L1261.8 909.6 L1261.8 905.6 L1263.3 904.9ZM1268.5 906 L1272.5 906 L1273.2 907.5 L1274.7 908.2 L1274.7 912.2 L1273.2 912.9 L1272.5 914.4 L1268.5 914.4 L1267.8 912.9 L1266.3 912.2 L1266.3 908.2 L1267.8 907.5ZM1288.3 907.7 L1292.3 907.7 L1293 909.2 L1294.5 909.9 L1294.5 913.9 L1293 914.6 L1292.3 916.1 L1288.3 916.1 L1287.6 914.6 L1286.1 913.9 L1286.1 909.9 L1287.6 909.2ZM1278.3 911.2 L1282.3 911.2 L1283 912.7 L1284.5 913.4 L1284.5 917.4 L1283 918.1 L1282.3 919.6 L1278.3 919.6 L1277.6 918.1 L1276.1 917.4 L1276.1 913.4 L1277.6 912.7ZM1282.2 915.1 L1286.2 915.1 L1286.9 916.6 L1288.4 917.3 L1288.4 921.3 L1286.9 922 L1286.2 923.5 L1282.2 923.5 L1281.5 922 L1280 921.3 L1280 917.3 L1281.5 916.6ZM1273.1 915.1 L1277.1 915.1 L1277.8 916.6 L1279.3 917.3 L1279.3 921.3 L1277.8 922 L1277.1 923.5 L1273.1 923.5 L1272.4 922 L1270.9 921.3 L1270.9 917.3 L1272.4 916.6ZM1271.8 920.3 L1275.8 920.3 L1276.5 921.8 L1278 922.5 L1278 926.5 L1276.5 927.2 L1275.8 928.7 L1271.8 928.7 L1271.1 927.2 L1269.6 926.5 L1269.6 922.5 L1271.1 921.8ZM1240.9 920 L1244.9 920 L1245.6 921.5 L1247.1 922.2 L1247.1 926.2 L1245.6 926.9 L1244.9 928.4 L1240.9 928.4 L1240.2 926.9 L1238.7 926.2 L1238.7 922.2 L1240.2 921.5Z" fill="#a5cd3f"/></g>
<g><path d="M1531.2 778.5 H1544.2 V929.4 H1531.2 M1531.2 899.2 H1544.2 M1531.2 869 H1544.2 M1531.2 838.9 H1544.2 M1531.2 808.7 H1544.2 M1552.6 949.4 V935.4 H1754.9 V949.4 M1593.1 935.4 V949.4 M1633.5 935.4 V949.4 M1674 935.4 V949.4 M1714.4 935.4 V949.4" fill="none" stroke="#000" stroke-width="2.4"/><text class="t" transform="translate(1514.7 930.1) rotate(-90)" font-size="18.5" text-anchor="middle">0</text><text class="t" transform="translate(1514.7 869.7) rotate(-90)" font-size="18.5" text-anchor="middle">0.4</text><text class="t" transform="translate(1514.7 809.4) rotate(-90)" font-size="18.5" text-anchor="middle">0.8</text><text class="t" x="1551.1" y="983.4" font-size="18.5" text-anchor="middle">0.0</text><text class="t" x="1632" y="983.4" font-size="18.5" text-anchor="middle">0.4</text><text class="t" x="1712.9" y="983.4" font-size="18.5" text-anchor="middle">0.8</text><text class="t" x="1651.4" y="744.3" font-size="23" text-anchor="middle">Q</text><path d="M1653.2 828.4 L1661 824.5 L1663.6 821.9 L1658.4 818 L1655.8 811.5 L1654.5 802.4 L1651.9 799.9 L1650.6 797.3 L1657.1 794.7 L1663.6 798.6 L1662.3 803.7 L1663.6 810.2 L1667.5 812.8 L1668.8 818 L1674 814.1 L1677.9 814.1 L1680.5 819.3 L1679.2 824.5 L1685.7 825.8 L1694.8 828.4 L1697.4 831 L1693.5 837.5 L1697.4 842.7 L1694.8 847.9 L1694.8 853.1 L1688.3 859.6 L1694.8 862.2 L1701.2 867.3 L1705.1 872.5 L1702.5 876.4 L1698.7 873.8 L1694.8 869.9 L1688.3 864.8 L1688.3 869.9 L1687 873.8 L1680.5 872.5 L1676.6 868.6 L1671.4 866 L1672.7 860.9 L1668.8 859.6 L1664.9 860.9 L1661 863.5 L1659.7 867.3 L1655.8 866 L1654.5 860.9 L1650.6 858.3 L1651.9 850.5 L1651.9 844 L1653.2 838.8 L1650.6 832.3Z" fill="#a5cd3f"/><path d="M1659.3 836.5 L1671.1 852.3" stroke="#fff" stroke-width="2.8" stroke-linecap="round"/><path d="M1689.6 866.7 L1696.7 873.8" stroke="#fff" stroke-width="3.0" stroke-linecap="round"/><path d="M1674.4 839.4 L1674.8 839.8" stroke="#fff" stroke-width="2.2" stroke-linecap="round"/><path d="M1677.4 846.5 L1677.8 846.8" stroke="#fff" stroke-width="2.2" stroke-linecap="round"/><path d="M1657.9 853.6 L1658.3 854" stroke="#fff" stroke-width="2.2" stroke-linecap="round"/><path d="M1657.9 859.8 L1658.3 860.2" stroke="#fff" stroke-width="2.2" stroke-linecap="round"/><path d="M1614.9 785.3 L1618.9 785.3 L1619.6 786.8 L1621.1 787.5 L1621.1 791.5 L1619.6 792.2 L1618.9 793.7 L1614.9 793.7 L1614.2 792.2 L1612.7 791.5 L1612.7 787.5 L1614.2 786.8ZM1607.1 791.1 L1611.1 791.1 L1611.8 792.6 L1613.3 793.3 L1613.3 797.3 L1611.8 798 L1611.1 799.5 L1607.1 799.5 L1606.4 798 L1604.9 797.3 L1604.9 793.3 L1606.4 792.6ZM1667.7 787.2 L1671.7 787.2 L1672.4 788.7 L1673.9 789.4 L1673.9 793.4 L1672.4 794.1 L1671.7 795.6 L1667.7 795.6 L1667 794.1 L1665.5 793.4 L1665.5 789.4 L1667 788.7ZM1565.6 799.5 L1569.6 799.5 L1570.3 801 L1571.8 801.7 L1571.8 805.7 L1570.3 806.4 L1569.6 807.9 L1565.6 807.9 L1564.9 806.4 L1563.4 805.7 L1563.4 801.7 L1564.9 801ZM1609.7 803.4 L1613.7 803.4 L1614.4 804.9 L1615.9 805.6 L1615.9 809.6 L1614.4 810.3 L1613.7 811.8 L1609.7 811.8 L1609 810.3 L1607.5 809.6 L1607.5 805.6 L1609 804.9ZM1613.6 803.4 L1617.6 803.4 L1618.3 804.9 L1619.8 805.6 L1619.8 809.6 L1618.3 810.3 L1617.6 811.8 L1613.6 811.8 L1612.9 810.3 L1611.4 809.6 L1611.4 805.6 L1612.9 804.9ZM1633.7 803.4 L1637.7 803.4 L1638.4 804.9 L1639.9 805.6 L1639.9 809.6 L1638.4 810.3 L1637.7 811.8 L1633.7 811.8 L1633 810.3 L1631.5 809.6 L1631.5 805.6 L1633 804.9ZM1570.1 809.9 L1574.1 809.9 L1574.8 811.4 L1576.3 812.1 L1576.3 816.1 L1574.8 816.8 L1574.1 818.3 L1570.1 818.3 L1569.4 816.8 L1567.9 816.1 L1567.9 812.1 L1569.4 811.4ZM1555.2 812.5 L1559.2 812.5 L1559.9 814 L1561.4 814.7 L1561.4 818.7 L1559.9 819.4 L1559.2 820.9 L1555.2 820.9 L1554.5 819.4 L1553 818.7 L1553 814.7 L1554.5 814ZM1553.9 816.4 L1557.9 816.4 L1558.6 817.9 L1560.1 818.6 L1560.1 822.6 L1558.6 823.3 L1557.9 824.8 L1553.9 824.8 L1553.2 823.3 L1551.7 822.6 L1551.7 818.6 L1553.2 817.9ZM1548.7 821.6 L1552.7 821.6 L1553.4 823.1 L1554.9 823.8 L1554.9 827.8 L1553.4 828.5 L1552.7 830 L1548.7 830 L1548 828.5 L1546.5 827.8 L1546.5 823.8 L1548 823.1ZM1565.6 820.3 L1569.6 820.3 L1570.3 821.8 L1571.8 822.5 L1571.8 826.5 L1570.3 827.2 L1569.6 828.7 L1565.6 828.7 L1564.9 827.2 L1563.4 826.5 L1563.4 822.5 L1564.9 821.8ZM1604.5 809.9 L1608.5 809.9 L1609.2 811.4 L1610.7 812.1 L1610.7 816.1 L1609.2 816.8 L1608.5 818.3 L1604.5 818.3 L1603.8 816.8 L1602.3 816.1 L1602.3 812.1 L1603.8 811.4ZM1600.6 817.7 L1604.6 817.7 L1605.3 819.2 L1606.8 819.9 L1606.8 823.9 L1605.3 824.6 L1604.6 826.1 L1600.6 826.1 L1599.9 824.6 L1598.4 823.9 L1598.4 819.9 L1599.9 819.2ZM1601.9 813.8 L1605.9 813.8 L1606.6 815.3 L1608.1 816 L1608.1 820 L1606.6 820.7 L1605.9 822.2 L1601.9 822.2 L1601.2 820.7 L1599.7 820 L1599.7 816 L1601.2 815.3ZM1627.9 812.5 L1631.9 812.5 L1632.6 814 L1634.1 814.7 L1634.1 818.7 L1632.6 819.4 L1631.9 820.9 L1627.9 820.9 L1627.2 819.4 L1625.7 818.7 L1625.7 814.7 L1627.2 814ZM1626.6 817.7 L1630.6 817.7 L1631.3 819.2 L1632.8 819.9 L1632.8 823.9 L1631.3 824.6 L1630.6 826.1 L1626.6 826.1 L1625.9 824.6 L1624.4 823.9 L1624.4 819.9 L1625.9 819.2ZM1624 820.3 L1628 820.3 L1628.7 821.8 L1630.2 822.5 L1630.2 826.5 L1628.7 827.2 L1628 828.7 L1624 828.7 L1623.3 827.2 L1621.8 826.5 L1621.8 822.5 L1623.3 821.8ZM1633 817.7 L1637 817.7 L1637.7 819.2 L1639.2 819.9 L1639.2 823.9 L1637.7 824.6 L1637 826.1 L1633 826.1 L1632.3 824.6 L1630.8 823.9 L1630.8 819.9 L1632.3 819.2ZM1638.2 817.7 L1642.2 817.7 L1642.9 819.2 L1644.4 819.9 L1644.4 823.9 L1642.9 824.6 L1642.2 826.1 L1638.2 826.1 L1637.5 824.6 L1636 823.9 L1636 819.9 L1637.5 819.2ZM1644.7 817.7 L1648.7 817.7 L1649.4 819.2 L1650.9 819.9 L1650.9 823.9 L1649.4 824.6 L1648.7 826.1 L1644.7 826.1 L1644 824.6 L1642.5 823.9 L1642.5 819.9 L1644 819.2ZM1648.6 811.2 L1652.6 811.2 L1653.3 812.7 L1654.8 813.4 L1654.8 817.4 L1653.3 818.1 L1652.6 819.6 L1648.6 819.6 L1647.9 818.1 L1646.4 817.4 L1646.4 813.4 L1647.9 812.7ZM1620.7 828.1 L1624.7 828.1 L1625.4 829.6 L1626.9 830.3 L1626.9 834.3 L1625.4 835 L1624.7 836.5 L1620.7 836.5 L1620 835 L1618.5 834.3 L1618.5 830.3 L1620 829.6ZM1583.7 825.5 L1587.7 825.5 L1588.4 827 L1589.9 827.7 L1589.9 831.7 L1588.4 832.4 L1587.7 833.9 L1583.7 833.9 L1583 832.4 L1581.5 831.7 L1581.5 827.7 L1583 827ZM1582.4 830.7 L1586.4 830.7 L1587.1 832.2 L1588.6 832.9 L1588.6 836.9 L1587.1 837.6 L1586.4 839.1 L1582.4 839.1 L1581.7 837.6 L1580.2 836.9 L1580.2 832.9 L1581.7 832.2ZM1578.5 834.6 L1582.5 834.6 L1583.2 836.1 L1584.7 836.8 L1584.7 840.8 L1583.2 841.5 L1582.5 843 L1578.5 843 L1577.8 841.5 L1576.3 840.8 L1576.3 836.8 L1577.8 836.1ZM1628.9 834.3 L1632.9 834.3 L1633.6 835.8 L1635.1 836.5 L1635.1 840.5 L1633.6 841.2 L1632.9 842.7 L1628.9 842.7 L1628.2 841.2 L1626.7 840.5 L1626.7 836.5 L1628.2 835.8ZM1702.5 833.9 L1706.5 833.9 L1707.2 835.4 L1708.7 836.1 L1708.7 840.1 L1707.2 840.8 L1706.5 842.3 L1702.5 842.3 L1701.8 840.8 L1700.3 840.1 L1700.3 836.1 L1701.8 835.4ZM1710.7 840.4 L1714.7 840.4 L1715.4 841.9 L1716.9 842.6 L1716.9 846.6 L1715.4 847.3 L1714.7 848.8 L1710.7 848.8 L1710 847.3 L1708.5 846.6 L1708.5 842.6 L1710 841.9ZM1618.8 843.7 L1622.8 843.7 L1623.5 845.2 L1625 845.9 L1625 849.9 L1623.5 850.6 L1622.8 852.1 L1618.8 852.1 L1618.1 850.6 L1616.6 849.9 L1616.6 845.9 L1618.1 845.2ZM1612.3 848.2 L1616.3 848.2 L1617 849.7 L1618.5 850.4 L1618.5 854.4 L1617 855.1 L1616.3 856.6 L1612.3 856.6 L1611.6 855.1 L1610.1 854.4 L1610.1 850.4 L1611.6 849.7ZM1627.9 856.7 L1631.9 856.7 L1632.6 858.2 L1634.1 858.9 L1634.1 862.9 L1632.6 863.6 L1631.9 865.1 L1627.9 865.1 L1627.2 863.6 L1625.7 862.9 L1625.7 858.9 L1627.2 858.2ZM1635.6 858.6 L1639.6 858.6 L1640.3 860.1 L1641.8 860.8 L1641.8 864.8 L1640.3 865.5 L1639.6 867 L1635.6 867 L1634.9 865.5 L1633.4 864.8 L1633.4 860.8 L1634.9 860.1ZM1631.8 857.3 L1635.8 857.3 L1636.5 858.8 L1638 859.5 L1638 863.5 L1636.5 864.2 L1635.8 865.7 L1631.8 865.7 L1631.1 864.2 L1629.6 863.5 L1629.6 859.5 L1631.1 858.8ZM1712.2 859.3 L1716.2 859.3 L1716.9 860.8 L1718.4 861.5 L1718.4 865.5 L1716.9 866.2 L1716.2 867.7 L1712.2 867.7 L1711.5 866.2 L1710 865.5 L1710 861.5 L1711.5 860.8ZM1718.7 858 L1722.7 858 L1723.4 859.5 L1724.9 860.2 L1724.9 864.2 L1723.4 864.9 L1722.7 866.4 L1718.7 866.4 L1718 864.9 L1716.5 864.2 L1716.5 860.2 L1718 859.5ZM1714.8 864.4 L1718.8 864.4 L1719.5 865.9 L1721 866.6 L1721 870.6 L1719.5 871.3 L1718.8 872.8 L1714.8 872.8 L1714.1 871.3 L1712.6 870.6 L1712.6 866.6 L1714.1 865.9ZM1590.2 867 L1594.2 867 L1594.9 868.5 L1596.4 869.2 L1596.4 873.2 L1594.9 873.9 L1594.2 875.4 L1590.2 875.4 L1589.5 873.9 L1588 873.2 L1588 869.2 L1589.5 868.5ZM1595.4 867 L1599.4 867 L1600.1 868.5 L1601.6 869.2 L1601.6 873.2 L1600.1 873.9 L1599.4 875.4 L1595.4 875.4 L1594.7 873.9 L1593.2 873.2 L1593.2 869.2 L1594.7 868.5ZM1561 874.8 L1565 874.8 L1565.7 876.3 L1567.2 877 L1567.2 881 L1565.7 881.7 L1565 883.2 L1561 883.2 L1560.3 881.7 L1558.8 881 L1558.8 877 L1560.3 876.3ZM1555.2 881.3 L1559.2 881.3 L1559.9 882.8 L1561.4 883.5 L1561.4 887.5 L1559.9 888.2 L1559.2 889.7 L1555.2 889.7 L1554.5 888.2 L1553 887.5 L1553 883.5 L1554.5 882.8ZM1618.8 872.9 L1622.8 872.9 L1623.5 874.4 L1625 875.1 L1625 879.1 L1623.5 879.8 L1622.8 881.3 L1618.8 881.3 L1618.1 879.8 L1616.6 879.1 L1616.6 875.1 L1618.1 874.4ZM1659.7 874.8 L1663.7 874.8 L1664.4 876.3 L1665.9 877 L1665.9 881 L1664.4 881.7 L1663.7 883.2 L1659.7 883.2 L1659 881.7 L1657.5 881 L1657.5 877 L1659 876.3ZM1734.9 870.9 L1738.9 870.9 L1739.6 872.4 L1741.1 873.1 L1741.1 877.1 L1739.6 877.8 L1738.9 879.3 L1734.9 879.3 L1734.2 877.8 L1732.7 877.1 L1732.7 873.1 L1734.2 872.4ZM1675.9 874.8 L1679.9 874.8 L1680.6 876.3 L1682.1 877 L1682.1 881 L1680.6 881.7 L1679.9 883.2 L1675.9 883.2 L1675.2 881.7 L1673.7 881 L1673.7 877 L1675.2 876.3ZM1675.9 880 L1679.9 880 L1680.6 881.5 L1682.1 882.2 L1682.1 886.2 L1680.6 886.9 L1679.9 888.4 L1675.9 888.4 L1675.2 886.9 L1673.7 886.2 L1673.7 882.2 L1675.2 881.5ZM1675.9 885.2 L1679.9 885.2 L1680.6 886.7 L1682.1 887.4 L1682.1 891.4 L1680.6 892.1 L1679.9 893.6 L1675.9 893.6 L1675.2 892.1 L1673.7 891.4 L1673.7 887.4 L1675.2 886.7ZM1692.1 870.9 L1696.1 870.9 L1696.8 872.4 L1698.3 873.1 L1698.3 877.1 L1696.8 877.8 L1696.1 879.3 L1692.1 879.3 L1691.4 877.8 L1689.9 877.1 L1689.9 873.1 L1691.4 872.4ZM1692.8 874.8 L1696.8 874.8 L1697.5 876.3 L1699 877 L1699 881 L1697.5 881.7 L1696.8 883.2 L1692.8 883.2 L1692.1 881.7 L1690.6 881 L1690.6 877 L1692.1 876.3ZM1712.6 879.1 L1716.6 879.1 L1717.3 880.6 L1718.8 881.3 L1718.8 885.3 L1717.3 886 L1716.6 887.5 L1712.6 887.5 L1711.9 886 L1710.4 885.3 L1710.4 881.3 L1711.9 880.6ZM1596.7 878.7 L1600.7 878.7 L1601.4 880.2 L1602.9 880.9 L1602.9 884.9 L1601.4 885.6 L1600.7 887.1 L1596.7 887.1 L1596 885.6 L1594.5 884.9 L1594.5 880.9 L1596 880.2ZM1598 885.2 L1602 885.2 L1602.7 886.7 L1604.2 887.4 L1604.2 891.4 L1602.7 892.1 L1602 893.6 L1598 893.6 L1597.3 892.1 L1595.8 891.4 L1595.8 887.4 L1597.3 886.7ZM1605.8 878.7 L1609.8 878.7 L1610.5 880.2 L1612 880.9 L1612 884.9 L1610.5 885.6 L1609.8 887.1 L1605.8 887.1 L1605.1 885.6 L1603.6 884.9 L1603.6 880.9 L1605.1 880.2ZM1609.7 882.6 L1613.7 882.6 L1614.4 884.1 L1615.9 884.8 L1615.9 888.8 L1614.4 889.5 L1613.7 891 L1609.7 891 L1609 889.5 L1607.5 888.8 L1607.5 884.8 L1609 884.1ZM1611 885.2 L1615 885.2 L1615.7 886.7 L1617.2 887.4 L1617.2 891.4 L1615.7 892.1 L1615 893.6 L1611 893.6 L1610.3 892.1 L1608.8 891.4 L1608.8 887.4 L1610.3 886.7ZM1626.6 879.4 L1630.6 879.4 L1631.3 880.9 L1632.8 881.6 L1632.8 885.6 L1631.3 886.3 L1630.6 887.8 L1626.6 887.8 L1625.9 886.3 L1624.4 885.6 L1624.4 881.6 L1625.9 880.9ZM1606.4 891.7 L1610.4 891.7 L1611.1 893.2 L1612.6 893.9 L1612.6 897.9 L1611.1 898.6 L1610.4 900.1 L1606.4 900.1 L1605.7 898.6 L1604.2 897.9 L1604.2 893.9 L1605.7 893.2ZM1635.3 889.1 L1639.3 889.1 L1640 890.6 L1641.5 891.3 L1641.5 895.3 L1640 896 L1639.3 897.5 L1635.3 897.5 L1634.6 896 L1633.1 895.3 L1633.1 891.3 L1634.6 890.6ZM1653.2 889.1 L1657.2 889.1 L1657.9 890.6 L1659.4 891.3 L1659.4 895.3 L1657.9 896 L1657.2 897.5 L1653.2 897.5 L1652.5 896 L1651 895.3 L1651 891.3 L1652.5 890.6ZM1663.6 884.6 L1667.6 884.6 L1668.3 886.1 L1669.8 886.8 L1669.8 890.8 L1668.3 891.5 L1667.6 893 L1663.6 893 L1662.9 891.5 L1661.4 890.8 L1661.4 886.8 L1662.9 886.1ZM1663.6 890.4 L1667.6 890.4 L1668.3 891.9 L1669.8 892.6 L1669.8 896.6 L1668.3 897.3 L1667.6 898.8 L1663.6 898.8 L1662.9 897.3 L1661.4 896.6 L1661.4 892.6 L1662.9 891.9ZM1663.6 894.3 L1667.6 894.3 L1668.3 895.8 L1669.8 896.5 L1669.8 900.5 L1668.3 901.2 L1667.6 902.7 L1663.6 902.7 L1662.9 901.2 L1661.4 900.5 L1661.4 896.5 L1662.9 895.8ZM1696.7 891.1 L1700.7 891.1 L1701.4 892.6 L1702.9 893.3 L1702.9 897.3 L1701.4 898 L1700.7 899.5 L1696.7 899.5 L1696 898 L1694.5 897.3 L1694.5 893.3 L1696 892.6ZM1703.1 893.6 L1707.1 893.6 L1707.8 895.1 L1709.3 895.8 L1709.3 899.8 L1707.8 900.5 L1707.1 902 L1703.1 902 L1702.4 900.5 L1700.9 899.8 L1700.9 895.8 L1702.4 895.1ZM1716.1 893 L1720.1 893 L1720.8 894.5 L1722.3 895.2 L1722.3 899.2 L1720.8 899.9 L1720.1 901.4 L1716.1 901.4 L1715.4 899.9 L1713.9 899.2 L1713.9 895.2 L1715.4 894.5ZM1717.4 896.9 L1721.4 896.9 L1722.1 898.4 L1723.6 899.1 L1723.6 903.1 L1722.1 903.8 L1721.4 905.3 L1717.4 905.3 L1716.7 903.8 L1715.2 903.1 L1715.2 899.1 L1716.7 898.4ZM1553.9 896.9 L1557.9 896.9 L1558.6 898.4 L1560.1 899.1 L1560.1 903.1 L1558.6 903.8 L1557.9 905.3 L1553.9 905.3 L1553.2 903.8 L1551.7 903.1 L1551.7 899.1 L1553.2 898.4ZM1555.2 903.4 L1559.2 903.4 L1559.9 904.9 L1561.4 905.6 L1561.4 909.6 L1559.9 910.3 L1559.2 911.8 L1555.2 911.8 L1554.5 910.3 L1553 909.6 L1553 905.6 L1554.5 904.9ZM1560.4 893 L1564.4 893 L1565.1 894.5 L1566.6 895.2 L1566.6 899.2 L1565.1 899.9 L1564.4 901.4 L1560.4 901.4 L1559.7 899.9 L1558.2 899.2 L1558.2 895.2 L1559.7 894.5ZM1564.3 898.2 L1568.3 898.2 L1569 899.7 L1570.5 900.4 L1570.5 904.4 L1569 905.1 L1568.3 906.6 L1564.3 906.6 L1563.6 905.1 L1562.1 904.4 L1562.1 900.4 L1563.6 899.7ZM1640.8 896.9 L1644.8 896.9 L1645.5 898.4 L1647 899.1 L1647 903.1 L1645.5 903.8 L1644.8 905.3 L1640.8 905.3 L1640.1 903.8 L1638.6 903.1 L1638.6 899.1 L1640.1 898.4ZM1635.6 901.4 L1639.6 901.4 L1640.3 902.9 L1641.8 903.6 L1641.8 907.6 L1640.3 908.3 L1639.6 909.8 L1635.6 909.8 L1634.9 908.3 L1633.4 907.6 L1633.4 903.6 L1634.9 902.9ZM1616.2 903.4 L1620.2 903.4 L1620.9 904.9 L1622.4 905.6 L1622.4 909.6 L1620.9 910.3 L1620.2 911.8 L1616.2 911.8 L1615.5 910.3 L1614 909.6 L1614 905.6 L1615.5 904.9ZM1614.9 908.6 L1618.9 908.6 L1619.6 910.1 L1621.1 910.8 L1621.1 914.8 L1619.6 915.5 L1618.9 917 L1614.9 917 L1614.2 915.5 L1612.7 914.8 L1612.7 910.8 L1614.2 910.1ZM1655.4 905.7 L1659.4 905.7 L1660.1 907.2 L1661.6 907.9 L1661.6 911.9 L1660.1 912.6 L1659.4 914.1 L1655.4 914.1 L1654.7 912.6 L1653.2 911.9 L1653.2 907.9 L1654.7 907.2ZM1710.9 906 L1714.9 906 L1715.6 907.5 L1717.1 908.2 L1717.1 912.2 L1715.6 912.9 L1714.9 914.4 L1710.9 914.4 L1710.2 912.9 L1708.7 912.2 L1708.7 908.2 L1710.2 907.5ZM1716.1 906 L1720.1 906 L1720.8 907.5 L1722.3 908.2 L1722.3 912.2 L1720.8 912.9 L1720.1 914.4 L1716.1 914.4 L1715.4 912.9 L1713.9 912.2 L1713.9 908.2 L1715.4 907.5ZM1722.6 903.4 L1726.6 903.4 L1727.3 904.9 L1728.8 905.6 L1728.8 909.6 L1727.3 910.3 L1726.6 911.8 L1722.6 911.8 L1721.9 910.3 L1720.4 909.6 L1720.4 905.6 L1721.9 904.9ZM1725.2 907.3 L1729.2 907.3 L1729.9 908.8 L1731.4 909.5 L1731.4 913.5 L1729.9 914.2 L1729.2 915.7 L1725.2 915.7 L1724.5 914.2 L1723 913.5 L1723 909.5 L1724.5 908.8ZM1720 909.9 L1724 909.9 L1724.7 911.4 L1726.2 912.1 L1726.2 916.1 L1724.7 916.8 L1724 918.3 L1720 918.3 L1719.3 916.8 L1717.8 916.1 L1717.8 912.1 L1719.3 911.4ZM1683.7 911.8 L1687.7 911.8 L1688.4 913.3 L1689.9 914 L1689.9 918 L1688.4 918.7 L1687.7 920.2 L1683.7 920.2 L1683 918.7 L1681.5 918 L1681.5 914 L1683 913.3ZM1647.3 916.1 L1651.3 916.1 L1652 917.6 L1653.5 918.3 L1653.5 922.3 L1652 923 L1651.3 924.5 L1647.3 924.5 L1646.6 923 L1645.1 922.3 L1645.1 918.3 L1646.6 917.6ZM1661.6 916.4 L1665.6 916.4 L1666.3 917.9 L1667.8 918.6 L1667.8 922.6 L1666.3 923.3 L1665.6 924.8 L1661.6 924.8 L1660.9 923.3 L1659.4 922.6 L1659.4 918.6 L1660.9 917.9ZM1665.5 912.5 L1669.5 912.5 L1670.2 914 L1671.7 914.7 L1671.7 918.7 L1670.2 919.4 L1669.5 920.9 L1665.5 920.9 L1664.8 919.4 L1663.3 918.7 L1663.3 914.7 L1664.8 914ZM1669.4 912.5 L1673.4 912.5 L1674.1 914 L1675.6 914.7 L1675.6 918.7 L1674.1 919.4 L1673.4 920.9 L1669.4 920.9 L1668.7 919.4 L1667.2 918.7 L1667.2 914.7 L1668.7 914ZM1666.8 920.3 L1670.8 920.3 L1671.5 921.8 L1673 922.5 L1673 926.5 L1671.5 927.2 L1670.8 928.7 L1666.8 928.7 L1666.1 927.2 L1664.6 926.5 L1664.6 922.5 L1666.1 921.8ZM1664.2 919 L1668.2 919 L1668.9 920.5 L1670.4 921.2 L1670.4 925.2 L1668.9 925.9 L1668.2 927.4 L1664.2 927.4 L1663.5 925.9 L1662 925.2 L1662 921.2 L1663.5 920.5ZM1670.7 916.4 L1674.7 916.4 L1675.4 917.9 L1676.9 918.6 L1676.9 922.6 L1675.4 923.3 L1674.7 924.8 L1670.7 924.8 L1670 923.3 L1668.5 922.6 L1668.5 918.6 L1670 917.9ZM1734.9 920.3 L1738.9 920.3 L1739.6 921.8 L1741.1 922.5 L1741.1 926.5 L1739.6 927.2 L1738.9 928.7 L1734.9 928.7 L1734.2 927.2 L1732.7 926.5 L1732.7 922.5 L1734.2 921.8Z" fill="#a5cd3f"/></g>
<g><path d="M142.4 1097 H155.4 V1245.8 H142.4 M142.4 1216 H155.4 M142.4 1186.3 H155.4 M142.4 1156.5 H155.4 M142.4 1126.8 H155.4 M163.8 1265.9 V1251.9 H366.1 V1265.9 M197.5 1251.9 V1265.9 M231.2 1251.9 V1265.9 M265 1251.9 V1265.9 M298.7 1251.9 V1265.9 M332.4 1251.9 V1265.9" fill="none" stroke="#000" stroke-width="2.4"/><text class="t" transform="translate(125.9 1246.5) rotate(-90)" font-size="18.5" text-anchor="middle">0</text><text class="t" transform="translate(125.9 1187) rotate(-90)" font-size="18.5" text-anchor="middle">0.4</text><text class="t" transform="translate(125.9 1127.5) rotate(-90)" font-size="18.5" text-anchor="middle">0.8</text><text class="t" x="162.3" y="1299.9" font-size="18.5" text-anchor="middle">0</text><text class="t" x="229.7" y="1299.9" font-size="18.5" text-anchor="middle">100000</text><text class="t" x="330.9" y="1299.9" font-size="18.5" text-anchor="middle">250000</text><text class="t" x="264" y="1060.9" font-size="23" text-anchor="middle">BC</text><path d="M163 1101.9 L166.9 1105.2 L166.9 1123.3 L168.8 1124.6 L168.2 1133.7 L169.5 1149.3 L170.8 1155.8 L172.7 1163.6 L170.8 1167.5 L172.1 1175.3 L174.7 1177.9 L173.4 1183 L181.2 1185.6 L183.1 1188.2 L178.6 1192.1 L177.3 1194.7 L182.4 1197.3 L187 1199.9 L182.4 1203.8 L176 1202.5 L170.8 1203.8 L172.1 1209 L178.6 1210.3 L181.2 1212.3 L177.3 1215.5 L170.8 1216.8 L172.1 1223.3 L169.5 1227.2 L174.7 1229.8 L177.3 1233.7 L190.2 1233.7 L193.5 1236.9 L187.6 1241.5 L182.4 1244.1 L174.7 1244.7 L169.5 1241.5 L163 1236.3 L160.4 1229.8 L159.7 1216.8 L159.7 1190.8 L159.7 1164.9 L159.7 1138.9 L159.7 1113 L160.4 1103.9Z" fill="#a5cd3f"/><path d="M191.5 1142.5 L195.5 1142.5 L196.2 1144 L197.7 1144.7 L197.7 1148.7 L196.2 1149.4 L195.5 1150.9 L191.5 1150.9 L190.8 1149.4 L189.3 1148.7 L189.3 1144.7 L190.8 1144ZM199.9 1142.5 L203.9 1142.5 L204.6 1144 L206.1 1144.7 L206.1 1148.7 L204.6 1149.4 L203.9 1150.9 L199.9 1150.9 L199.2 1149.4 L197.7 1148.7 L197.7 1144.7 L199.2 1144ZM205.8 1159 L209.8 1159 L210.5 1160.5 L212 1161.2 L212 1165.2 L210.5 1165.9 L209.8 1167.4 L205.8 1167.4 L205.1 1165.9 L203.6 1165.2 L203.6 1161.2 L205.1 1160.5ZM181.1 1169.1 L185.1 1169.1 L185.8 1170.6 L187.3 1171.3 L187.3 1175.3 L185.8 1176 L185.1 1177.5 L181.1 1177.5 L180.4 1176 L178.9 1175.3 L178.9 1171.3 L180.4 1170.6ZM193.4 1169.1 L197.4 1169.1 L198.1 1170.6 L199.6 1171.3 L199.6 1175.3 L198.1 1176 L197.4 1177.5 L193.4 1177.5 L192.7 1176 L191.2 1175.3 L191.2 1171.3 L192.7 1170.6ZM199.7 1191.6 L203.7 1191.6 L204.4 1193.1 L205.9 1193.8 L205.9 1197.8 L204.4 1198.5 L203.7 1200 L199.7 1200 L199 1198.5 L197.5 1197.8 L197.5 1193.8 L199 1193.1ZM191.5 1203.9 L195.5 1203.9 L196.2 1205.4 L197.7 1206.1 L197.7 1210.1 L196.2 1210.8 L195.5 1212.3 L191.5 1212.3 L190.8 1210.8 L189.3 1210.1 L189.3 1206.1 L190.8 1205.4ZM199.9 1203.9 L203.9 1203.9 L204.6 1205.4 L206.1 1206.1 L206.1 1210.1 L204.6 1210.8 L203.9 1212.3 L199.9 1212.3 L199.2 1210.8 L197.7 1210.1 L197.7 1206.1 L199.2 1205.4ZM220 1207.8 L224 1207.8 L224.7 1209.3 L226.2 1210 L226.2 1214 L224.7 1214.7 L224 1216.2 L220 1216.2 L219.3 1214.7 L217.8 1214 L217.8 1210 L219.3 1209.3ZM252.6 1207.8 L256.6 1207.8 L257.3 1209.3 L258.8 1210 L258.8 1214 L257.3 1214.7 L256.6 1216.2 L252.6 1216.2 L251.9 1214.7 L250.4 1214 L250.4 1210 L251.9 1209.3ZM195.8 1222.1 L199.8 1222.1 L200.5 1223.6 L202 1224.3 L202 1228.3 L200.5 1229 L199.8 1230.5 L195.8 1230.5 L195.1 1229 L193.6 1228.3 L193.6 1224.3 L195.1 1223.6ZM244.3 1220.1 L248.3 1220.1 L249 1221.6 L250.5 1222.3 L250.5 1226.3 L249 1227 L248.3 1228.5 L244.3 1228.5 L243.6 1227 L242.1 1226.3 L242.1 1222.3 L243.6 1221.6ZM340.5 1187.3 L344.5 1187.3 L345.2 1188.8 L346.7 1189.5 L346.7 1193.5 L345.2 1194.2 L344.5 1195.7 L340.5 1195.7 L339.8 1194.2 L338.3 1193.5 L338.3 1189.5 L339.8 1188.8Z" fill="#a5cd3f"/></g>
<g><path d="M489.6 1097 H502.6 V1245.8 H489.6 M489.6 1216 H502.6 M489.6 1186.3 H502.6 M489.6 1156.5 H502.6 M489.6 1126.8 H502.6 M511 1265.9 V1251.9 H713.3 V1265.9 M551.5 1251.9 V1265.9 M591.9 1251.9 V1265.9 M632.4 1251.9 V1265.9 M672.8 1251.9 V1265.9" fill="none" stroke="#000" stroke-width="2.4"/><text class="t" transform="translate(473.1 1246.5) rotate(-90)" font-size="18.5" text-anchor="middle">0</text><text class="t" transform="translate(473.1 1187) rotate(-90)" font-size="18.5" text-anchor="middle">0.4</text><text class="t" transform="translate(473.1 1127.5) rotate(-90)" font-size="18.5" text-anchor="middle">0.8</text><text class="t" x="509.5" y="1299.9" font-size="18.5" text-anchor="middle">0.00</text><text class="t" x="590.4" y="1299.9" font-size="18.5" text-anchor="middle">0.02</text><text class="t" x="671.3" y="1299.9" font-size="18.5" text-anchor="middle">0.04</text><text class="t" x="610.9" y="1060.9" font-size="23" text-anchor="middle">nBC</text><path d="M512.6 1113 L517.8 1111.7 L521.7 1114.3 L517.8 1119.4 L520.4 1124.6 L521.7 1128.5 L528.2 1127.2 L532 1131.1 L533.3 1138.9 L537.2 1142.8 L542.4 1145.4 L547.6 1149.3 L547.6 1155.8 L542.4 1158.4 L535.9 1159.7 L529.4 1162.3 L535.9 1164.9 L543.7 1168.8 L541.1 1172.7 L534.6 1172.7 L532 1176.6 L538.5 1177.9 L543.7 1183 L543.7 1186.9 L538.5 1185.6 L530.7 1183 L525.6 1183 L524.3 1189.5 L528.2 1194.7 L529.4 1203.8 L528.2 1210.3 L523 1215.5 L519.1 1219.4 L515.2 1224.6 L515.2 1231.1 L519.7 1240.8 L515.2 1244.1 L508.7 1242.8 L506.7 1236.3 L506.7 1223.3 L508 1216.8 L506.7 1203.8 L507.4 1193.4 L510 1188.2 L507.4 1177.9 L507.4 1170.1 L510 1162.3 L508.7 1154.5 L506.7 1146.7 L508 1136.3 L508.7 1125.9 L508.7 1119.4Z" fill="#a5cd3f"/><path d="M524.2 1103.3 L528.2 1103.3 L528.9 1104.8 L530.4 1105.5 L530.4 1109.5 L528.9 1110.2 L528.2 1111.7 L524.2 1111.7 L523.5 1110.2 L522 1109.5 L522 1105.5 L523.5 1104.8ZM532.6 1107.5 L536.6 1107.5 L537.3 1109 L538.8 1109.7 L538.8 1113.7 L537.3 1114.4 L536.6 1115.9 L532.6 1115.9 L531.9 1114.4 L530.4 1113.7 L530.4 1109.7 L531.9 1109ZM528.5 1115.9 L532.5 1115.9 L533.2 1117.4 L534.7 1118.1 L534.7 1122.1 L533.2 1122.8 L532.5 1124.3 L528.5 1124.3 L527.8 1122.8 L526.3 1122.1 L526.3 1118.1 L527.8 1117.4ZM554.7 1121.7 L558.7 1121.7 L559.4 1123.2 L560.9 1123.9 L560.9 1127.9 L559.4 1128.6 L558.7 1130.1 L554.7 1130.1 L554 1128.6 L552.5 1127.9 L552.5 1123.9 L554 1123.2ZM563.1 1120.4 L567.1 1120.4 L567.8 1121.9 L569.3 1122.6 L569.3 1126.6 L567.8 1127.3 L567.1 1128.8 L563.1 1128.8 L562.4 1127.3 L560.9 1126.6 L560.9 1122.6 L562.4 1121.9ZM556.7 1128.2 L560.7 1128.2 L561.4 1129.7 L562.9 1130.4 L562.9 1134.4 L561.4 1135.1 L560.7 1136.6 L556.7 1136.6 L556 1135.1 L554.5 1134.4 L554.5 1130.4 L556 1129.7ZM589.8 1111.6 L593.8 1111.6 L594.5 1113.1 L596 1113.8 L596 1117.8 L594.5 1118.5 L593.8 1120 L589.8 1120 L589.1 1118.5 L587.6 1117.8 L587.6 1113.8 L589.1 1113.1ZM595.9 1120.1 L599.9 1120.1 L600.6 1121.6 L602.1 1122.3 L602.1 1126.3 L600.6 1127 L599.9 1128.5 L595.9 1128.5 L595.2 1127 L593.7 1126.3 L593.7 1122.3 L595.2 1121.6ZM614.2 1101.6 L618.2 1101.6 L618.9 1103.1 L620.4 1103.8 L620.4 1107.8 L618.9 1108.5 L618.2 1110 L614.2 1110 L613.5 1108.5 L612 1107.8 L612 1103.8 L613.5 1103.1ZM585.6 1130.2 L589.6 1130.2 L590.3 1131.7 L591.8 1132.4 L591.8 1136.4 L590.3 1137.1 L589.6 1138.6 L585.6 1138.6 L584.9 1137.1 L583.4 1136.4 L583.4 1132.4 L584.9 1131.7ZM612.1 1130.2 L616.1 1130.2 L616.8 1131.7 L618.3 1132.4 L618.3 1136.4 L616.8 1137.1 L616.1 1138.6 L612.1 1138.6 L611.4 1137.1 L609.9 1136.4 L609.9 1132.4 L611.4 1131.7ZM544.3 1135.4 L548.3 1135.4 L549 1136.9 L550.5 1137.6 L550.5 1141.6 L549 1142.3 L548.3 1143.8 L544.3 1143.8 L543.6 1142.3 L542.1 1141.6 L542.1 1137.6 L543.6 1136.9ZM549.5 1134.1 L553.5 1134.1 L554.2 1135.6 L555.7 1136.3 L555.7 1140.3 L554.2 1141 L553.5 1142.5 L549.5 1142.5 L548.8 1141 L547.3 1140.3 L547.3 1136.3 L548.8 1135.6ZM554.7 1140.6 L558.7 1140.6 L559.4 1142.1 L560.9 1142.8 L560.9 1146.8 L559.4 1147.5 L558.7 1149 L554.7 1149 L554 1147.5 L552.5 1146.8 L552.5 1142.8 L554 1142.1ZM595.9 1142.5 L599.9 1142.5 L600.6 1144 L602.1 1144.7 L602.1 1148.7 L600.6 1149.4 L599.9 1150.9 L595.9 1150.9 L595.2 1149.4 L593.7 1148.7 L593.7 1144.7 L595.2 1144ZM626.5 1138.4 L630.5 1138.4 L631.2 1139.9 L632.7 1140.6 L632.7 1144.6 L631.2 1145.3 L630.5 1146.8 L626.5 1146.8 L625.8 1145.3 L624.3 1144.6 L624.3 1140.6 L625.8 1139.9ZM634.5 1150.7 L638.5 1150.7 L639.2 1152.2 L640.7 1152.9 L640.7 1156.9 L639.2 1157.6 L638.5 1159.1 L634.5 1159.1 L633.8 1157.6 L632.3 1156.9 L632.3 1152.9 L633.8 1152.2ZM603.8 1157 L607.8 1157 L608.5 1158.5 L610 1159.2 L610 1163.2 L608.5 1163.9 L607.8 1165.4 L603.8 1165.4 L603.1 1163.9 L601.6 1163.2 L601.6 1159.2 L603.1 1158.5ZM693.6 1136.3 L697.6 1136.3 L698.3 1137.8 L699.8 1138.5 L699.8 1142.5 L698.3 1143.2 L697.6 1144.7 L693.6 1144.7 L692.9 1143.2 L691.4 1142.5 L691.4 1138.5 L692.9 1137.8ZM704 1142.5 L708 1142.5 L708.7 1144 L710.2 1144.7 L710.2 1148.7 L708.7 1149.4 L708 1150.9 L704 1150.9 L703.3 1149.4 L701.8 1148.7 L701.8 1144.7 L703.3 1144ZM554.7 1175 L558.7 1175 L559.4 1176.5 L560.9 1177.2 L560.9 1181.2 L559.4 1181.9 L558.7 1183.4 L554.7 1183.4 L554 1181.9 L552.5 1181.2 L552.5 1177.2 L554 1176.5ZM559.9 1176.3 L563.9 1176.3 L564.6 1177.8 L566.1 1178.5 L566.1 1182.5 L564.6 1183.2 L563.9 1184.7 L559.9 1184.7 L559.2 1183.2 L557.7 1182.5 L557.7 1178.5 L559.2 1177.8ZM544.3 1185.3 L548.3 1185.3 L549 1186.8 L550.5 1187.5 L550.5 1191.5 L549 1192.2 L548.3 1193.7 L544.3 1193.7 L543.6 1192.2 L542.1 1191.5 L542.1 1187.5 L543.6 1186.8ZM552.1 1187.9 L556.1 1187.9 L556.8 1189.4 L558.3 1190.1 L558.3 1194.1 L556.8 1194.8 L556.1 1196.3 L552.1 1196.3 L551.4 1194.8 L549.9 1194.1 L549.9 1190.1 L551.4 1189.4ZM558.6 1184 L562.6 1184 L563.3 1185.5 L564.8 1186.2 L564.8 1190.2 L563.3 1190.9 L562.6 1192.4 L558.6 1192.4 L557.9 1190.9 L556.4 1190.2 L556.4 1186.2 L557.9 1185.5ZM589.8 1181.1 L593.8 1181.1 L594.5 1182.6 L596 1183.3 L596 1187.3 L594.5 1188 L593.8 1189.5 L589.8 1189.5 L589.1 1188 L587.6 1187.3 L587.6 1183.3 L589.1 1182.6ZM561.2 1211.7 L565.2 1211.7 L565.9 1213.2 L567.4 1213.9 L567.4 1217.9 L565.9 1218.6 L565.2 1220.1 L561.2 1220.1 L560.5 1218.6 L559 1217.9 L559 1213.9 L560.5 1213.2ZM575.5 1210 L579.5 1210 L580.2 1211.5 L581.7 1212.2 L581.7 1216.2 L580.2 1216.9 L579.5 1218.4 L575.5 1218.4 L574.8 1216.9 L573.3 1216.2 L573.3 1212.2 L574.8 1211.5ZM528.5 1215.8 L532.5 1215.8 L533.2 1217.3 L534.7 1218 L534.7 1222 L533.2 1222.7 L532.5 1224.2 L528.5 1224.2 L527.8 1222.7 L526.3 1222 L526.3 1218 L527.8 1217.3ZM554.7 1219.1 L558.7 1219.1 L559.4 1220.6 L560.9 1221.3 L560.9 1225.3 L559.4 1226 L558.7 1227.5 L554.7 1227.5 L554 1226 L552.5 1225.3 L552.5 1221.3 L554 1220.6ZM548.2 1226.2 L552.2 1226.2 L552.9 1227.7 L554.4 1228.4 L554.4 1232.4 L552.9 1233.1 L552.2 1234.6 L548.2 1234.6 L547.5 1233.1 L546 1232.4 L546 1228.4 L547.5 1227.7ZM556 1226.2 L560 1226.2 L560.7 1227.7 L562.2 1228.4 L562.2 1232.4 L560.7 1233.1 L560 1234.6 L556 1234.6 L555.3 1233.1 L553.8 1232.4 L553.8 1228.4 L555.3 1227.7ZM573.3 1220.1 L577.3 1220.1 L578 1221.6 L579.5 1222.3 L579.5 1226.3 L578 1227 L577.3 1228.5 L573.3 1228.5 L572.6 1227 L571.1 1226.3 L571.1 1222.3 L572.6 1221.6ZM583.3 1226.2 L587.3 1226.2 L588 1227.7 L589.5 1228.4 L589.5 1232.4 L588 1233.1 L587.3 1234.6 L583.3 1234.6 L582.6 1233.1 L581.1 1232.4 L581.1 1228.4 L582.6 1227.7ZM589.8 1226.2 L593.8 1226.2 L594.5 1227.7 L596 1228.4 L596 1232.4 L594.5 1233.1 L593.8 1234.6 L589.8 1234.6 L589.1 1233.1 L587.6 1232.4 L587.6 1228.4 L589.1 1227.7ZM607.9 1220.1 L611.9 1220.1 L612.6 1221.6 L614.1 1222.3 L614.1 1226.3 L612.6 1227 L611.9 1228.5 L607.9 1228.5 L607.2 1227 L605.7 1226.3 L605.7 1222.3 L607.2 1221.6ZM630.6 1225.6 L634.6 1225.6 L635.3 1227.1 L636.8 1227.8 L636.8 1231.8 L635.3 1232.5 L634.6 1234 L630.6 1234 L629.9 1232.5 L628.4 1231.8 L628.4 1227.8 L629.9 1227.1ZM637.1 1222.3 L641.1 1222.3 L641.8 1223.8 L643.3 1224.5 L643.3 1228.5 L641.8 1229.2 L641.1 1230.7 L637.1 1230.7 L636.4 1229.2 L634.9 1228.5 L634.9 1224.5 L636.4 1223.8ZM524.2 1228.2 L528.2 1228.2 L528.9 1229.7 L530.4 1230.4 L530.4 1234.4 L528.9 1235.1 L528.2 1236.6 L524.2 1236.6 L523.5 1235.1 L522 1234.4 L522 1230.4 L523.5 1229.7Z" fill="#a5cd3f"/></g>
<g><path d="M836.8 1097 H849.8 V1245.8 H836.8 M836.8 1216 H849.8 M836.8 1186.3 H849.8 M836.8 1156.5 H849.8 M836.8 1126.8 H849.8 M858.2 1265.9 V1251.9 H1060.5 V1265.9 M925.6 1251.9 V1265.9 M993.1 1251.9 V1265.9" fill="none" stroke="#000" stroke-width="2.4"/><text class="t" transform="translate(820.3 1246.5) rotate(-90)" font-size="18.5" text-anchor="middle">0</text><text class="t" transform="translate(820.3 1187) rotate(-90)" font-size="18.5" text-anchor="middle">0.4</text><text class="t" transform="translate(820.3 1127.5) rotate(-90)" font-size="18.5" text-anchor="middle">0.8</text><text class="t" x="856.7" y="1299.9" font-size="18.5" text-anchor="middle">0.000</text><text class="t" x="924.1" y="1299.9" font-size="18.5" text-anchor="middle">0.005</text><text class="t" x="991.6" y="1299.9" font-size="18.5" text-anchor="middle">0.010</text><text class="t" x="1059" y="1299.9" font-size="18.5" text-anchor="middle">0.015</text><text class="t" x="957.7" y="1060.9" font-size="23" text-anchor="middle">Clo</text><path d="M857 1122 L862.2 1120.7 L864.8 1125.9 L867.4 1131.1 L872.6 1132.4 L876.4 1138.9 L881 1144.1 L877.7 1149.3 L873.9 1153.2 L870 1158.4 L867.4 1163.6 L868.7 1168.8 L866.1 1175.3 L868.7 1179.2 L866.1 1185.6 L872.6 1193.4 L872.6 1201.2 L868.7 1206.4 L864.8 1207.7 L866.1 1215.5 L863.5 1220.7 L862.2 1229.8 L860.9 1236.3 L859.6 1242.8 L857 1244.1 L854.4 1240.2 L853.7 1216.8 L853.7 1190.8 L853.7 1164.9 L854.4 1145.4 L855 1132.4 L855.7 1124.6Z" fill="#a5cd3f"/><path d="M863.4 1102.9 L867.4 1102.9 L868.1 1104.4 L869.6 1105.1 L869.6 1109.1 L868.1 1109.8 L867.4 1111.3 L863.4 1111.3 L862.7 1109.8 L861.2 1109.1 L861.2 1105.1 L862.7 1104.4ZM862.8 1110.1 L866.8 1110.1 L867.5 1111.6 L869 1112.3 L869 1116.3 L867.5 1117 L866.8 1118.5 L862.8 1118.5 L862.1 1117 L860.6 1116.3 L860.6 1112.3 L862.1 1111.6ZM858.9 1112.7 L862.9 1112.7 L863.6 1114.2 L865.1 1114.9 L865.1 1118.9 L863.6 1119.6 L862.9 1121.1 L858.9 1121.1 L858.2 1119.6 L856.7 1118.9 L856.7 1114.9 L858.2 1114.2ZM885.7 1107.7 L889.7 1107.7 L890.4 1109.2 L891.9 1109.9 L891.9 1113.9 L890.4 1114.6 L889.7 1116.1 L885.7 1116.1 L885 1114.6 L883.5 1113.9 L883.5 1109.9 L885 1109.2ZM890 1121.7 L894 1121.7 L894.7 1123.2 L896.2 1123.9 L896.2 1127.9 L894.7 1128.6 L894 1130.1 L890 1130.1 L889.3 1128.6 L887.8 1127.9 L887.8 1123.9 L889.3 1123.2ZM886.1 1126.9 L890.1 1126.9 L890.8 1128.4 L892.3 1129.1 L892.3 1133.1 L890.8 1133.8 L890.1 1135.3 L886.1 1135.3 L885.4 1133.8 L883.9 1133.1 L883.9 1129.1 L885.4 1128.4ZM883.5 1128.2 L887.5 1128.2 L888.2 1129.7 L889.7 1130.4 L889.7 1134.4 L888.2 1135.1 L887.5 1136.6 L883.5 1136.6 L882.8 1135.1 L881.3 1134.4 L881.3 1130.4 L882.8 1129.7ZM897.8 1129.5 L901.8 1129.5 L902.5 1131 L904 1131.7 L904 1135.7 L902.5 1136.4 L901.8 1137.9 L897.8 1137.9 L897.1 1136.4 L895.6 1135.7 L895.6 1131.7 L897.1 1131ZM891.3 1136 L895.3 1136 L896 1137.5 L897.5 1138.2 L897.5 1142.2 L896 1142.9 L895.3 1144.4 L891.3 1144.4 L890.6 1142.9 L889.1 1142.2 L889.1 1138.2 L890.6 1137.5ZM896.5 1138.6 L900.5 1138.6 L901.2 1140.1 L902.7 1140.8 L902.7 1144.8 L901.2 1145.5 L900.5 1147 L896.5 1147 L895.8 1145.5 L894.3 1144.8 L894.3 1140.8 L895.8 1140.1ZM897.8 1143.2 L901.8 1143.2 L902.5 1144.7 L904 1145.4 L904 1149.4 L902.5 1150.1 L901.8 1151.6 L897.8 1151.6 L897.1 1150.1 L895.6 1149.4 L895.6 1145.4 L897.1 1144.7ZM908.2 1136.3 L912.2 1136.3 L912.9 1137.8 L914.4 1138.5 L914.4 1142.5 L912.9 1143.2 L912.2 1144.7 L908.2 1144.7 L907.5 1143.2 L906 1142.5 L906 1138.5 L907.5 1137.8ZM922.5 1138.6 L926.5 1138.6 L927.2 1140.1 L928.7 1140.8 L928.7 1144.8 L927.2 1145.5 L926.5 1147 L922.5 1147 L921.8 1145.5 L920.3 1144.8 L920.3 1140.8 L921.8 1140.1ZM928.3 1111.4 L932.3 1111.4 L933 1112.9 L934.5 1113.6 L934.5 1117.6 L933 1118.3 L932.3 1119.8 L928.3 1119.8 L927.6 1118.3 L926.1 1117.6 L926.1 1113.6 L927.6 1112.9ZM932.9 1115.2 L936.9 1115.2 L937.6 1116.7 L939.1 1117.4 L939.1 1121.4 L937.6 1122.1 L936.9 1123.6 L932.9 1123.6 L932.2 1122.1 L930.7 1121.4 L930.7 1117.4 L932.2 1116.7ZM936.8 1119.8 L940.8 1119.8 L941.5 1121.3 L943 1122 L943 1126 L941.5 1126.7 L940.8 1128.2 L936.8 1128.2 L936.1 1126.7 L934.6 1126 L934.6 1122 L936.1 1121.3ZM928.3 1120.4 L932.3 1120.4 L933 1121.9 L934.5 1122.6 L934.5 1126.6 L933 1127.3 L932.3 1128.8 L928.3 1128.8 L927.6 1127.3 L926.1 1126.6 L926.1 1122.6 L927.6 1121.9ZM932.9 1117.8 L936.9 1117.8 L937.6 1119.3 L939.1 1120 L939.1 1124 L937.6 1124.7 L936.9 1126.2 L932.9 1126.2 L932.2 1124.7 L930.7 1124 L930.7 1120 L932.2 1119.3ZM1010.3 1101.6 L1014.3 1101.6 L1015 1103.1 L1016.5 1103.8 L1016.5 1107.8 L1015 1108.5 L1014.3 1110 L1010.3 1110 L1009.6 1108.5 L1008.1 1107.8 L1008.1 1103.8 L1009.6 1103.1ZM1040.8 1136.3 L1044.8 1136.3 L1045.5 1137.8 L1047 1138.5 L1047 1142.5 L1045.5 1143.2 L1044.8 1144.7 L1040.8 1144.7 L1040.1 1143.2 L1038.6 1142.5 L1038.6 1138.5 L1040.1 1137.8ZM890 1164.8 L894 1164.8 L894.7 1166.3 L896.2 1167 L896.2 1171 L894.7 1171.7 L894 1173.2 L890 1173.2 L889.3 1171.7 L887.8 1171 L887.8 1167 L889.3 1166.3ZM875.5 1215.8 L879.5 1215.8 L880.2 1217.3 L881.7 1218 L881.7 1222 L880.2 1222.7 L879.5 1224.2 L875.5 1224.2 L874.8 1222.7 L873.3 1222 L873.3 1218 L874.8 1217.3ZM867.3 1222.3 L871.3 1222.3 L872 1223.8 L873.5 1224.5 L873.5 1228.5 L872 1229.2 L871.3 1230.7 L867.3 1230.7 L866.6 1229.2 L865.1 1228.5 L865.1 1224.5 L866.6 1223.8ZM866.7 1197 L870.7 1197 L871.4 1198.5 L872.9 1199.2 L872.9 1203.2 L871.4 1203.9 L870.7 1205.4 L866.7 1205.4 L866 1203.9 L864.5 1203.2 L864.5 1199.2 L866 1198.5Z" fill="#a5cd3f"/></g>
<g><path d="M1184 1097 H1197 V1245.8 H1184 M1184 1216 H1197 M1184 1186.3 H1197 M1184 1156.5 H1197 M1184 1126.8 H1197 M1205.4 1265.9 V1251.9 H1407.7 V1265.9 M1256 1251.9 V1265.9 M1306.5 1251.9 V1265.9 M1357.1 1251.9 V1265.9" fill="none" stroke="#000" stroke-width="2.4"/><text class="t" transform="translate(1167.5 1246.5) rotate(-90)" font-size="18.5" text-anchor="middle">0</text><text class="t" transform="translate(1167.5 1187) rotate(-90)" font-size="18.5" text-anchor="middle">0.4</text><text class="t" transform="translate(1167.5 1127.5) rotate(-90)" font-size="18.5" text-anchor="middle">0.8</text><text class="t" x="1203.9" y="1299.9" font-size="18.5" text-anchor="middle">0.0</text><text class="t" x="1254.5" y="1299.9" font-size="18.5" text-anchor="middle">0.2</text><text class="t" x="1305" y="1299.9" font-size="18.5" text-anchor="middle">0.4</text><text class="t" x="1355.6" y="1299.9" font-size="18.5" text-anchor="middle">0.6</text><text class="t" x="1406.2" y="1299.9" font-size="18.5" text-anchor="middle">0.8</text><text class="t" x="1304.5" y="1060.9" font-size="23" text-anchor="middle">nClo</text><path d="M1273.8 1129.8 L1282.9 1133.7 L1288 1128.5 L1291.9 1122 L1295.8 1125.9 L1297.1 1132.4 L1293.2 1138.9 L1293.2 1144.1 L1288 1148 L1282.9 1153.2 L1277.7 1158.4 L1276.4 1163.6 L1271.2 1167.5 L1269.9 1172.7 L1271.2 1177.9 L1266 1181.8 L1267.3 1186.9 L1263.4 1190.8 L1263.4 1196 L1256.9 1201.2 L1254.3 1206.4 L1253 1211.6 L1250.4 1216.8 L1246.5 1219.4 L1243.9 1215.5 L1243.9 1207.7 L1242.6 1199.9 L1243.9 1193.4 L1246.5 1186.9 L1245.2 1183 L1240 1179.2 L1242.6 1176.6 L1247.8 1175.3 L1243.9 1171.4 L1242.6 1168.8 L1246.5 1164.9 L1249.1 1159.7 L1246.5 1157.1 L1250.4 1153.2 L1255.6 1148 L1260.8 1144.1 L1264.7 1138.9 L1268.6 1135Z" fill="#a5cd3f"/><path d="M1284.1 1103.6 L1288.1 1103.6 L1288.8 1105.1 L1290.3 1105.8 L1290.3 1109.8 L1288.8 1110.5 L1288.1 1112 L1284.1 1112 L1283.4 1110.5 L1281.9 1109.8 L1281.9 1105.8 L1283.4 1105.1ZM1325 1101.6 L1329 1101.6 L1329.7 1103.1 L1331.2 1103.8 L1331.2 1107.8 L1329.7 1108.5 L1329 1110 L1325 1110 L1324.3 1108.5 L1322.8 1107.8 L1322.8 1103.8 L1324.3 1103.1ZM1302.9 1109.4 L1306.9 1109.4 L1307.6 1110.9 L1309.1 1111.6 L1309.1 1115.6 L1307.6 1116.3 L1306.9 1117.8 L1302.9 1117.8 L1302.2 1116.3 L1300.7 1115.6 L1300.7 1111.6 L1302.2 1110.9ZM1318.5 1108.8 L1322.5 1108.8 L1323.2 1110.3 L1324.7 1111 L1324.7 1115 L1323.2 1115.7 L1322.5 1117.2 L1318.5 1117.2 L1317.8 1115.7 L1316.3 1115 L1316.3 1111 L1317.8 1110.3ZM1315.9 1112.7 L1319.9 1112.7 L1320.6 1114.2 L1322.1 1114.9 L1322.1 1118.9 L1320.6 1119.6 L1319.9 1121.1 L1315.9 1121.1 L1315.2 1119.6 L1313.7 1118.9 L1313.7 1114.9 L1315.2 1114.2ZM1369.8 1115.9 L1373.8 1115.9 L1374.5 1117.4 L1376 1118.1 L1376 1122.1 L1374.5 1122.8 L1373.8 1124.3 L1369.8 1124.3 L1369.1 1122.8 L1367.6 1122.1 L1367.6 1118.1 L1369.1 1117.4ZM1300.3 1120.4 L1304.3 1120.4 L1305 1121.9 L1306.5 1122.6 L1306.5 1126.6 L1305 1127.3 L1304.3 1128.8 L1300.3 1128.8 L1299.6 1127.3 L1298.1 1126.6 L1298.1 1122.6 L1299.6 1121.9ZM1326.3 1119.8 L1330.3 1119.8 L1331 1121.3 L1332.5 1122 L1332.5 1126 L1331 1126.7 L1330.3 1128.2 L1326.3 1128.2 L1325.6 1126.7 L1324.1 1126 L1324.1 1122 L1325.6 1121.3ZM1328.9 1124.3 L1332.9 1124.3 L1333.6 1125.8 L1335.1 1126.5 L1335.1 1130.5 L1333.6 1131.2 L1332.9 1132.7 L1328.9 1132.7 L1328.2 1131.2 L1326.7 1130.5 L1326.7 1126.5 L1328.2 1125.8ZM1332.8 1128.2 L1336.8 1128.2 L1337.5 1129.7 L1339 1130.4 L1339 1134.4 L1337.5 1135.1 L1336.8 1136.6 L1332.8 1136.6 L1332.1 1135.1 L1330.6 1134.4 L1330.6 1130.4 L1332.1 1129.7ZM1330.2 1130.8 L1334.2 1130.8 L1334.9 1132.3 L1336.4 1133 L1336.4 1137 L1334.9 1137.7 L1334.2 1139.2 L1330.2 1139.2 L1329.5 1137.7 L1328 1137 L1328 1133 L1329.5 1132.3ZM1309.4 1136 L1313.4 1136 L1314.1 1137.5 L1315.6 1138.2 L1315.6 1142.2 L1314.1 1142.9 L1313.4 1144.4 L1309.4 1144.4 L1308.7 1142.9 L1307.2 1142.2 L1307.2 1138.2 L1308.7 1137.5ZM1314.6 1136 L1318.6 1136 L1319.3 1137.5 L1320.8 1138.2 L1320.8 1142.2 L1319.3 1142.9 L1318.6 1144.4 L1314.6 1144.4 L1313.9 1142.9 L1312.4 1142.2 L1312.4 1138.2 L1313.9 1137.5ZM1318.5 1134.1 L1322.5 1134.1 L1323.2 1135.6 L1324.7 1136.3 L1324.7 1140.3 L1323.2 1141 L1322.5 1142.5 L1318.5 1142.5 L1317.8 1141 L1316.3 1140.3 L1316.3 1136.3 L1317.8 1135.6ZM1306.8 1143.8 L1310.8 1143.8 L1311.5 1145.3 L1313 1146 L1313 1150 L1311.5 1150.7 L1310.8 1152.2 L1306.8 1152.2 L1306.1 1150.7 L1304.6 1150 L1304.6 1146 L1306.1 1145.3ZM1345.1 1136 L1349.1 1136 L1349.8 1137.5 L1351.3 1138.2 L1351.3 1142.2 L1349.8 1142.9 L1349.1 1144.4 L1345.1 1144.4 L1344.4 1142.9 L1342.9 1142.2 L1342.9 1138.2 L1344.4 1137.5ZM1363.5 1138.4 L1367.5 1138.4 L1368.2 1139.9 L1369.7 1140.6 L1369.7 1144.6 L1368.2 1145.3 L1367.5 1146.8 L1363.5 1146.8 L1362.8 1145.3 L1361.3 1144.6 L1361.3 1140.6 L1362.8 1139.9ZM1234.8 1142.5 L1238.8 1142.5 L1239.5 1144 L1241 1144.7 L1241 1148.7 L1239.5 1149.4 L1238.8 1150.9 L1234.8 1150.9 L1234.1 1149.4 L1232.6 1148.7 L1232.6 1144.7 L1234.1 1144ZM1224.4 1150.3 L1228.4 1150.3 L1229.1 1151.8 L1230.6 1152.5 L1230.6 1156.5 L1229.1 1157.2 L1228.4 1158.7 L1224.4 1158.7 L1223.7 1157.2 L1222.2 1156.5 L1222.2 1152.5 L1223.7 1151.8ZM1220.5 1156.8 L1224.5 1156.8 L1225.2 1158.3 L1226.7 1159 L1226.7 1163 L1225.2 1163.7 L1224.5 1165.2 L1220.5 1165.2 L1219.8 1163.7 L1218.3 1163 L1218.3 1159 L1219.8 1158.3ZM1326.7 1146.7 L1330.7 1146.7 L1331.4 1148.2 L1332.9 1148.9 L1332.9 1152.9 L1331.4 1153.6 L1330.7 1155.1 L1326.7 1155.1 L1326 1153.6 L1324.5 1152.9 L1324.5 1148.9 L1326 1148.2ZM1297.7 1152.5 L1301.7 1152.5 L1302.4 1154 L1303.9 1154.7 L1303.9 1158.7 L1302.4 1159.4 L1301.7 1160.9 L1297.7 1160.9 L1297 1159.4 L1295.5 1158.7 L1295.5 1154.7 L1297 1154ZM1302.3 1160.9 L1306.3 1160.9 L1307 1162.4 L1308.5 1163.1 L1308.5 1167.1 L1307 1167.8 L1306.3 1169.3 L1302.3 1169.3 L1301.6 1167.8 L1300.1 1167.1 L1300.1 1163.1 L1301.6 1162.4ZM1322.4 1156.1 L1326.4 1156.1 L1327.1 1157.6 L1328.6 1158.3 L1328.6 1162.3 L1327.1 1163 L1326.4 1164.5 L1322.4 1164.5 L1321.7 1163 L1320.2 1162.3 L1320.2 1158.3 L1321.7 1157.6ZM1320.4 1165.2 L1324.4 1165.2 L1325.1 1166.7 L1326.6 1167.4 L1326.6 1171.4 L1325.1 1172.1 L1324.4 1173.6 L1320.4 1173.6 L1319.7 1172.1 L1318.2 1171.4 L1318.2 1167.4 L1319.7 1166.7ZM1296 1175.2 L1300 1175.2 L1300.7 1176.7 L1302.2 1177.4 L1302.2 1181.4 L1300.7 1182.1 L1300 1183.6 L1296 1183.6 L1295.3 1182.1 L1293.8 1181.4 L1293.8 1177.4 L1295.3 1176.7ZM1274.4 1177.6 L1278.4 1177.6 L1279.1 1179.1 L1280.6 1179.8 L1280.6 1183.8 L1279.1 1184.5 L1278.4 1186 L1274.4 1186 L1273.7 1184.5 L1272.2 1183.8 L1272.2 1179.8 L1273.7 1179.1ZM1277 1179.5 L1281 1179.5 L1281.7 1181 L1283.2 1181.7 L1283.2 1185.7 L1281.7 1186.4 L1281 1187.9 L1277 1187.9 L1276.3 1186.4 L1274.8 1185.7 L1274.8 1181.7 L1276.3 1181ZM1222.4 1176.9 L1226.4 1176.9 L1227.1 1178.4 L1228.6 1179.1 L1228.6 1183.1 L1227.1 1183.8 L1226.4 1185.3 L1222.4 1185.3 L1221.7 1183.8 L1220.2 1183.1 L1220.2 1179.1 L1221.7 1178.4ZM1216.6 1180.8 L1220.6 1180.8 L1221.3 1182.3 L1222.8 1183 L1222.8 1187 L1221.3 1187.7 L1220.6 1189.2 L1216.6 1189.2 L1215.9 1187.7 L1214.4 1187 L1214.4 1183 L1215.9 1182.3ZM1208.2 1187.3 L1212.2 1187.3 L1212.9 1188.8 L1214.4 1189.5 L1214.4 1193.5 L1212.9 1194.2 L1212.2 1195.7 L1208.2 1195.7 L1207.5 1194.2 L1206 1193.5 L1206 1189.5 L1207.5 1188.8ZM1236.7 1185.3 L1240.7 1185.3 L1241.4 1186.8 L1242.9 1187.5 L1242.9 1191.5 L1241.4 1192.2 L1240.7 1193.7 L1236.7 1193.7 L1236 1192.2 L1234.5 1191.5 L1234.5 1187.5 L1236 1186.8ZM1279.6 1190.5 L1283.6 1190.5 L1284.3 1192 L1285.8 1192.7 L1285.8 1196.7 L1284.3 1197.4 L1283.6 1198.9 L1279.6 1198.9 L1278.9 1197.4 L1277.4 1196.7 L1277.4 1192.7 L1278.9 1192ZM1283.5 1195.7 L1287.5 1195.7 L1288.2 1197.2 L1289.7 1197.9 L1289.7 1201.9 L1288.2 1202.6 L1287.5 1204.1 L1283.5 1204.1 L1282.8 1202.6 L1281.3 1201.9 L1281.3 1197.9 L1282.8 1197.2ZM1288.6 1199.6 L1292.6 1199.6 L1293.3 1201.1 L1294.8 1201.8 L1294.8 1205.8 L1293.3 1206.5 L1292.6 1208 L1288.6 1208 L1287.9 1206.5 L1286.4 1205.8 L1286.4 1201.8 L1287.9 1201.1ZM1296.4 1197 L1300.4 1197 L1301.1 1198.5 L1302.6 1199.2 L1302.6 1203.2 L1301.1 1203.9 L1300.4 1205.4 L1296.4 1205.4 L1295.7 1203.9 L1294.2 1203.2 L1294.2 1199.2 L1295.7 1198.5ZM1297.7 1189.2 L1301.7 1189.2 L1302.4 1190.7 L1303.9 1191.4 L1303.9 1195.4 L1302.4 1196.1 L1301.7 1197.6 L1297.7 1197.6 L1297 1196.1 L1295.5 1195.4 L1295.5 1191.4 L1297 1190.7ZM1322.4 1197.7 L1326.4 1197.7 L1327.1 1199.2 L1328.6 1199.9 L1328.6 1203.9 L1327.1 1204.6 L1326.4 1206.1 L1322.4 1206.1 L1321.7 1204.6 L1320.2 1203.9 L1320.2 1199.9 L1321.7 1199.2ZM1277.6 1205.5 L1281.6 1205.5 L1282.3 1207 L1283.8 1207.7 L1283.8 1211.7 L1282.3 1212.4 L1281.6 1213.9 L1277.6 1213.9 L1276.9 1212.4 L1275.4 1211.7 L1275.4 1207.7 L1276.9 1207ZM1260.7 1206.8 L1264.7 1206.8 L1265.4 1208.3 L1266.9 1209 L1266.9 1213 L1265.4 1213.7 L1264.7 1215.2 L1260.7 1215.2 L1260 1213.7 L1258.5 1213 L1258.5 1209 L1260 1208.3ZM1269.2 1208.7 L1273.2 1208.7 L1273.9 1210.2 L1275.4 1210.9 L1275.4 1214.9 L1273.9 1215.6 L1273.2 1217.1 L1269.2 1217.1 L1268.5 1215.6 L1267 1214.9 L1267 1210.9 L1268.5 1210.2ZM1270.5 1213.9 L1274.5 1213.9 L1275.2 1215.4 L1276.7 1216.1 L1276.7 1220.1 L1275.2 1220.8 L1274.5 1222.3 L1270.5 1222.3 L1269.8 1220.8 L1268.3 1220.1 L1268.3 1216.1 L1269.8 1215.4ZM1274.4 1217.8 L1278.4 1217.8 L1279.1 1219.3 L1280.6 1220 L1280.6 1224 L1279.1 1224.7 L1278.4 1226.2 L1274.4 1226.2 L1273.7 1224.7 L1272.2 1224 L1272.2 1220 L1273.7 1219.3ZM1262.7 1220.4 L1266.7 1220.4 L1267.4 1221.9 L1268.9 1222.6 L1268.9 1226.6 L1267.4 1227.3 L1266.7 1228.8 L1262.7 1228.8 L1262 1227.3 L1260.5 1226.6 L1260.5 1222.6 L1262 1221.9ZM1266.6 1222.3 L1270.6 1222.3 L1271.3 1223.8 L1272.8 1224.5 L1272.8 1228.5 L1271.3 1229.2 L1270.6 1230.7 L1266.6 1230.7 L1265.9 1229.2 L1264.4 1228.5 L1264.4 1224.5 L1265.9 1223.8ZM1293.8 1210 L1297.8 1210 L1298.5 1211.5 L1300 1212.2 L1300 1216.2 L1298.5 1216.9 L1297.8 1218.4 L1293.8 1218.4 L1293.1 1216.9 L1291.6 1216.2 L1291.6 1212.2 L1293.1 1211.5ZM1293.8 1213.9 L1297.8 1213.9 L1298.5 1215.4 L1300 1216.1 L1300 1220.1 L1298.5 1220.8 L1297.8 1222.3 L1293.8 1222.3 L1293.1 1220.8 L1291.6 1220.1 L1291.6 1216.1 L1293.1 1215.4ZM1293.8 1220.4 L1297.8 1220.4 L1298.5 1221.9 L1300 1222.6 L1300 1226.6 L1298.5 1227.3 L1297.8 1228.8 L1293.8 1228.8 L1293.1 1227.3 L1291.6 1226.6 L1291.6 1222.6 L1293.1 1221.9ZM1308.4 1215.8 L1312.4 1215.8 L1313.1 1217.3 L1314.6 1218 L1314.6 1222 L1313.1 1222.7 L1312.4 1224.2 L1308.4 1224.2 L1307.7 1222.7 L1306.2 1222 L1306.2 1218 L1307.7 1217.3ZM1216.6 1209.7 L1220.6 1209.7 L1221.3 1211.2 L1222.8 1211.9 L1222.8 1215.9 L1221.3 1216.6 L1220.6 1218.1 L1216.6 1218.1 L1215.9 1216.6 L1214.4 1215.9 L1214.4 1211.9 L1215.9 1211.2ZM1226.3 1208.1 L1230.3 1208.1 L1231 1209.6 L1232.5 1210.3 L1232.5 1214.3 L1231 1215 L1230.3 1216.5 L1226.3 1216.5 L1225.6 1215 L1224.1 1214.3 L1224.1 1210.3 L1225.6 1209.6ZM1221.2 1219.1 L1225.2 1219.1 L1225.9 1220.6 L1227.4 1221.3 L1227.4 1225.3 L1225.9 1226 L1225.2 1227.5 L1221.2 1227.5 L1220.5 1226 L1219 1225.3 L1219 1221.3 L1220.5 1220.6ZM1225 1220.4 L1229 1220.4 L1229.7 1221.9 L1231.2 1222.6 L1231.2 1226.6 L1229.7 1227.3 L1229 1228.8 L1225 1228.8 L1224.3 1227.3 L1222.8 1226.6 L1222.8 1222.6 L1224.3 1221.9ZM1223.1 1226.2 L1227.1 1226.2 L1227.8 1227.7 L1229.3 1228.4 L1229.3 1232.4 L1227.8 1233.1 L1227.1 1234.6 L1223.1 1234.6 L1222.4 1233.1 L1220.9 1232.4 L1220.9 1228.4 L1222.4 1227.7ZM1240.6 1221.7 L1244.6 1221.7 L1245.3 1223.2 L1246.8 1223.9 L1246.8 1227.9 L1245.3 1228.6 L1244.6 1230.1 L1240.6 1230.1 L1239.9 1228.6 L1238.4 1227.9 L1238.4 1223.9 L1239.9 1223.2ZM1247.1 1228.2 L1251.1 1228.2 L1251.8 1229.7 L1253.3 1230.4 L1253.3 1234.4 L1251.8 1235.1 L1251.1 1236.6 L1247.1 1236.6 L1246.4 1235.1 L1244.9 1234.4 L1244.9 1230.4 L1246.4 1229.7ZM1267.9 1230.8 L1271.9 1230.8 L1272.6 1232.3 L1274.1 1233 L1274.1 1237 L1272.6 1237.7 L1271.9 1239.2 L1267.9 1239.2 L1267.2 1237.7 L1265.7 1237 L1265.7 1233 L1267.2 1232.3ZM1274.4 1228.2 L1278.4 1228.2 L1279.1 1229.7 L1280.6 1230.4 L1280.6 1234.4 L1279.1 1235.1 L1278.4 1236.6 L1274.4 1236.6 L1273.7 1235.1 L1272.2 1234.4 L1272.2 1230.4 L1273.7 1229.7ZM1279.6 1232.1 L1283.6 1232.1 L1284.3 1233.6 L1285.8 1234.3 L1285.8 1238.3 L1284.3 1239 L1283.6 1240.5 L1279.6 1240.5 L1278.9 1239 L1277.4 1238.3 L1277.4 1234.3 L1278.9 1233.6ZM1283.5 1225.6 L1287.5 1225.6 L1288.2 1227.1 L1289.7 1227.8 L1289.7 1231.8 L1288.2 1232.5 L1287.5 1234 L1283.5 1234 L1282.8 1232.5 L1281.3 1231.8 L1281.3 1227.8 L1282.8 1227.1ZM1269.2 1236 L1273.2 1236 L1273.9 1237.5 L1275.4 1238.2 L1275.4 1242.2 L1273.9 1242.9 L1273.2 1244.4 L1269.2 1244.4 L1268.5 1242.9 L1267 1242.2 L1267 1238.2 L1268.5 1237.5ZM1236.7 1236.6 L1240.7 1236.6 L1241.4 1238.1 L1242.9 1238.8 L1242.9 1242.8 L1241.4 1243.5 L1240.7 1245 L1236.7 1245 L1236 1243.5 L1234.5 1242.8 L1234.5 1238.8 L1236 1238.1Z" fill="#a5cd3f"/></g>
<g><path d="M1531.2 1097 H1544.2 V1245.8 H1531.2 M1531.2 1216 H1544.2 M1531.2 1186.3 H1544.2 M1531.2 1156.5 H1544.2 M1531.2 1126.8 H1544.2 M1552.6 1265.9 V1251.9 H1754.9 V1265.9 M1593.1 1251.9 V1265.9 M1633.5 1251.9 V1265.9 M1674 1251.9 V1265.9 M1714.4 1251.9 V1265.9" fill="none" stroke="#000" stroke-width="2.4"/><text class="t" transform="translate(1514.7 1246.5) rotate(-90)" font-size="18.5" text-anchor="middle">0</text><text class="t" transform="translate(1514.7 1187) rotate(-90)" font-size="18.5" text-anchor="middle">0.4</text><text class="t" transform="translate(1514.7 1127.5) rotate(-90)" font-size="18.5" text-anchor="middle">0.8</text><text class="t" x="1551.1" y="1299.9" font-size="18.5" text-anchor="middle">0</text><text class="t" x="1591.6" y="1299.9" font-size="18.5" text-anchor="middle">10</text><text class="t" x="1632" y="1299.9" font-size="18.5" text-anchor="middle">20</text><text class="t" x="1672.5" y="1299.9" font-size="18.5" text-anchor="middle">30</text><text class="t" x="1712.9" y="1299.9" font-size="18.5" text-anchor="middle">40</text><text class="t" x="1753.4" y="1299.9" font-size="18.5" text-anchor="middle">50</text><text class="t" x="1651.4" y="1060.9" font-size="23" text-anchor="middle">T</text><path d="M1559.1 1101.9 L1565 1105.2 L1567.6 1108.4 L1565 1113 L1565 1120.7 L1566.9 1124.6 L1565 1128.5 L1568.9 1132.4 L1570.2 1138.9 L1570.2 1144.1 L1574 1148 L1575.3 1151.9 L1576.6 1158.4 L1577.9 1164.9 L1579.2 1170.1 L1576.6 1175.3 L1580.5 1179.2 L1579.2 1183 L1576.6 1185.6 L1577.9 1192.1 L1577.9 1199.9 L1577.9 1206.4 L1579.2 1215.5 L1575.3 1219.4 L1571.4 1216.8 L1570.2 1222 L1572.7 1227.2 L1577.9 1223.3 L1581.2 1226.5 L1576.6 1231.1 L1572.7 1236.3 L1568.9 1238.9 L1566.3 1244.1 L1561.7 1240.2 L1559.8 1233.7 L1558.5 1227.2 L1557.8 1216.8 L1557.2 1210.3 L1555.9 1201.2 L1558.5 1193.4 L1562.4 1189.5 L1558.5 1180.5 L1559.8 1175.3 L1555.9 1168.8 L1555.9 1159.7 L1555.9 1149.3 L1553.9 1142.8 L1555.2 1132.4 L1553.9 1120.7 L1555.9 1113 L1555.9 1105.2Z" fill="#a5cd3f"/><path d="M1579.8 1142.5 L1583.8 1142.5 L1584.5 1144 L1586 1144.7 L1586 1148.7 L1584.5 1149.4 L1583.8 1150.9 L1579.8 1150.9 L1579.1 1149.4 L1577.6 1148.7 L1577.6 1144.7 L1579.1 1144ZM1594.1 1150.6 L1598.1 1150.6 L1598.8 1152.1 L1600.3 1152.8 L1600.3 1156.8 L1598.8 1157.5 L1598.1 1159 L1594.1 1159 L1593.4 1157.5 L1591.9 1156.8 L1591.9 1152.8 L1593.4 1152.1ZM1604.5 1156.8 L1608.5 1156.8 L1609.2 1158.3 L1610.7 1159 L1610.7 1163 L1609.2 1163.7 L1608.5 1165.2 L1604.5 1165.2 L1603.8 1163.7 L1602.3 1163 L1602.3 1159 L1603.8 1158.3ZM1600.3 1177.3 L1604.3 1177.3 L1605 1178.8 L1606.5 1179.5 L1606.5 1183.5 L1605 1184.2 L1604.3 1185.7 L1600.3 1185.7 L1599.6 1184.2 L1598.1 1183.5 L1598.1 1179.5 L1599.6 1178.8ZM1618.8 1181.4 L1622.8 1181.4 L1623.5 1182.9 L1625 1183.6 L1625 1187.6 L1623.5 1188.3 L1622.8 1189.8 L1618.8 1189.8 L1618.1 1188.3 L1616.6 1187.6 L1616.6 1183.6 L1618.1 1182.9ZM1579.8 1185.6 L1583.8 1185.6 L1584.5 1187.1 L1586 1187.8 L1586 1191.8 L1584.5 1192.5 L1583.8 1194 L1579.8 1194 L1579.1 1192.5 L1577.6 1191.8 L1577.6 1187.8 L1579.1 1187.1ZM1718.7 1187.3 L1722.7 1187.3 L1723.4 1188.8 L1724.9 1189.5 L1724.9 1193.5 L1723.4 1194.2 L1722.7 1195.7 L1718.7 1195.7 L1718 1194.2 L1716.5 1193.5 L1716.5 1189.5 L1718 1188.8ZM1590.2 1207.8 L1594.2 1207.8 L1594.9 1209.3 L1596.4 1210 L1596.4 1214 L1594.9 1214.7 L1594.2 1216.2 L1590.2 1216.2 L1589.5 1214.7 L1588 1214 L1588 1210 L1589.5 1209.3ZM1622.9 1210 L1626.9 1210 L1627.6 1211.5 L1629.1 1212.2 L1629.1 1216.2 L1627.6 1216.9 L1626.9 1218.4 L1622.9 1218.4 L1622.2 1216.9 L1620.7 1216.2 L1620.7 1212.2 L1622.2 1211.5ZM1596.1 1225.6 L1600.1 1225.6 L1600.8 1227.1 L1602.3 1227.8 L1602.3 1231.8 L1600.8 1232.5 L1600.1 1234 L1596.1 1234 L1595.4 1232.5 L1593.9 1231.8 L1593.9 1227.8 L1595.4 1227.1ZM1600.6 1221.7 L1604.6 1221.7 L1605.3 1223.2 L1606.8 1223.9 L1606.8 1227.9 L1605.3 1228.6 L1604.6 1230.1 L1600.6 1230.1 L1599.9 1228.6 L1598.4 1227.9 L1598.4 1223.9 L1599.9 1223.2ZM1604.5 1220.4 L1608.5 1220.4 L1609.2 1221.9 L1610.7 1222.6 L1610.7 1226.6 L1609.2 1227.3 L1608.5 1228.8 L1604.5 1228.8 L1603.8 1227.3 L1602.3 1226.6 L1602.3 1222.6 L1603.8 1221.9ZM1599.3 1226.9 L1603.3 1226.9 L1604 1228.4 L1605.5 1229.1 L1605.5 1233.1 L1604 1233.8 L1603.3 1235.3 L1599.3 1235.3 L1598.6 1233.8 L1597.1 1233.1 L1597.1 1229.1 L1598.6 1228.4ZM1579.8 1236.3 L1583.8 1236.3 L1584.5 1237.8 L1586 1238.5 L1586 1242.5 L1584.5 1243.2 L1583.8 1244.7 L1579.8 1244.7 L1579.1 1243.2 L1577.6 1242.5 L1577.6 1238.5 L1579.1 1237.8Z" fill="#a5cd3f"/></g>
</svg></body></html>
